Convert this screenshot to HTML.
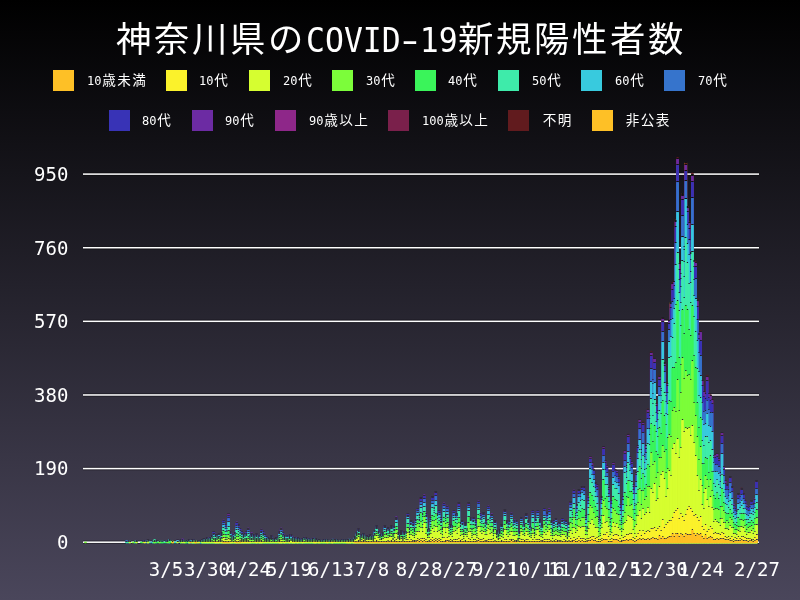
<!DOCTYPE html>
<html lang="ja"><head><meta charset="utf-8"><title>神奈川県のCOVID-19新規陽性者数</title>
<style>
html,body{margin:0;padding:0}
body{width:800px;height:600px;overflow:hidden;position:relative;background:linear-gradient(180deg,#000 0%,#4a465b 100%);color:#fff;font-family:"DejaVu Sans Mono","Noto Sans CJK JP",monospace}
#title{position:absolute;left:116.45px;top:13px;font:35.4px/48px "Noto Sans CJK JP",sans-serif;letter-spacing:2.6px;white-space:nowrap}
.tl{display:inline-block;font:34px/48px "DejaVu Sans Mono",monospace;letter-spacing:0;transform:scaleX(0.926);transform-origin:0 0;margin-right:-11.8px}
.lb{position:absolute;width:21px;height:21px}
.lt{position:absolute;font-size:12px;line-height:0;white-space:nowrap;color:#fff}
.cj{font-family:"Noto Sans CJK JP",sans-serif;font-size:13.6px;letter-spacing:1.4px;margin-left:0.7px}
.yl{position:absolute;right:732px;font-size:19px;line-height:22px;text-align:right}
.xl{position:absolute;top:558px;width:100px;text-align:center;font-size:19px;line-height:22px}
svg{position:absolute;left:0;top:0;filter:blur(0.35px)}
#title,.lt,.yl,.xl{will-change:transform}
.hy{display:inline-block;transform:scaleX(1.55) translateY(-0.5px)}
</style></head><body>
<div id="title">神奈川県の<span class="tl">COVID<span class="hy">-</span>19</span>新規陽性者数</div>
<div class="lb" style="left:53px;top:70px;background:#fec026"></div>
<div class="lt" style="left:86.50px;top:78.5px">10<span class="cj">歳未満</span></div>
<div class="lb" style="left:165.75px;top:70px;background:#fbf22b"></div>
<div class="lt" style="left:199.00px;top:78.5px">10<span class="cj">代</span></div>
<div class="lb" style="left:249px;top:70px;background:#d6fe30"></div>
<div class="lt" style="left:282.75px;top:78.5px">20<span class="cj">代</span></div>
<div class="lb" style="left:332px;top:70px;background:#7cfd3a"></div>
<div class="lt" style="left:365.75px;top:78.5px">30<span class="cj">代</span></div>
<div class="lb" style="left:415px;top:70px;background:#3af45a"></div>
<div class="lt" style="left:448.25px;top:78.5px">40<span class="cj">代</span></div>
<div class="lb" style="left:498px;top:70px;background:#3eebaa"></div>
<div class="lt" style="left:531.50px;top:78.5px">50<span class="cj">代</span></div>
<div class="lb" style="left:581.25px;top:70px;background:#38cade"></div>
<div class="lt" style="left:614.50px;top:78.5px">60<span class="cj">代</span></div>
<div class="lb" style="left:664px;top:70px;background:#3674cc"></div>
<div class="lt" style="left:697.75px;top:78.5px">70<span class="cj">代</span></div>
<div class="lb" style="left:108.75px;top:110px;background:#3833b6"></div>
<div class="lt" style="left:142.00px;top:118.5px">80<span class="cj">代</span></div>
<div class="lb" style="left:192px;top:110px;background:#6c2ba3"></div>
<div class="lt" style="left:225.25px;top:118.5px">90<span class="cj">代</span></div>
<div class="lb" style="left:275px;top:110px;background:#8e2789"></div>
<div class="lt" style="left:308.50px;top:118.5px">90<span class="cj">歳以上</span></div>
<div class="lb" style="left:388px;top:110px;background:#7a204b"></div>
<div class="lt" style="left:421.50px;top:118.5px">100<span class="cj">歳以上</span></div>
<div class="lb" style="left:508px;top:110px;background:#611b1e"></div>
<div class="lt" style="left:541.50px;top:118.5px"><span class="cj">不明</span></div>
<div class="lb" style="left:592px;top:110px;background:#fec026"></div>
<div class="lt" style="left:625.25px;top:118.5px"><span class="cj">非公表</span></div>
<svg width="800" height="600" viewBox="0 0 800 600"><rect x="83" y="540.45" width="676" height="3.5" fill="#000" fill-opacity="0.35"/><rect x="83" y="541.45" width="676" height="1.5" fill="#fff"/><rect x="83" y="466.83" width="676" height="3.5" fill="#000" fill-opacity="0.35"/><rect x="83" y="467.83" width="676" height="1.5" fill="#fff"/><rect x="83" y="393.21" width="676" height="3.5" fill="#000" fill-opacity="0.35"/><rect x="83" y="394.21" width="676" height="1.5" fill="#fff"/><rect x="83" y="319.59" width="676" height="3.5" fill="#000" fill-opacity="0.35"/><rect x="83" y="320.59" width="676" height="1.5" fill="#fff"/><rect x="83" y="245.97" width="676" height="3.5" fill="#000" fill-opacity="0.35"/><rect x="83" y="246.97" width="676" height="1.5" fill="#fff"/><rect x="83" y="172.35" width="676" height="3.5" fill="#000" fill-opacity="0.35"/><rect x="83" y="173.35" width="676" height="1.5" fill="#fff"/><path fill="#fec026" stroke="#fec026" stroke-width="0.9" d="M670.18 302.57h1.64v240.23h-1.64zM681.70 193.69h1.64v349.11h-1.64zM684.99 162.69h1.64v380.11h-1.64zM686.63 206.47h1.64v336.33h-1.64zM689.92 252.58h1.64v290.22h-1.64z"/><path fill="#611b1e" stroke="#611b1e" stroke-width="0.9" d="M198.13 540.86h1.64v1.94h-1.64zM227.74 513.74h1.64v29.06h-1.64zM237.61 524.59h1.64v18.21h-1.64zM418.53 514.90h1.64v27.90h-1.64zM420.18 497.85h1.64v44.95h-1.64zM431.69 496.69h1.64v46.11h-1.64zM433.34 507.93h1.64v34.87h-1.64zM434.98 491.65h1.64v51.15h-1.64zM444.85 514.90h1.64v27.90h-1.64zM456.36 513.74h1.64v29.06h-1.64zM458.01 502.89h1.64v39.91h-1.64zM467.88 502.89h1.64v39.91h-1.64zM482.68 512.96h1.64v29.84h-1.64zM485.97 520.71h1.64v22.09h-1.64zM504.06 509.86h1.64v32.94h-1.64zM525.44 513.74h1.64v29.06h-1.64zM538.60 519.94h1.64v22.86h-1.64zM546.82 512.96h1.64v29.84h-1.64zM569.85 501.73h1.64v41.07h-1.64zM576.43 504.83h1.64v37.97h-1.64zM578.08 489.72h1.64v53.08h-1.64zM579.72 492.43h1.64v50.37h-1.64zM581.36 486.62h1.64v56.18h-1.64zM583.01 486.62h1.64v56.18h-1.64zM589.59 456.78h1.64v86.02h-1.64zM591.23 462.98h1.64v79.82h-1.64zM592.88 469.18h1.64v73.62h-1.64zM594.52 482.74h1.64v60.06h-1.64zM596.17 484.68h1.64v58.12h-1.64zM601.10 496.30h1.64v46.50h-1.64zM602.75 447.09h1.64v95.71h-1.64zM604.39 460.66h1.64v82.14h-1.64zM606.04 465.31h1.64v77.49h-1.64zM607.68 487.78h1.64v55.02h-1.64zM612.62 462.98h1.64v79.82h-1.64zM614.26 469.18h1.64v73.62h-1.64zM615.91 470.73h1.64v72.07h-1.64zM617.55 476.93h1.64v65.87h-1.64zM624.13 450.97h1.64v91.83h-1.64zM625.77 465.31h1.64v77.49h-1.64zM627.42 434.31h1.64v108.49h-1.64zM629.06 456.78h1.64v86.02h-1.64zM630.71 461.43h1.64v81.37h-1.64zM632.35 484.68h1.64v58.12h-1.64zM635.64 473.05h1.64v69.75h-1.64zM637.29 445.93h1.64v96.87h-1.64zM638.93 419.58h1.64v123.22h-1.64zM640.58 449.81h1.64v92.99h-1.64zM642.22 421.91h1.64v120.89h-1.64zM643.87 454.84h1.64v87.96h-1.64zM645.51 445.93h1.64v96.87h-1.64zM647.16 409.12h1.64v133.68h-1.64zM648.80 414.93h1.64v127.87h-1.64zM650.45 351.78h1.64v191.02h-1.64zM652.09 380.06h1.64v162.74h-1.64zM653.73 358.36h1.64v184.44h-1.64zM655.38 402.92h1.64v139.88h-1.64zM657.02 410.67h1.64v132.13h-1.64zM658.67 375.80h1.64v167.00h-1.64zM660.31 387.81h1.64v154.99h-1.64zM661.96 317.68h1.64v225.12h-1.64zM663.60 362.62h1.64v180.18h-1.64zM665.25 392.85h1.64v149.95h-1.64zM666.89 382.77h1.64v160.03h-1.64zM668.54 320.00h1.64v222.80h-1.64zM670.18 302.95h1.64v239.85h-1.64zM671.83 282.81h1.64v259.99h-1.64zM673.47 280.87h1.64v261.93h-1.64zM675.12 219.65h1.64v323.15h-1.64zM676.76 157.65h1.64v385.15h-1.64zM678.41 262.66h1.64v280.14h-1.64zM680.05 272.73h1.64v270.07h-1.64zM681.70 194.07h1.64v348.73h-1.64zM683.34 245.61h1.64v297.19h-1.64zM684.99 163.08h1.64v379.72h-1.64zM686.63 206.86h1.64v335.94h-1.64zM688.27 221.58h1.64v321.22h-1.64zM689.92 252.97h1.64v289.83h-1.64zM691.56 173.15h1.64v369.65h-1.64zM693.21 259.94h1.64v282.86h-1.64zM694.85 261.88h1.64v280.92h-1.64zM696.50 299.85h1.64v242.95h-1.64zM698.14 333.56h1.64v209.24h-1.64zM699.79 330.85h1.64v211.95h-1.64zM701.43 380.06h1.64v162.74h-1.64zM703.08 390.91h1.64v151.89h-1.64zM704.72 392.85h1.64v149.95h-1.64zM706.37 375.80h1.64v167.00h-1.64zM708.01 393.24h1.64v149.56h-1.64zM709.66 394.79h1.64v148.01h-1.64zM711.30 399.43h1.64v143.37h-1.64zM712.95 455.62h1.64v87.18h-1.64zM714.59 454.84h1.64v87.96h-1.64zM716.24 453.68h1.64v89.12h-1.64zM717.88 458.72h1.64v84.08h-1.64zM719.53 473.05h1.64v69.75h-1.64zM721.17 432.76h1.64v110.04h-1.64zM722.82 466.86h1.64v75.94h-1.64zM724.46 480.80h1.64v62.00h-1.64zM726.10 484.68h1.64v58.12h-1.64zM729.39 476.93h1.64v65.87h-1.64zM731.04 486.62h1.64v56.18h-1.64zM735.97 511.03h1.64v31.77h-1.64zM737.62 493.59h1.64v49.21h-1.64zM740.91 488.17h1.64v54.63h-1.64zM742.55 493.59h1.64v49.21h-1.64zM744.20 500.18h1.64v42.62h-1.64zM750.78 500.57h1.64v42.23h-1.64zM752.42 504.05h1.64v38.75h-1.64zM755.71 480.80h1.64v62.00h-1.64z"/><path fill="#7a204b" stroke="#7a204b" stroke-width="0.9" d="M650.45 352.55h1.64v190.25h-1.64zM653.73 358.75h1.64v184.05h-1.64zM661.96 318.45h1.64v224.35h-1.64zM663.60 363.40h1.64v179.40h-1.64zM668.54 320.78h1.64v222.02h-1.64zM670.18 303.73h1.64v239.07h-1.64zM671.83 283.97h1.64v258.83h-1.64zM673.47 282.03h1.64v260.77h-1.64zM675.12 221.20h1.64v321.60h-1.64zM676.76 158.81h1.64v383.99h-1.64zM678.41 263.82h1.64v278.98h-1.64zM680.05 273.89h1.64v268.91h-1.64zM681.70 195.24h1.64v347.56h-1.64zM683.34 246.77h1.64v296.03h-1.64zM684.99 164.63h1.64v378.17h-1.64zM686.63 208.02h1.64v334.78h-1.64zM688.27 222.75h1.64v320.05h-1.64zM689.92 253.74h1.64v289.06h-1.64zM691.56 175.47h1.64v367.33h-1.64zM693.21 261.49h1.64v281.31h-1.64zM694.85 262.66h1.64v280.14h-1.64zM696.50 301.02h1.64v241.78h-1.64zM698.14 334.34h1.64v208.46h-1.64zM699.79 332.01h1.64v210.79h-1.64zM703.08 391.69h1.64v151.11h-1.64zM706.37 376.96h1.64v165.84h-1.64z"/><path fill="#8e2789" stroke="#8e2789" stroke-width="0.9" d=""/><path fill="#6c2ba3" stroke="#6c2ba3" stroke-width="0.9" d="M127.41 541.25h1.64v1.55h-1.64zM145.50 541.25h1.64v1.55h-1.64zM176.75 539.70h1.64v3.10h-1.64zM180.04 539.70h1.64v3.10h-1.64zM181.69 538.93h1.64v3.87h-1.64zM198.13 541.25h1.64v1.55h-1.64zM204.71 539.70h1.64v3.10h-1.64zM206.36 537.76h1.64v5.04h-1.64zM209.65 537.38h1.64v5.42h-1.64zM211.29 535.44h1.64v7.36h-1.64zM212.94 531.95h1.64v10.85h-1.64zM214.58 534.28h1.64v8.52h-1.64zM216.23 535.05h1.64v7.75h-1.64zM217.87 533.50h1.64v9.30h-1.64zM219.52 538.15h1.64v4.65h-1.64zM221.16 532.34h1.64v10.46h-1.64zM222.81 519.94h1.64v22.86h-1.64zM224.45 524.20h1.64v18.60h-1.64zM226.09 526.53h1.64v16.27h-1.64zM227.74 514.13h1.64v28.67h-1.64zM229.38 531.18h1.64v11.62h-1.64zM231.03 535.44h1.64v7.36h-1.64zM232.67 533.89h1.64v8.91h-1.64zM234.32 531.95h1.64v10.85h-1.64zM235.96 521.88h1.64v20.92h-1.64zM237.61 524.98h1.64v17.82h-1.64zM239.25 528.46h1.64v14.34h-1.64zM240.90 531.56h1.64v11.24h-1.64zM242.54 534.66h1.64v8.14h-1.64zM244.19 533.11h1.64v9.69h-1.64zM245.83 531.95h1.64v10.85h-1.64zM247.48 528.08h1.64v14.72h-1.64zM249.12 535.44h1.64v7.36h-1.64zM250.77 532.73h1.64v10.07h-1.64zM252.41 534.66h1.64v8.14h-1.64zM254.06 536.60h1.64v6.20h-1.64zM255.70 533.89h1.64v8.91h-1.64zM257.35 535.83h1.64v6.97h-1.64zM258.99 535.44h1.64v7.36h-1.64zM260.64 529.24h1.64v13.56h-1.64zM262.28 531.56h1.64v11.24h-1.64zM263.92 535.05h1.64v7.75h-1.64zM265.57 536.21h1.64v6.59h-1.64zM267.21 537.76h1.64v5.04h-1.64zM268.86 538.93h1.64v3.87h-1.64zM270.50 535.44h1.64v7.36h-1.64zM272.15 538.93h1.64v3.87h-1.64zM273.79 538.93h1.64v3.87h-1.64zM275.44 537.38h1.64v5.42h-1.64zM277.08 536.99h1.64v5.81h-1.64zM278.73 531.18h1.64v11.62h-1.64zM280.37 528.08h1.64v14.72h-1.64zM282.02 532.73h1.64v10.07h-1.64zM283.66 535.44h1.64v7.36h-1.64zM285.31 535.44h1.64v7.36h-1.64zM286.95 535.44h1.64v7.36h-1.64zM288.60 535.05h1.64v7.75h-1.64zM290.24 535.05h1.64v7.75h-1.64zM291.89 537.38h1.64v5.42h-1.64zM293.53 537.38h1.64v5.42h-1.64zM295.18 538.15h1.64v4.65h-1.64zM296.82 537.76h1.64v5.04h-1.64zM300.11 539.31h1.64v3.49h-1.64zM301.75 538.54h1.64v4.26h-1.64zM303.40 537.38h1.64v5.42h-1.64zM305.04 537.76h1.64v5.04h-1.64zM309.98 539.31h1.64v3.49h-1.64zM356.03 532.34h1.64v10.46h-1.64zM357.68 528.85h1.64v13.95h-1.64zM359.32 536.21h1.64v6.59h-1.64zM362.61 533.89h1.64v8.91h-1.64zM365.90 535.44h1.64v7.36h-1.64zM369.19 535.05h1.64v7.75h-1.64zM372.48 535.83h1.64v6.97h-1.64zM374.12 530.79h1.64v12.01h-1.64zM375.77 525.75h1.64v17.05h-1.64zM382.35 532.73h1.64v10.07h-1.64zM383.99 525.75h1.64v17.05h-1.64zM385.64 530.01h1.64v12.79h-1.64zM387.28 527.69h1.64v15.11h-1.64zM388.93 529.63h1.64v13.17h-1.64zM390.57 525.75h1.64v17.05h-1.64zM393.86 526.53h1.64v16.27h-1.64zM395.51 516.84h1.64v25.96h-1.64zM397.15 532.73h1.64v10.07h-1.64zM400.44 530.79h1.64v12.01h-1.64zM403.73 531.95h1.64v10.85h-1.64zM405.37 531.56h1.64v11.24h-1.64zM407.02 513.74h1.64v29.06h-1.64zM408.66 528.46h1.64v14.34h-1.64zM410.31 520.71h1.64v22.09h-1.64zM411.95 522.65h1.64v20.15h-1.64zM413.60 528.85h1.64v13.95h-1.64zM415.24 518.78h1.64v24.02h-1.64zM416.89 508.70h1.64v34.10h-1.64zM418.53 515.29h1.64v27.51h-1.64zM420.18 498.24h1.64v44.56h-1.64zM421.82 512.96h1.64v29.84h-1.64zM423.47 494.75h1.64v48.05h-1.64zM425.11 512.96h1.64v29.84h-1.64zM426.76 529.63h1.64v13.17h-1.64zM428.40 528.85h1.64v13.95h-1.64zM430.05 517.23h1.64v25.57h-1.64zM431.69 497.08h1.64v45.72h-1.64zM433.34 508.31h1.64v34.49h-1.64zM434.98 492.04h1.64v50.76h-1.64zM436.63 512.96h1.64v29.84h-1.64zM438.27 510.64h1.64v32.16h-1.64zM439.91 517.61h1.64v25.19h-1.64zM441.56 527.30h1.64v15.50h-1.64zM443.20 502.89h1.64v39.91h-1.64zM444.85 515.29h1.64v27.51h-1.64zM446.49 505.99h1.64v36.81h-1.64zM448.14 524.98h1.64v17.82h-1.64zM449.78 524.98h1.64v17.82h-1.64zM451.43 525.75h1.64v17.05h-1.64zM453.07 510.64h1.64v32.16h-1.64zM454.72 514.90h1.64v27.90h-1.64zM456.36 514.13h1.64v28.67h-1.64zM458.01 503.28h1.64v39.52h-1.64zM459.65 522.65h1.64v20.15h-1.64zM461.30 520.71h1.64v22.09h-1.64zM462.94 530.40h1.64v12.40h-1.64zM464.59 522.65h1.64v20.15h-1.64zM466.23 528.46h1.64v14.34h-1.64zM467.88 503.28h1.64v39.52h-1.64zM469.52 517.61h1.64v25.19h-1.64zM471.17 528.46h1.64v14.34h-1.64zM472.81 517.61h1.64v25.19h-1.64zM474.45 520.71h1.64v22.09h-1.64zM476.10 526.91h1.64v15.89h-1.64zM477.74 500.95h1.64v41.85h-1.64zM479.39 512.96h1.64v29.84h-1.64zM481.03 517.23h1.64v25.57h-1.64zM482.68 513.35h1.64v29.45h-1.64zM484.32 522.65h1.64v20.15h-1.64zM485.97 521.10h1.64v21.70h-1.64zM487.61 505.99h1.64v36.81h-1.64zM489.26 517.61h1.64v25.19h-1.64zM490.90 513.74h1.64v29.06h-1.64zM492.55 529.24h1.64v13.56h-1.64zM494.19 520.71h1.64v22.09h-1.64zM495.84 530.79h1.64v12.01h-1.64zM497.48 534.66h1.64v8.14h-1.64zM499.13 529.63h1.64v13.17h-1.64zM500.77 524.98h1.64v17.82h-1.64zM502.42 528.85h1.64v13.95h-1.64zM504.06 510.25h1.64v32.55h-1.64zM505.71 520.71h1.64v22.09h-1.64zM507.35 523.81h1.64v18.99h-1.64zM509.00 520.71h1.64v22.09h-1.64zM510.64 512.96h1.64v29.84h-1.64zM512.28 520.33h1.64v22.47h-1.64zM513.93 519.94h1.64v22.86h-1.64zM515.57 520.71h1.64v22.09h-1.64zM520.51 517.61h1.64v25.19h-1.64zM522.15 522.65h1.64v20.15h-1.64zM523.80 524.59h1.64v18.21h-1.64zM525.44 514.13h1.64v28.67h-1.64zM527.09 520.71h1.64v22.09h-1.64zM528.73 526.14h1.64v16.66h-1.64zM530.38 527.69h1.64v15.11h-1.64zM532.02 510.64h1.64v32.16h-1.64zM533.67 529.24h1.64v13.56h-1.64zM535.31 517.61h1.64v25.19h-1.64zM536.96 510.64h1.64v32.16h-1.64zM538.60 520.33h1.64v22.47h-1.64zM540.25 525.75h1.64v17.05h-1.64zM541.89 524.98h1.64v17.82h-1.64zM543.54 508.70h1.64v34.10h-1.64zM545.18 519.16h1.64v23.64h-1.64zM546.82 513.35h1.64v29.45h-1.64zM548.47 508.70h1.64v34.10h-1.64zM550.11 520.71h1.64v22.09h-1.64zM551.76 529.63h1.64v13.17h-1.64zM553.40 520.71h1.64v22.09h-1.64zM555.05 518.78h1.64v24.02h-1.64zM556.69 523.81h1.64v18.99h-1.64zM558.34 522.65h1.64v20.15h-1.64zM559.98 525.75h1.64v17.05h-1.64zM561.63 518.78h1.64v24.02h-1.64zM563.27 521.10h1.64v21.70h-1.64zM564.92 520.71h1.64v22.09h-1.64zM566.56 532.34h1.64v10.46h-1.64zM568.21 522.65h1.64v20.15h-1.64zM569.85 502.12h1.64v40.68h-1.64zM571.50 512.96h1.64v29.84h-1.64zM573.14 490.10h1.64v52.70h-1.64zM574.79 513.35h1.64v29.45h-1.64zM576.43 505.22h1.64v37.58h-1.64zM578.08 490.10h1.64v52.70h-1.64zM579.72 492.82h1.64v49.98h-1.64zM581.36 487.00h1.64v55.80h-1.64zM583.01 487.00h1.64v55.80h-1.64zM584.65 515.68h1.64v27.12h-1.64zM586.30 526.91h1.64v15.89h-1.64zM587.94 496.30h1.64v46.50h-1.64zM589.59 457.17h1.64v85.63h-1.64zM591.23 463.37h1.64v79.43h-1.64zM592.88 469.57h1.64v73.23h-1.64zM594.52 483.13h1.64v59.67h-1.64zM596.17 485.07h1.64v57.73h-1.64zM597.81 517.61h1.64v25.19h-1.64zM599.46 519.55h1.64v23.25h-1.64zM601.10 496.69h1.64v46.11h-1.64zM602.75 447.48h1.64v95.32h-1.64zM604.39 461.04h1.64v81.76h-1.64zM606.04 465.69h1.64v77.11h-1.64zM607.68 488.17h1.64v54.63h-1.64zM609.33 519.94h1.64v22.86h-1.64zM610.97 500.18h1.64v42.62h-1.64zM612.62 463.37h1.64v79.43h-1.64zM614.26 469.57h1.64v73.23h-1.64zM615.91 471.12h1.64v71.68h-1.64zM617.55 477.32h1.64v65.48h-1.64zM619.19 504.05h1.64v38.75h-1.64zM620.84 518.00h1.64v24.80h-1.64zM622.48 496.30h1.64v46.50h-1.64zM624.13 451.36h1.64v91.44h-1.64zM625.77 465.69h1.64v77.11h-1.64zM627.42 434.69h1.64v108.11h-1.64zM629.06 457.17h1.64v85.63h-1.64zM630.71 461.82h1.64v80.98h-1.64zM632.35 485.07h1.64v57.73h-1.64zM634.00 502.89h1.64v39.91h-1.64zM635.64 473.44h1.64v69.36h-1.64zM637.29 446.32h1.64v96.48h-1.64zM638.93 419.97h1.64v122.83h-1.64zM640.58 450.19h1.64v92.61h-1.64zM642.22 422.68h1.64v120.12h-1.64zM643.87 455.23h1.64v87.57h-1.64zM645.51 446.32h1.64v96.48h-1.64zM647.16 409.51h1.64v133.29h-1.64zM648.80 415.71h1.64v127.09h-1.64zM650.45 352.94h1.64v189.86h-1.64zM652.09 380.45h1.64v162.35h-1.64zM653.73 359.14h1.64v183.66h-1.64zM655.38 403.70h1.64v139.10h-1.64zM657.02 411.06h1.64v131.74h-1.64zM658.67 376.57h1.64v166.23h-1.64zM660.31 388.59h1.64v154.21h-1.64zM661.96 318.84h1.64v223.96h-1.64zM663.60 363.79h1.64v179.01h-1.64zM665.25 393.24h1.64v149.56h-1.64zM666.89 383.55h1.64v159.25h-1.64zM668.54 321.17h1.64v221.63h-1.64zM670.18 304.12h1.64v238.68h-1.64zM671.83 284.36h1.64v258.44h-1.64zM673.47 282.42h1.64v260.38h-1.64zM675.12 221.58h1.64v321.22h-1.64zM676.76 159.20h1.64v383.60h-1.64zM678.41 264.21h1.64v278.59h-1.64zM680.05 274.28h1.64v268.52h-1.64zM681.70 195.62h1.64v347.18h-1.64zM683.34 247.16h1.64v295.64h-1.64zM684.99 165.01h1.64v377.79h-1.64zM686.63 208.41h1.64v334.39h-1.64zM688.27 223.13h1.64v319.67h-1.64zM689.92 254.13h1.64v288.67h-1.64zM691.56 175.86h1.64v366.94h-1.64zM693.21 261.88h1.64v280.92h-1.64zM694.85 263.04h1.64v279.76h-1.64zM696.50 301.40h1.64v241.40h-1.64zM698.14 334.73h1.64v208.07h-1.64zM699.79 332.40h1.64v210.40h-1.64zM701.43 380.84h1.64v161.96h-1.64zM703.08 392.07h1.64v150.73h-1.64zM704.72 393.62h1.64v149.18h-1.64zM706.37 377.35h1.64v165.45h-1.64zM708.01 394.01h1.64v148.79h-1.64zM709.66 395.56h1.64v147.24h-1.64zM711.30 400.21h1.64v142.59h-1.64zM712.95 456.01h1.64v86.79h-1.64zM714.59 455.23h1.64v87.57h-1.64zM716.24 454.07h1.64v88.73h-1.64zM717.88 459.11h1.64v83.69h-1.64zM719.53 473.44h1.64v69.36h-1.64zM721.17 433.14h1.64v109.66h-1.64zM722.82 467.24h1.64v75.56h-1.64zM724.46 481.19h1.64v61.61h-1.64zM726.10 485.07h1.64v57.73h-1.64zM727.75 488.55h1.64v54.25h-1.64zM729.39 477.32h1.64v65.48h-1.64zM731.04 487.00h1.64v55.80h-1.64zM732.68 504.05h1.64v38.75h-1.64zM734.33 507.93h1.64v34.87h-1.64zM735.97 511.41h1.64v31.39h-1.64zM737.62 493.98h1.64v48.82h-1.64zM739.26 496.30h1.64v46.50h-1.64zM740.91 488.55h1.64v54.25h-1.64zM742.55 493.98h1.64v48.82h-1.64zM744.20 500.57h1.64v42.23h-1.64zM745.84 505.60h1.64v37.20h-1.64zM747.49 507.54h1.64v35.26h-1.64zM749.13 505.99h1.64v36.81h-1.64zM750.78 500.95h1.64v41.85h-1.64zM752.42 504.44h1.64v38.36h-1.64zM754.07 498.63h1.64v44.17h-1.64zM755.71 481.19h1.64v61.61h-1.64z"/><path fill="#3833b6" stroke="#3833b6" stroke-width="0.9" d="M142.21 541.25h1.64v1.55h-1.64zM143.86 540.48h1.64v2.32h-1.64zM147.15 539.70h1.64v3.10h-1.64zM155.37 540.48h1.64v2.32h-1.64zM166.88 540.48h1.64v2.32h-1.64zM181.69 539.70h1.64v3.10h-1.64zM188.27 540.09h1.64v2.71h-1.64zM191.55 539.70h1.64v3.10h-1.64zM193.20 540.09h1.64v2.71h-1.64zM199.78 540.48h1.64v2.32h-1.64zM201.42 539.70h1.64v3.10h-1.64zM203.07 538.93h1.64v3.87h-1.64zM204.71 540.09h1.64v2.71h-1.64zM206.36 538.15h1.64v4.65h-1.64zM208.00 538.15h1.64v4.65h-1.64zM209.65 537.76h1.64v5.04h-1.64zM211.29 535.83h1.64v6.97h-1.64zM212.94 532.34h1.64v10.46h-1.64zM214.58 534.66h1.64v8.14h-1.64zM216.23 535.44h1.64v7.36h-1.64zM217.87 533.89h1.64v8.91h-1.64zM219.52 538.54h1.64v4.26h-1.64zM221.16 533.11h1.64v9.69h-1.64zM222.81 520.71h1.64v22.09h-1.64zM224.45 524.98h1.64v17.82h-1.64zM226.09 527.30h1.64v15.50h-1.64zM227.74 515.68h1.64v27.12h-1.64zM229.38 531.56h1.64v11.24h-1.64zM231.03 535.83h1.64v6.97h-1.64zM232.67 534.66h1.64v8.14h-1.64zM234.32 532.73h1.64v10.07h-1.64zM235.96 523.04h1.64v19.76h-1.64zM237.61 525.75h1.64v17.05h-1.64zM239.25 529.24h1.64v13.56h-1.64zM240.90 532.34h1.64v10.46h-1.64zM242.54 535.05h1.64v7.75h-1.64zM244.19 533.50h1.64v9.30h-1.64zM245.83 532.34h1.64v10.46h-1.64zM247.48 528.85h1.64v13.95h-1.64zM249.12 535.83h1.64v6.97h-1.64zM250.77 533.50h1.64v9.30h-1.64zM252.41 535.05h1.64v7.75h-1.64zM254.06 536.99h1.64v5.81h-1.64zM255.70 534.28h1.64v8.52h-1.64zM257.35 536.21h1.64v6.59h-1.64zM258.99 535.83h1.64v6.97h-1.64zM260.64 530.01h1.64v12.79h-1.64zM262.28 532.34h1.64v10.46h-1.64zM263.92 535.44h1.64v7.36h-1.64zM265.57 536.60h1.64v6.20h-1.64zM267.21 538.15h1.64v4.65h-1.64zM268.86 539.31h1.64v3.49h-1.64zM270.50 535.83h1.64v6.97h-1.64zM272.15 539.31h1.64v3.49h-1.64zM273.79 539.31h1.64v3.49h-1.64zM275.44 537.76h1.64v5.04h-1.64zM277.08 537.38h1.64v5.42h-1.64zM278.73 531.95h1.64v10.85h-1.64zM280.37 528.85h1.64v13.95h-1.64zM282.02 533.11h1.64v9.69h-1.64zM283.66 535.83h1.64v6.97h-1.64zM285.31 535.83h1.64v6.97h-1.64zM286.95 535.83h1.64v6.97h-1.64zM288.60 535.44h1.64v7.36h-1.64zM290.24 535.44h1.64v7.36h-1.64zM291.89 537.76h1.64v5.04h-1.64zM293.53 537.76h1.64v5.04h-1.64zM295.18 538.54h1.64v4.26h-1.64zM296.82 538.15h1.64v4.65h-1.64zM298.46 538.93h1.64v3.87h-1.64zM300.11 539.70h1.64v3.10h-1.64zM301.75 538.93h1.64v3.87h-1.64zM303.40 537.76h1.64v5.04h-1.64zM305.04 538.15h1.64v4.65h-1.64zM306.69 539.31h1.64v3.49h-1.64zM308.33 538.93h1.64v3.87h-1.64zM311.62 538.93h1.64v3.87h-1.64zM313.27 538.15h1.64v4.65h-1.64zM314.91 538.54h1.64v4.26h-1.64zM323.14 539.70h1.64v3.10h-1.64zM333.00 539.31h1.64v3.49h-1.64zM341.23 539.70h1.64v3.10h-1.64zM354.39 536.60h1.64v6.20h-1.64zM356.03 532.73h1.64v10.07h-1.64zM357.68 529.24h1.64v13.56h-1.64zM359.32 536.60h1.64v6.20h-1.64zM360.97 534.66h1.64v8.14h-1.64zM362.61 534.28h1.64v8.52h-1.64zM364.26 536.60h1.64v6.20h-1.64zM365.90 535.83h1.64v6.97h-1.64zM367.55 536.99h1.64v5.81h-1.64zM369.19 535.44h1.64v7.36h-1.64zM370.83 536.21h1.64v6.59h-1.64zM372.48 536.21h1.64v6.59h-1.64zM374.12 531.18h1.64v11.62h-1.64zM375.77 526.14h1.64v16.66h-1.64zM377.41 530.79h1.64v12.01h-1.64zM379.06 534.28h1.64v8.52h-1.64zM380.70 536.21h1.64v6.59h-1.64zM382.35 533.11h1.64v9.69h-1.64zM383.99 526.14h1.64v16.66h-1.64zM385.64 530.40h1.64v12.40h-1.64zM387.28 528.08h1.64v14.72h-1.64zM388.93 530.01h1.64v12.79h-1.64zM390.57 526.14h1.64v16.66h-1.64zM392.22 533.89h1.64v8.91h-1.64zM393.86 526.91h1.64v15.89h-1.64zM395.51 517.61h1.64v25.19h-1.64zM397.15 533.11h1.64v9.69h-1.64zM398.80 535.83h1.64v6.97h-1.64zM400.44 531.18h1.64v11.62h-1.64zM402.09 536.99h1.64v5.81h-1.64zM403.73 532.34h1.64v10.46h-1.64zM405.37 531.95h1.64v10.85h-1.64zM407.02 514.13h1.64v28.67h-1.64zM408.66 528.85h1.64v13.95h-1.64zM410.31 521.10h1.64v21.70h-1.64zM411.95 523.43h1.64v19.37h-1.64zM413.60 529.24h1.64v13.56h-1.64zM415.24 519.55h1.64v23.25h-1.64zM416.89 509.48h1.64v33.32h-1.64zM418.53 515.68h1.64v27.12h-1.64zM420.18 499.02h1.64v43.78h-1.64zM421.82 513.74h1.64v29.06h-1.64zM423.47 496.30h1.64v46.50h-1.64zM425.11 513.74h1.64v29.06h-1.64zM426.76 530.01h1.64v12.79h-1.64zM428.40 529.24h1.64v13.56h-1.64zM430.05 518.00h1.64v24.80h-1.64zM431.69 498.24h1.64v44.56h-1.64zM433.34 509.09h1.64v33.71h-1.64zM434.98 493.20h1.64v49.60h-1.64zM436.63 513.74h1.64v29.06h-1.64zM438.27 511.41h1.64v31.39h-1.64zM439.91 518.39h1.64v24.41h-1.64zM441.56 527.69h1.64v15.11h-1.64zM443.20 504.05h1.64v38.75h-1.64zM444.85 515.68h1.64v27.12h-1.64zM446.49 507.15h1.64v35.65h-1.64zM448.14 525.36h1.64v17.44h-1.64zM449.78 525.36h1.64v17.44h-1.64zM451.43 526.14h1.64v16.66h-1.64zM453.07 511.41h1.64v31.39h-1.64zM454.72 515.29h1.64v27.51h-1.64zM456.36 514.90h1.64v27.90h-1.64zM458.01 504.44h1.64v38.36h-1.64zM459.65 523.04h1.64v19.76h-1.64zM461.30 521.49h1.64v21.31h-1.64zM462.94 530.79h1.64v12.01h-1.64zM464.59 523.04h1.64v19.76h-1.64zM466.23 528.85h1.64v13.95h-1.64zM467.88 504.44h1.64v38.36h-1.64zM469.52 518.00h1.64v24.80h-1.64zM471.17 528.85h1.64v13.95h-1.64zM472.81 518.00h1.64v24.80h-1.64zM474.45 521.49h1.64v21.31h-1.64zM476.10 527.30h1.64v15.50h-1.64zM477.74 501.73h1.64v41.07h-1.64zM479.39 513.74h1.64v29.06h-1.64zM481.03 518.00h1.64v24.80h-1.64zM482.68 513.74h1.64v29.06h-1.64zM484.32 523.04h1.64v19.76h-1.64zM485.97 521.49h1.64v21.31h-1.64zM487.61 506.76h1.64v36.04h-1.64zM489.26 518.00h1.64v24.80h-1.64zM490.90 514.51h1.64v28.29h-1.64zM492.55 529.63h1.64v13.17h-1.64zM494.19 521.10h1.64v21.70h-1.64zM495.84 531.18h1.64v11.62h-1.64zM497.48 535.05h1.64v7.75h-1.64zM499.13 530.01h1.64v12.79h-1.64zM500.77 525.36h1.64v17.44h-1.64zM502.42 529.24h1.64v13.56h-1.64zM504.06 511.03h1.64v31.77h-1.64zM505.71 521.10h1.64v21.70h-1.64zM507.35 524.20h1.64v18.60h-1.64zM509.00 521.10h1.64v21.70h-1.64zM510.64 513.74h1.64v29.06h-1.64zM512.28 521.10h1.64v21.70h-1.64zM513.93 520.71h1.64v22.09h-1.64zM515.57 521.10h1.64v21.70h-1.64zM517.22 538.93h1.64v3.87h-1.64zM518.86 530.79h1.64v12.01h-1.64zM520.51 518.00h1.64v24.80h-1.64zM522.15 523.43h1.64v19.37h-1.64zM523.80 524.98h1.64v17.82h-1.64zM525.44 514.90h1.64v27.90h-1.64zM527.09 521.10h1.64v21.70h-1.64zM528.73 526.53h1.64v16.27h-1.64zM530.38 528.08h1.64v14.72h-1.64zM532.02 511.41h1.64v31.39h-1.64zM533.67 529.63h1.64v13.17h-1.64zM535.31 518.39h1.64v24.41h-1.64zM536.96 511.41h1.64v31.39h-1.64zM538.60 520.71h1.64v22.09h-1.64zM540.25 526.14h1.64v16.66h-1.64zM541.89 525.36h1.64v17.44h-1.64zM543.54 509.48h1.64v33.32h-1.64zM545.18 519.94h1.64v22.86h-1.64zM546.82 514.13h1.64v28.67h-1.64zM548.47 509.86h1.64v32.94h-1.64zM550.11 521.10h1.64v21.70h-1.64zM551.76 530.01h1.64v12.79h-1.64zM553.40 521.49h1.64v21.31h-1.64zM555.05 519.16h1.64v23.64h-1.64zM556.69 524.20h1.64v18.60h-1.64zM558.34 523.43h1.64v19.37h-1.64zM559.98 526.53h1.64v16.27h-1.64zM561.63 519.16h1.64v23.64h-1.64zM563.27 521.49h1.64v21.31h-1.64zM564.92 521.10h1.64v21.70h-1.64zM566.56 532.73h1.64v10.07h-1.64zM568.21 523.04h1.64v19.76h-1.64zM569.85 502.89h1.64v39.91h-1.64zM571.50 513.35h1.64v29.45h-1.64zM573.14 491.27h1.64v51.53h-1.64zM574.79 514.13h1.64v28.67h-1.64zM576.43 505.99h1.64v36.81h-1.64zM578.08 491.27h1.64v51.53h-1.64zM579.72 493.59h1.64v49.21h-1.64zM581.36 488.17h1.64v54.63h-1.64zM583.01 488.17h1.64v54.63h-1.64zM584.65 516.45h1.64v26.35h-1.64zM586.30 527.30h1.64v15.50h-1.64zM587.94 497.85h1.64v44.95h-1.64zM589.59 459.11h1.64v83.69h-1.64zM591.23 465.69h1.64v77.11h-1.64zM592.88 471.12h1.64v71.68h-1.64zM594.52 484.29h1.64v58.51h-1.64zM596.17 486.62h1.64v56.18h-1.64zM597.81 518.00h1.64v24.80h-1.64zM599.46 519.94h1.64v22.86h-1.64zM601.10 498.24h1.64v44.56h-1.64zM602.75 449.42h1.64v93.38h-1.64zM604.39 463.37h1.64v79.43h-1.64zM606.04 468.02h1.64v74.78h-1.64zM607.68 489.72h1.64v53.08h-1.64zM609.33 520.33h1.64v22.47h-1.64zM610.97 501.34h1.64v41.46h-1.64zM612.62 464.92h1.64v77.88h-1.64zM614.26 471.12h1.64v71.68h-1.64zM615.91 473.05h1.64v69.75h-1.64zM617.55 478.87h1.64v63.93h-1.64zM619.19 504.83h1.64v37.97h-1.64zM620.84 518.78h1.64v24.02h-1.64zM622.48 497.47h1.64v45.33h-1.64zM624.13 453.68h1.64v89.12h-1.64zM625.77 468.02h1.64v74.78h-1.64zM627.42 436.63h1.64v106.17h-1.64zM629.06 459.49h1.64v83.31h-1.64zM630.71 463.76h1.64v79.04h-1.64zM632.35 486.62h1.64v56.18h-1.64zM634.00 503.67h1.64v39.13h-1.64zM635.64 475.38h1.64v67.42h-1.64zM637.29 447.87h1.64v94.93h-1.64zM638.93 423.46h1.64v119.34h-1.64zM640.58 452.52h1.64v90.28h-1.64zM642.22 425.01h1.64v117.79h-1.64zM643.87 457.17h1.64v85.63h-1.64zM645.51 448.64h1.64v94.16h-1.64zM647.16 413.38h1.64v129.42h-1.64zM648.80 419.20h1.64v123.60h-1.64zM650.45 356.43h1.64v186.37h-1.64zM652.09 383.94h1.64v158.86h-1.64zM653.73 363.01h1.64v179.79h-1.64zM655.38 406.02h1.64v136.78h-1.64zM657.02 413.77h1.64v129.03h-1.64zM658.67 379.67h1.64v163.13h-1.64zM660.31 390.52h1.64v152.28h-1.64zM661.96 321.94h1.64v220.86h-1.64zM663.60 366.11h1.64v176.69h-1.64zM665.25 395.95h1.64v146.85h-1.64zM666.89 386.26h1.64v156.54h-1.64zM668.54 323.88h1.64v218.92h-1.64zM670.18 308.38h1.64v234.42h-1.64zM671.83 290.17h1.64v252.63h-1.64zM673.47 286.29h1.64v256.51h-1.64zM675.12 227.40h1.64v315.40h-1.64zM676.76 165.40h1.64v377.40h-1.64zM678.41 270.41h1.64v272.39h-1.64zM680.05 278.93h1.64v263.87h-1.64zM681.70 200.27h1.64v342.53h-1.64zM683.34 250.26h1.64v292.54h-1.64zM684.99 170.83h1.64v371.97h-1.64zM686.63 212.28h1.64v330.52h-1.64zM688.27 228.95h1.64v313.85h-1.64zM689.92 259.56h1.64v283.24h-1.64zM691.56 182.06h1.64v360.74h-1.64zM693.21 266.92h1.64v275.88h-1.64zM694.85 266.92h1.64v275.88h-1.64zM696.50 307.22h1.64v235.58h-1.64zM698.14 339.38h1.64v203.42h-1.64zM699.79 340.54h1.64v202.26h-1.64zM701.43 385.87h1.64v156.93h-1.64zM703.08 396.72h1.64v146.08h-1.64zM704.72 398.66h1.64v144.14h-1.64zM706.37 381.22h1.64v161.58h-1.64zM708.01 398.27h1.64v144.53h-1.64zM709.66 400.60h1.64v142.20h-1.64zM711.30 404.08h1.64v138.72h-1.64zM712.95 457.56h1.64v85.24h-1.64zM714.59 457.56h1.64v85.24h-1.64zM716.24 456.78h1.64v86.02h-1.64zM717.88 461.43h1.64v81.37h-1.64zM719.53 475.77h1.64v67.03h-1.64zM721.17 435.86h1.64v106.94h-1.64zM722.82 469.57h1.64v73.23h-1.64zM724.46 483.52h1.64v59.28h-1.64zM726.10 486.23h1.64v56.57h-1.64zM727.75 489.72h1.64v53.08h-1.64zM729.39 478.48h1.64v64.32h-1.64zM731.04 488.17h1.64v54.63h-1.64zM732.68 505.60h1.64v37.20h-1.64zM734.33 508.70h1.64v34.10h-1.64zM735.97 512.19h1.64v30.61h-1.64zM737.62 495.14h1.64v47.66h-1.64zM739.26 497.47h1.64v45.33h-1.64zM740.91 490.10h1.64v52.70h-1.64zM742.55 495.14h1.64v47.66h-1.64zM744.20 501.34h1.64v41.46h-1.64zM745.84 506.76h1.64v36.04h-1.64zM747.49 508.31h1.64v34.49h-1.64zM749.13 506.76h1.64v36.04h-1.64zM750.78 501.73h1.64v41.07h-1.64zM752.42 505.22h1.64v37.58h-1.64zM754.07 499.79h1.64v43.01h-1.64zM755.71 482.35h1.64v60.45h-1.64z"/><path fill="#3674cc" stroke="#3674cc" stroke-width="0.9" d="M125.76 540.48h1.64v2.32h-1.64zM135.63 540.48h1.64v2.32h-1.64zM150.44 542.03h1.64v0.77h-1.64zM155.37 541.25h1.64v1.55h-1.64zM165.24 541.25h1.64v1.55h-1.64zM166.88 541.25h1.64v1.55h-1.64zM183.33 540.86h1.64v1.94h-1.64zM186.62 541.25h1.64v1.55h-1.64zM188.27 540.48h1.64v2.32h-1.64zM189.91 540.48h1.64v2.32h-1.64zM191.55 540.09h1.64v2.71h-1.64zM193.20 540.48h1.64v2.32h-1.64zM199.78 541.25h1.64v1.55h-1.64zM201.42 540.09h1.64v2.71h-1.64zM203.07 539.31h1.64v3.49h-1.64zM204.71 540.48h1.64v2.32h-1.64zM206.36 538.54h1.64v4.26h-1.64zM208.00 538.54h1.64v4.26h-1.64zM209.65 538.15h1.64v4.65h-1.64zM211.29 536.60h1.64v6.20h-1.64zM212.94 533.50h1.64v9.30h-1.64zM214.58 535.44h1.64v7.36h-1.64zM216.23 536.21h1.64v6.59h-1.64zM217.87 534.66h1.64v8.14h-1.64zM219.52 538.93h1.64v3.87h-1.64zM221.16 534.28h1.64v8.52h-1.64zM222.81 522.65h1.64v20.15h-1.64zM224.45 526.91h1.64v15.89h-1.64zM226.09 528.85h1.64v13.95h-1.64zM227.74 518.39h1.64v24.41h-1.64zM229.38 532.73h1.64v10.07h-1.64zM231.03 536.60h1.64v6.20h-1.64zM232.67 535.44h1.64v7.36h-1.64zM234.32 533.50h1.64v9.30h-1.64zM235.96 525.75h1.64v17.05h-1.64zM237.61 528.08h1.64v14.72h-1.64zM239.25 531.18h1.64v11.62h-1.64zM240.90 533.50h1.64v9.30h-1.64zM242.54 535.83h1.64v6.97h-1.64zM244.19 534.66h1.64v8.14h-1.64zM245.83 533.89h1.64v8.91h-1.64zM247.48 530.40h1.64v12.40h-1.64zM249.12 536.60h1.64v6.20h-1.64zM250.77 535.05h1.64v7.75h-1.64zM252.41 535.83h1.64v6.97h-1.64zM254.06 537.76h1.64v5.04h-1.64zM255.70 535.05h1.64v7.75h-1.64zM257.35 536.99h1.64v5.81h-1.64zM258.99 536.60h1.64v6.20h-1.64zM260.64 531.56h1.64v11.24h-1.64zM262.28 533.50h1.64v9.30h-1.64zM263.92 536.60h1.64v6.20h-1.64zM265.57 537.38h1.64v5.42h-1.64zM267.21 538.54h1.64v4.26h-1.64zM268.86 539.70h1.64v3.10h-1.64zM270.50 536.99h1.64v5.81h-1.64zM272.15 539.70h1.64v3.10h-1.64zM273.79 539.70h1.64v3.10h-1.64zM275.44 538.54h1.64v4.26h-1.64zM277.08 538.15h1.64v4.65h-1.64zM278.73 533.11h1.64v9.69h-1.64zM280.37 530.40h1.64v12.40h-1.64zM282.02 534.66h1.64v8.14h-1.64zM283.66 536.21h1.64v6.59h-1.64zM285.31 536.60h1.64v6.20h-1.64zM286.95 536.60h1.64v6.20h-1.64zM288.60 536.21h1.64v6.59h-1.64zM290.24 536.21h1.64v6.59h-1.64zM291.89 538.15h1.64v4.65h-1.64zM293.53 538.15h1.64v4.65h-1.64zM295.18 538.93h1.64v3.87h-1.64zM296.82 538.93h1.64v3.87h-1.64zM298.46 539.31h1.64v3.49h-1.64zM300.11 540.09h1.64v2.71h-1.64zM301.75 539.31h1.64v3.49h-1.64zM303.40 538.15h1.64v4.65h-1.64zM305.04 538.54h1.64v4.26h-1.64zM306.69 539.70h1.64v3.10h-1.64zM308.33 539.31h1.64v3.49h-1.64zM309.98 539.70h1.64v3.10h-1.64zM311.62 539.31h1.64v3.49h-1.64zM313.27 538.54h1.64v4.26h-1.64zM314.91 538.93h1.64v3.87h-1.64zM316.56 540.48h1.64v2.32h-1.64zM318.20 539.70h1.64v3.10h-1.64zM319.85 540.48h1.64v2.32h-1.64zM323.14 540.09h1.64v2.71h-1.64zM324.78 540.09h1.64v2.71h-1.64zM326.43 539.70h1.64v3.10h-1.64zM328.07 540.48h1.64v2.32h-1.64zM329.72 540.86h1.64v1.94h-1.64zM331.36 539.31h1.64v3.49h-1.64zM334.65 540.09h1.64v2.71h-1.64zM336.29 539.70h1.64v3.10h-1.64zM337.94 540.48h1.64v2.32h-1.64zM341.23 540.09h1.64v2.71h-1.64zM342.87 540.09h1.64v2.71h-1.64zM344.52 540.09h1.64v2.71h-1.64zM346.16 540.09h1.64v2.71h-1.64zM347.81 539.31h1.64v3.49h-1.64zM349.45 539.31h1.64v3.49h-1.64zM351.10 540.48h1.64v2.32h-1.64zM352.74 539.31h1.64v3.49h-1.64zM354.39 536.99h1.64v5.81h-1.64zM356.03 533.11h1.64v9.69h-1.64zM357.68 530.01h1.64v12.79h-1.64zM359.32 536.99h1.64v5.81h-1.64zM360.97 535.05h1.64v7.75h-1.64zM362.61 534.66h1.64v8.14h-1.64zM364.26 536.99h1.64v5.81h-1.64zM365.90 536.21h1.64v6.59h-1.64zM367.55 537.38h1.64v5.42h-1.64zM369.19 535.83h1.64v6.97h-1.64zM370.83 536.60h1.64v6.20h-1.64zM372.48 536.60h1.64v6.20h-1.64zM374.12 531.56h1.64v11.24h-1.64zM375.77 526.91h1.64v15.89h-1.64zM377.41 531.56h1.64v11.24h-1.64zM379.06 534.66h1.64v8.14h-1.64zM380.70 536.60h1.64v6.20h-1.64zM382.35 533.50h1.64v9.30h-1.64zM383.99 526.91h1.64v15.89h-1.64zM385.64 530.79h1.64v12.01h-1.64zM387.28 528.85h1.64v13.95h-1.64zM388.93 530.79h1.64v12.01h-1.64zM390.57 526.91h1.64v15.89h-1.64zM392.22 534.28h1.64v8.52h-1.64zM393.86 527.69h1.64v15.11h-1.64zM395.51 519.16h1.64v23.64h-1.64zM397.15 533.50h1.64v9.30h-1.64zM398.80 536.21h1.64v6.59h-1.64zM400.44 531.95h1.64v10.85h-1.64zM402.09 537.38h1.64v5.42h-1.64zM403.73 533.11h1.64v9.69h-1.64zM405.37 532.73h1.64v10.07h-1.64zM407.02 515.68h1.64v27.12h-1.64zM408.66 529.63h1.64v13.17h-1.64zM410.31 522.26h1.64v20.54h-1.64zM411.95 524.59h1.64v18.21h-1.64zM413.60 530.01h1.64v12.79h-1.64zM415.24 520.71h1.64v22.09h-1.64zM416.89 510.64h1.64v32.16h-1.64zM418.53 517.61h1.64v25.19h-1.64zM420.18 502.12h1.64v40.68h-1.64zM421.82 515.29h1.64v27.51h-1.64zM423.47 499.02h1.64v43.78h-1.64zM425.11 515.68h1.64v27.12h-1.64zM426.76 530.79h1.64v12.01h-1.64zM428.40 530.01h1.64v12.79h-1.64zM430.05 519.55h1.64v23.25h-1.64zM431.69 500.95h1.64v41.85h-1.64zM433.34 511.03h1.64v31.77h-1.64zM434.98 496.30h1.64v46.50h-1.64zM436.63 514.90h1.64v27.90h-1.64zM438.27 512.96h1.64v29.84h-1.64zM439.91 519.94h1.64v22.86h-1.64zM441.56 528.46h1.64v14.34h-1.64zM443.20 505.99h1.64v36.81h-1.64zM444.85 516.84h1.64v25.96h-1.64zM446.49 509.09h1.64v33.71h-1.64zM448.14 526.53h1.64v16.27h-1.64zM449.78 526.14h1.64v16.66h-1.64zM451.43 526.91h1.64v15.89h-1.64zM453.07 513.35h1.64v29.45h-1.64zM454.72 516.06h1.64v26.74h-1.64zM456.36 516.45h1.64v26.35h-1.64zM458.01 506.76h1.64v36.04h-1.64zM459.65 523.81h1.64v18.99h-1.64zM461.30 522.26h1.64v20.54h-1.64zM462.94 531.56h1.64v11.24h-1.64zM464.59 523.81h1.64v18.99h-1.64zM466.23 529.63h1.64v13.17h-1.64zM467.88 505.99h1.64v36.81h-1.64zM469.52 518.78h1.64v24.02h-1.64zM471.17 529.24h1.64v13.56h-1.64zM472.81 519.16h1.64v23.64h-1.64zM474.45 522.65h1.64v20.15h-1.64zM476.10 527.69h1.64v15.11h-1.64zM477.74 503.67h1.64v39.13h-1.64zM479.39 515.68h1.64v27.12h-1.64zM481.03 519.55h1.64v23.25h-1.64zM482.68 514.90h1.64v27.90h-1.64zM484.32 524.20h1.64v18.60h-1.64zM485.97 522.65h1.64v20.15h-1.64zM487.61 508.70h1.64v34.10h-1.64zM489.26 519.16h1.64v23.64h-1.64zM490.90 515.68h1.64v27.12h-1.64zM492.55 530.40h1.64v12.40h-1.64zM494.19 522.26h1.64v20.54h-1.64zM495.84 531.95h1.64v10.85h-1.64zM497.48 535.44h1.64v7.36h-1.64zM499.13 530.79h1.64v12.01h-1.64zM500.77 526.14h1.64v16.66h-1.64zM502.42 530.01h1.64v12.79h-1.64zM504.06 511.80h1.64v31.00h-1.64zM505.71 521.88h1.64v20.92h-1.64zM507.35 524.98h1.64v17.82h-1.64zM509.00 522.26h1.64v20.54h-1.64zM510.64 514.90h1.64v27.90h-1.64zM512.28 522.65h1.64v20.15h-1.64zM513.93 521.88h1.64v20.92h-1.64zM515.57 522.26h1.64v20.54h-1.64zM517.22 539.31h1.64v3.49h-1.64zM518.86 531.56h1.64v11.24h-1.64zM520.51 519.16h1.64v23.64h-1.64zM522.15 524.59h1.64v18.21h-1.64zM523.80 526.14h1.64v16.66h-1.64zM525.44 516.06h1.64v26.74h-1.64zM527.09 522.26h1.64v20.54h-1.64zM528.73 527.30h1.64v15.50h-1.64zM530.38 528.85h1.64v13.95h-1.64zM532.02 512.96h1.64v29.84h-1.64zM533.67 530.40h1.64v12.40h-1.64zM535.31 519.55h1.64v23.25h-1.64zM536.96 512.96h1.64v29.84h-1.64zM538.60 522.26h1.64v20.54h-1.64zM540.25 526.91h1.64v15.89h-1.64zM541.89 526.14h1.64v16.66h-1.64zM543.54 511.41h1.64v31.39h-1.64zM545.18 520.71h1.64v22.09h-1.64zM546.82 516.06h1.64v26.74h-1.64zM548.47 512.19h1.64v30.61h-1.64zM550.11 522.26h1.64v20.54h-1.64zM551.76 530.79h1.64v12.01h-1.64zM553.40 522.65h1.64v20.15h-1.64zM555.05 520.33h1.64v22.47h-1.64zM556.69 525.36h1.64v17.44h-1.64zM558.34 524.20h1.64v18.60h-1.64zM559.98 528.08h1.64v14.72h-1.64zM561.63 520.71h1.64v22.09h-1.64zM563.27 522.65h1.64v20.15h-1.64zM564.92 522.26h1.64v20.54h-1.64zM566.56 533.11h1.64v9.69h-1.64zM568.21 524.20h1.64v18.60h-1.64zM569.85 504.83h1.64v37.97h-1.64zM571.50 515.29h1.64v27.51h-1.64zM573.14 493.98h1.64v48.82h-1.64zM574.79 516.06h1.64v26.74h-1.64zM576.43 508.70h1.64v34.10h-1.64zM578.08 494.37h1.64v48.43h-1.64zM579.72 496.69h1.64v46.11h-1.64zM581.36 490.10h1.64v52.70h-1.64zM583.01 491.27h1.64v51.53h-1.64zM584.65 518.00h1.64v24.80h-1.64zM586.30 528.08h1.64v14.72h-1.64zM587.94 501.34h1.64v41.46h-1.64zM589.59 462.98h1.64v79.82h-1.64zM591.23 469.95h1.64v72.85h-1.64zM592.88 474.60h1.64v68.20h-1.64zM594.52 487.78h1.64v55.02h-1.64zM596.17 489.72h1.64v53.08h-1.64zM597.81 519.55h1.64v23.25h-1.64zM599.46 521.10h1.64v21.70h-1.64zM601.10 500.18h1.64v42.62h-1.64zM602.75 455.62h1.64v87.18h-1.64zM604.39 470.34h1.64v72.46h-1.64zM606.04 472.67h1.64v70.13h-1.64zM607.68 493.59h1.64v49.21h-1.64zM609.33 521.88h1.64v20.92h-1.64zM610.97 503.67h1.64v39.13h-1.64zM612.62 471.89h1.64v70.91h-1.64zM614.26 475.77h1.64v67.03h-1.64zM615.91 476.93h1.64v65.87h-1.64zM617.55 482.74h1.64v60.06h-1.64zM619.19 508.31h1.64v34.49h-1.64zM620.84 520.71h1.64v22.09h-1.64zM622.48 500.18h1.64v42.62h-1.64zM624.13 461.43h1.64v81.37h-1.64zM625.77 472.28h1.64v70.52h-1.64zM627.42 443.99h1.64v98.81h-1.64zM629.06 465.31h1.64v77.49h-1.64zM630.71 468.02h1.64v74.78h-1.64zM632.35 489.72h1.64v53.08h-1.64zM634.00 506.38h1.64v36.42h-1.64zM635.64 481.97h1.64v60.83h-1.64zM637.29 452.91h1.64v89.89h-1.64zM638.93 429.27h1.64v113.53h-1.64zM640.58 460.27h1.64v82.53h-1.64zM642.22 432.76h1.64v110.04h-1.64zM643.87 463.37h1.64v79.43h-1.64zM645.51 452.91h1.64v89.89h-1.64zM647.16 419.20h1.64v123.60h-1.64zM648.80 429.27h1.64v113.53h-1.64zM650.45 368.82h1.64v173.98h-1.64zM652.09 394.01h1.64v148.79h-1.64zM653.73 369.99h1.64v172.81h-1.64zM655.38 413.00h1.64v129.80h-1.64zM657.02 420.36h1.64v122.44h-1.64zM658.67 387.04h1.64v155.76h-1.64zM660.31 396.33h1.64v146.47h-1.64zM661.96 331.63h1.64v211.17h-1.64zM663.60 371.92h1.64v170.88h-1.64zM665.25 401.76h1.64v141.04h-1.64zM666.89 393.24h1.64v149.56h-1.64zM668.54 330.08h1.64v212.72h-1.64zM670.18 319.62h1.64v223.18h-1.64zM671.83 301.79h1.64v241.01h-1.64zM673.47 299.47h1.64v243.33h-1.64zM675.12 242.90h1.64v299.90h-1.64zM676.76 182.45h1.64v360.35h-1.64zM678.41 280.48h1.64v262.32h-1.64zM680.05 287.07h1.64v255.73h-1.64zM681.70 216.16h1.64v326.64h-1.64zM683.34 262.27h1.64v280.53h-1.64zM684.99 181.29h1.64v361.51h-1.64zM686.63 224.68h1.64v318.12h-1.64zM688.27 240.18h1.64v302.62h-1.64zM689.92 271.96h1.64v270.84h-1.64zM691.56 197.95h1.64v344.85h-1.64zM693.21 280.48h1.64v262.32h-1.64zM694.85 279.32h1.64v263.48h-1.64zM696.50 319.62h1.64v223.18h-1.64zM698.14 352.94h1.64v189.86h-1.64zM699.79 355.65h1.64v187.15h-1.64zM701.43 402.53h1.64v140.27h-1.64zM703.08 412.22h1.64v130.58h-1.64zM704.72 410.67h1.64v132.13h-1.64zM706.37 400.60h1.64v142.20h-1.64zM708.01 409.90h1.64v132.90h-1.64zM709.66 412.61h1.64v130.19h-1.64zM711.30 413.00h1.64v129.80h-1.64zM712.95 462.59h1.64v80.21h-1.64zM714.59 464.92h1.64v77.88h-1.64zM716.24 465.31h1.64v77.49h-1.64zM717.88 466.86h1.64v75.94h-1.64zM719.53 482.35h1.64v60.45h-1.64zM721.17 443.61h1.64v99.19h-1.64zM722.82 476.15h1.64v66.65h-1.64zM724.46 490.49h1.64v52.31h-1.64zM726.10 490.10h1.64v52.70h-1.64zM727.75 496.30h1.64v46.50h-1.64zM729.39 483.13h1.64v59.67h-1.64zM731.04 492.43h1.64v50.37h-1.64zM732.68 509.09h1.64v33.71h-1.64zM734.33 511.41h1.64v31.39h-1.64zM735.97 514.13h1.64v28.67h-1.64zM737.62 499.40h1.64v43.40h-1.64zM739.26 503.28h1.64v39.52h-1.64zM740.91 494.75h1.64v48.05h-1.64zM742.55 499.40h1.64v43.40h-1.64zM744.20 504.05h1.64v38.75h-1.64zM745.84 510.25h1.64v32.55h-1.64zM747.49 511.03h1.64v31.77h-1.64zM749.13 510.64h1.64v32.16h-1.64zM750.78 505.22h1.64v37.58h-1.64zM752.42 508.70h1.64v34.10h-1.64zM754.07 503.67h1.64v39.13h-1.64zM755.71 488.94h1.64v53.86h-1.64z"/><path fill="#38cade" stroke="#38cade" stroke-width="0.9" d="M133.99 541.25h1.64v1.55h-1.64zM145.50 542.03h1.64v0.77h-1.64zM152.08 541.25h1.64v1.55h-1.64zM161.95 541.25h1.64v1.55h-1.64zM168.53 539.70h1.64v3.10h-1.64zM173.46 542.03h1.64v0.77h-1.64zM176.75 540.48h1.64v2.32h-1.64zM188.27 540.86h1.64v1.94h-1.64zM189.91 541.64h1.64v1.16h-1.64zM191.55 540.48h1.64v2.32h-1.64zM193.20 540.86h1.64v1.94h-1.64zM196.49 540.86h1.64v1.94h-1.64zM199.78 542.03h1.64v0.77h-1.64zM201.42 540.48h1.64v2.32h-1.64zM203.07 539.70h1.64v3.10h-1.64zM204.71 540.86h1.64v1.94h-1.64zM206.36 538.93h1.64v3.87h-1.64zM208.00 538.93h1.64v3.87h-1.64zM209.65 538.93h1.64v3.87h-1.64zM211.29 537.38h1.64v5.42h-1.64zM212.94 535.05h1.64v7.75h-1.64zM214.58 536.21h1.64v6.59h-1.64zM216.23 536.99h1.64v5.81h-1.64zM217.87 535.44h1.64v7.36h-1.64zM219.52 539.31h1.64v3.49h-1.64zM221.16 535.44h1.64v7.36h-1.64zM222.81 525.36h1.64v17.44h-1.64zM224.45 529.24h1.64v13.56h-1.64zM226.09 530.79h1.64v12.01h-1.64zM227.74 522.26h1.64v20.54h-1.64zM229.38 533.89h1.64v8.91h-1.64zM231.03 537.76h1.64v5.04h-1.64zM232.67 536.60h1.64v6.20h-1.64zM234.32 534.66h1.64v8.14h-1.64zM235.96 528.08h1.64v14.72h-1.64zM237.61 530.01h1.64v12.79h-1.64zM239.25 532.73h1.64v10.07h-1.64zM240.90 535.05h1.64v7.75h-1.64zM242.54 536.60h1.64v6.20h-1.64zM244.19 535.83h1.64v6.97h-1.64zM245.83 535.05h1.64v7.75h-1.64zM247.48 532.34h1.64v10.46h-1.64zM249.12 537.38h1.64v5.42h-1.64zM250.77 535.83h1.64v6.97h-1.64zM252.41 536.60h1.64v6.20h-1.64zM254.06 538.54h1.64v4.26h-1.64zM255.70 535.83h1.64v6.97h-1.64zM257.35 537.76h1.64v5.04h-1.64zM258.99 537.38h1.64v5.42h-1.64zM260.64 533.11h1.64v9.69h-1.64zM262.28 534.66h1.64v8.14h-1.64zM263.92 537.38h1.64v5.42h-1.64zM265.57 538.54h1.64v4.26h-1.64zM267.21 539.31h1.64v3.49h-1.64zM268.86 540.09h1.64v2.71h-1.64zM270.50 537.76h1.64v5.04h-1.64zM272.15 540.09h1.64v2.71h-1.64zM273.79 540.09h1.64v2.71h-1.64zM275.44 538.93h1.64v3.87h-1.64zM277.08 538.54h1.64v4.26h-1.64zM278.73 534.28h1.64v8.52h-1.64zM280.37 531.95h1.64v10.85h-1.64zM282.02 536.21h1.64v6.59h-1.64zM283.66 536.99h1.64v5.81h-1.64zM285.31 537.38h1.64v5.42h-1.64zM286.95 537.38h1.64v5.42h-1.64zM288.60 536.99h1.64v5.81h-1.64zM290.24 537.38h1.64v5.42h-1.64zM291.89 538.54h1.64v4.26h-1.64zM293.53 538.54h1.64v4.26h-1.64zM295.18 539.31h1.64v3.49h-1.64zM296.82 539.31h1.64v3.49h-1.64zM298.46 539.70h1.64v3.10h-1.64zM300.11 540.48h1.64v2.32h-1.64zM301.75 539.70h1.64v3.10h-1.64zM303.40 538.54h1.64v4.26h-1.64zM305.04 538.93h1.64v3.87h-1.64zM306.69 540.09h1.64v2.71h-1.64zM308.33 539.70h1.64v3.10h-1.64zM309.98 540.09h1.64v2.71h-1.64zM311.62 539.70h1.64v3.10h-1.64zM313.27 538.93h1.64v3.87h-1.64zM314.91 539.31h1.64v3.49h-1.64zM318.20 540.09h1.64v2.71h-1.64zM319.85 540.86h1.64v1.94h-1.64zM321.49 540.86h1.64v1.94h-1.64zM323.14 540.48h1.64v2.32h-1.64zM324.78 540.48h1.64v2.32h-1.64zM328.07 540.86h1.64v1.94h-1.64zM331.36 539.70h1.64v3.10h-1.64zM333.00 539.70h1.64v3.10h-1.64zM334.65 540.48h1.64v2.32h-1.64zM336.29 540.09h1.64v2.71h-1.64zM337.94 540.86h1.64v1.94h-1.64zM339.58 540.48h1.64v2.32h-1.64zM342.87 540.48h1.64v2.32h-1.64zM344.52 540.48h1.64v2.32h-1.64zM347.81 539.70h1.64v3.10h-1.64zM349.45 539.70h1.64v3.10h-1.64zM351.10 540.86h1.64v1.94h-1.64zM352.74 539.70h1.64v3.10h-1.64zM354.39 537.38h1.64v5.42h-1.64zM356.03 533.89h1.64v8.91h-1.64zM357.68 531.18h1.64v11.62h-1.64zM359.32 537.38h1.64v5.42h-1.64zM360.97 535.83h1.64v6.97h-1.64zM362.61 535.05h1.64v7.75h-1.64zM364.26 537.38h1.64v5.42h-1.64zM365.90 536.60h1.64v6.20h-1.64zM367.55 537.76h1.64v5.04h-1.64zM369.19 536.60h1.64v6.20h-1.64zM370.83 536.99h1.64v5.81h-1.64zM372.48 536.99h1.64v5.81h-1.64zM374.12 532.34h1.64v10.46h-1.64zM375.77 528.08h1.64v14.72h-1.64zM377.41 532.34h1.64v10.46h-1.64zM379.06 535.05h1.64v7.75h-1.64zM380.70 536.99h1.64v5.81h-1.64zM382.35 533.89h1.64v8.91h-1.64zM383.99 528.46h1.64v14.34h-1.64zM385.64 531.56h1.64v11.24h-1.64zM387.28 530.01h1.64v12.79h-1.64zM388.93 532.34h1.64v10.46h-1.64zM390.57 528.08h1.64v14.72h-1.64zM392.22 535.05h1.64v7.75h-1.64zM393.86 528.46h1.64v14.34h-1.64zM395.51 520.33h1.64v22.47h-1.64zM397.15 534.28h1.64v8.52h-1.64zM398.80 536.60h1.64v6.20h-1.64zM400.44 532.73h1.64v10.07h-1.64zM402.09 537.76h1.64v5.04h-1.64zM403.73 533.50h1.64v9.30h-1.64zM405.37 533.50h1.64v9.30h-1.64zM407.02 516.84h1.64v25.96h-1.64zM408.66 530.40h1.64v12.40h-1.64zM410.31 523.81h1.64v18.99h-1.64zM411.95 525.75h1.64v17.05h-1.64zM413.60 531.18h1.64v11.62h-1.64zM415.24 523.43h1.64v19.37h-1.64zM416.89 512.58h1.64v30.22h-1.64zM418.53 519.55h1.64v23.25h-1.64zM420.18 504.83h1.64v37.97h-1.64zM421.82 517.23h1.64v25.57h-1.64zM423.47 502.50h1.64v40.30h-1.64zM425.11 517.23h1.64v25.57h-1.64zM426.76 531.56h1.64v11.24h-1.64zM428.40 530.79h1.64v12.01h-1.64zM430.05 522.26h1.64v20.54h-1.64zM431.69 504.44h1.64v38.36h-1.64zM433.34 512.96h1.64v29.84h-1.64zM434.98 501.34h1.64v41.46h-1.64zM436.63 516.45h1.64v26.35h-1.64zM438.27 514.90h1.64v27.90h-1.64zM439.91 521.88h1.64v20.92h-1.64zM441.56 529.24h1.64v13.56h-1.64zM443.20 508.70h1.64v34.10h-1.64zM444.85 518.78h1.64v24.02h-1.64zM446.49 511.80h1.64v31.00h-1.64zM448.14 527.69h1.64v15.11h-1.64zM449.78 526.91h1.64v15.89h-1.64zM451.43 528.46h1.64v14.34h-1.64zM453.07 515.68h1.64v27.12h-1.64zM454.72 517.61h1.64v25.19h-1.64zM456.36 518.39h1.64v24.41h-1.64zM458.01 508.70h1.64v34.10h-1.64zM459.65 525.75h1.64v17.05h-1.64zM461.30 523.81h1.64v18.99h-1.64zM462.94 532.34h1.64v10.46h-1.64zM464.59 524.98h1.64v17.82h-1.64zM466.23 530.40h1.64v12.40h-1.64zM467.88 508.31h1.64v34.49h-1.64zM469.52 519.94h1.64v22.86h-1.64zM471.17 530.40h1.64v12.40h-1.64zM472.81 520.71h1.64v22.09h-1.64zM474.45 524.59h1.64v18.21h-1.64zM476.10 529.24h1.64v13.56h-1.64zM477.74 507.54h1.64v35.26h-1.64zM479.39 518.78h1.64v24.02h-1.64zM481.03 521.88h1.64v20.92h-1.64zM482.68 516.84h1.64v25.96h-1.64zM484.32 525.75h1.64v17.05h-1.64zM485.97 523.81h1.64v18.99h-1.64zM487.61 511.03h1.64v31.77h-1.64zM489.26 520.71h1.64v22.09h-1.64zM490.90 517.61h1.64v25.19h-1.64zM492.55 531.18h1.64v11.62h-1.64zM494.19 523.43h1.64v19.37h-1.64zM495.84 532.73h1.64v10.07h-1.64zM497.48 536.21h1.64v6.59h-1.64zM499.13 531.95h1.64v10.85h-1.64zM500.77 527.30h1.64v15.50h-1.64zM502.42 530.40h1.64v12.40h-1.64zM504.06 513.74h1.64v29.06h-1.64zM505.71 523.04h1.64v19.76h-1.64zM507.35 526.53h1.64v16.27h-1.64zM509.00 523.81h1.64v18.99h-1.64zM510.64 517.23h1.64v25.57h-1.64zM512.28 524.98h1.64v17.82h-1.64zM513.93 523.43h1.64v19.37h-1.64zM515.57 523.81h1.64v18.99h-1.64zM517.22 539.70h1.64v3.10h-1.64zM518.86 532.34h1.64v10.46h-1.64zM520.51 520.71h1.64v22.09h-1.64zM522.15 525.75h1.64v17.05h-1.64zM523.80 527.30h1.64v15.50h-1.64zM525.44 517.61h1.64v25.19h-1.64zM527.09 523.43h1.64v19.37h-1.64zM528.73 528.08h1.64v14.72h-1.64zM530.38 530.01h1.64v12.79h-1.64zM532.02 515.29h1.64v27.51h-1.64zM533.67 531.18h1.64v11.62h-1.64zM535.31 521.10h1.64v21.70h-1.64zM536.96 515.68h1.64v27.12h-1.64zM538.60 523.43h1.64v19.37h-1.64zM540.25 528.08h1.64v14.72h-1.64zM541.89 527.30h1.64v15.50h-1.64zM543.54 515.68h1.64v27.12h-1.64zM545.18 522.65h1.64v20.15h-1.64zM546.82 518.78h1.64v24.02h-1.64zM548.47 515.29h1.64v27.51h-1.64zM550.11 523.43h1.64v19.37h-1.64zM551.76 531.56h1.64v11.24h-1.64zM553.40 524.20h1.64v18.60h-1.64zM555.05 522.26h1.64v20.54h-1.64zM556.69 526.53h1.64v16.27h-1.64zM558.34 525.75h1.64v17.05h-1.64zM559.98 529.63h1.64v13.17h-1.64zM561.63 522.26h1.64v20.54h-1.64zM563.27 523.81h1.64v18.99h-1.64zM564.92 524.20h1.64v18.60h-1.64zM566.56 534.28h1.64v8.52h-1.64zM568.21 525.36h1.64v17.44h-1.64zM569.85 507.54h1.64v35.26h-1.64zM571.50 517.61h1.64v25.19h-1.64zM573.14 497.85h1.64v44.95h-1.64zM574.79 518.00h1.64v24.80h-1.64zM576.43 512.96h1.64v29.84h-1.64zM578.08 497.47h1.64v45.33h-1.64zM579.72 501.34h1.64v41.46h-1.64zM581.36 493.20h1.64v49.60h-1.64zM583.01 494.75h1.64v48.05h-1.64zM584.65 520.33h1.64v22.47h-1.64zM586.30 529.24h1.64v13.56h-1.64zM587.94 504.44h1.64v38.36h-1.64zM589.59 468.79h1.64v74.01h-1.64zM591.23 475.38h1.64v67.42h-1.64zM592.88 479.64h1.64v63.16h-1.64zM594.52 492.43h1.64v50.37h-1.64zM596.17 497.47h1.64v45.33h-1.64zM597.81 521.88h1.64v20.92h-1.64zM599.46 523.43h1.64v19.37h-1.64zM601.10 503.67h1.64v39.13h-1.64zM602.75 462.59h1.64v80.21h-1.64zM604.39 476.93h1.64v65.87h-1.64zM606.04 477.32h1.64v65.48h-1.64zM607.68 496.69h1.64v46.11h-1.64zM609.33 523.43h1.64v19.37h-1.64zM610.97 507.93h1.64v34.87h-1.64zM612.62 477.70h1.64v65.10h-1.64zM614.26 481.58h1.64v61.22h-1.64zM615.91 483.13h1.64v59.67h-1.64zM617.55 486.23h1.64v56.57h-1.64zM619.19 511.41h1.64v31.39h-1.64zM620.84 523.04h1.64v19.76h-1.64zM622.48 505.22h1.64v37.58h-1.64zM624.13 466.86h1.64v75.94h-1.64zM625.77 478.48h1.64v64.32h-1.64zM627.42 451.74h1.64v91.06h-1.64zM629.06 470.73h1.64v72.07h-1.64zM630.71 474.22h1.64v68.58h-1.64zM632.35 493.98h1.64v48.82h-1.64zM634.00 509.86h1.64v32.94h-1.64zM635.64 487.39h1.64v55.41h-1.64zM637.29 459.49h1.64v83.31h-1.64zM638.93 440.12h1.64v102.68h-1.64zM640.58 468.79h1.64v74.01h-1.64zM642.22 443.99h1.64v98.81h-1.64zM643.87 470.34h1.64v72.46h-1.64zM645.51 460.27h1.64v82.53h-1.64zM647.16 429.27h1.64v113.53h-1.64zM648.80 434.69h1.64v108.11h-1.64zM650.45 381.61h1.64v161.19h-1.64zM652.09 404.08h1.64v138.72h-1.64zM653.73 382.77h1.64v160.03h-1.64zM655.38 421.91h1.64v120.89h-1.64zM657.02 428.88h1.64v113.92h-1.64zM658.67 396.33h1.64v146.47h-1.64zM660.31 402.53h1.64v140.27h-1.64zM661.96 342.09h1.64v200.71h-1.64zM663.60 382.77h1.64v160.03h-1.64zM665.25 414.16h1.64v128.64h-1.64zM666.89 404.08h1.64v138.72h-1.64zM668.54 341.70h1.64v201.10h-1.64zM670.18 337.44h1.64v205.36h-1.64zM671.83 318.84h1.64v223.96h-1.64zM673.47 309.15h1.64v233.65h-1.64zM675.12 265.37h1.64v277.43h-1.64zM676.76 212.28h1.64v330.52h-1.64zM678.41 292.88h1.64v249.92h-1.64zM680.05 302.95h1.64v239.85h-1.64zM681.70 237.47h1.64v305.33h-1.64zM683.34 277.38h1.64v265.42h-1.64zM684.99 198.72h1.64v344.08h-1.64zM686.63 243.67h1.64v299.13h-1.64zM688.27 255.29h1.64v287.51h-1.64zM689.92 282.81h1.64v259.99h-1.64zM691.56 224.68h1.64v318.12h-1.64zM693.21 295.98h1.64v246.82h-1.64zM694.85 298.69h1.64v244.11h-1.64zM696.50 340.54h1.64v202.26h-1.64zM698.14 372.31h1.64v170.49h-1.64zM699.79 375.80h1.64v167.00h-1.64zM701.43 419.58h1.64v123.22h-1.64zM703.08 425.40h1.64v117.40h-1.64zM704.72 424.23h1.64v118.57h-1.64zM706.37 413.77h1.64v129.03h-1.64zM708.01 425.78h1.64v117.02h-1.64zM709.66 426.56h1.64v116.24h-1.64zM711.30 431.60h1.64v111.20h-1.64zM712.95 471.89h1.64v70.91h-1.64zM714.59 471.50h1.64v71.30h-1.64zM716.24 471.89h1.64v70.91h-1.64zM717.88 473.83h1.64v68.97h-1.64zM719.53 487.78h1.64v55.02h-1.64zM721.17 454.07h1.64v88.73h-1.64zM722.82 483.52h1.64v59.28h-1.64zM724.46 497.08h1.64v45.72h-1.64zM726.10 499.02h1.64v43.78h-1.64zM727.75 502.12h1.64v40.68h-1.64zM729.39 493.20h1.64v49.60h-1.64zM731.04 499.02h1.64v43.78h-1.64zM732.68 513.35h1.64v29.45h-1.64zM734.33 514.90h1.64v27.90h-1.64zM735.97 518.39h1.64v24.41h-1.64zM737.62 504.05h1.64v38.75h-1.64zM739.26 508.31h1.64v34.49h-1.64zM740.91 500.57h1.64v42.23h-1.64zM742.55 503.67h1.64v39.13h-1.64zM744.20 509.09h1.64v33.71h-1.64zM745.84 515.29h1.64v27.51h-1.64zM747.49 516.06h1.64v26.74h-1.64zM749.13 514.13h1.64v28.67h-1.64zM750.78 509.09h1.64v33.71h-1.64zM752.42 512.19h1.64v30.61h-1.64zM754.07 507.54h1.64v35.26h-1.64zM755.71 495.14h1.64v47.66h-1.64z"/><path fill="#3eebaa" stroke="#3eebaa" stroke-width="0.9" d="M125.76 542.03h1.64v0.77h-1.64zM127.41 542.03h1.64v0.77h-1.64zM129.05 541.25h1.64v1.55h-1.64zM133.99 542.03h1.64v0.77h-1.64zM143.86 541.25h1.64v1.55h-1.64zM147.15 540.48h1.64v2.32h-1.64zM148.79 542.03h1.64v0.77h-1.64zM152.08 542.03h1.64v0.77h-1.64zM153.73 539.70h1.64v3.10h-1.64zM158.66 541.25h1.64v1.55h-1.64zM160.30 541.25h1.64v1.55h-1.64zM163.59 542.03h1.64v0.77h-1.64zM168.53 540.48h1.64v2.32h-1.64zM175.11 542.03h1.64v0.77h-1.64zM180.04 540.48h1.64v2.32h-1.64zM181.69 541.25h1.64v1.55h-1.64zM183.33 541.25h1.64v1.55h-1.64zM184.98 540.48h1.64v2.32h-1.64zM186.62 542.03h1.64v0.77h-1.64zM188.27 541.25h1.64v1.55h-1.64zM189.91 542.03h1.64v0.77h-1.64zM191.55 540.86h1.64v1.94h-1.64zM193.20 541.25h1.64v1.55h-1.64zM196.49 541.25h1.64v1.55h-1.64zM198.13 541.64h1.64v1.16h-1.64zM199.78 542.41h1.64v0.39h-1.64zM201.42 541.25h1.64v1.55h-1.64zM203.07 540.48h1.64v2.32h-1.64zM204.71 541.25h1.64v1.55h-1.64zM206.36 539.70h1.64v3.10h-1.64zM208.00 539.70h1.64v3.10h-1.64zM209.65 539.70h1.64v3.10h-1.64zM211.29 538.15h1.64v4.65h-1.64zM212.94 536.60h1.64v6.20h-1.64zM214.58 537.38h1.64v5.42h-1.64zM216.23 538.15h1.64v4.65h-1.64zM217.87 536.60h1.64v6.20h-1.64zM219.52 540.09h1.64v2.71h-1.64zM221.16 536.21h1.64v6.59h-1.64zM222.81 528.08h1.64v14.72h-1.64zM224.45 531.95h1.64v10.85h-1.64zM226.09 531.95h1.64v10.85h-1.64zM227.74 526.53h1.64v16.27h-1.64zM229.38 535.83h1.64v6.97h-1.64zM231.03 538.54h1.64v4.26h-1.64zM232.67 537.76h1.64v5.04h-1.64zM234.32 536.21h1.64v6.59h-1.64zM235.96 530.40h1.64v12.40h-1.64zM237.61 531.56h1.64v11.24h-1.64zM239.25 534.28h1.64v8.52h-1.64zM240.90 536.60h1.64v6.20h-1.64zM242.54 537.76h1.64v5.04h-1.64zM244.19 536.99h1.64v5.81h-1.64zM245.83 536.21h1.64v6.59h-1.64zM247.48 534.28h1.64v8.52h-1.64zM249.12 538.15h1.64v4.65h-1.64zM250.77 536.99h1.64v5.81h-1.64zM252.41 537.76h1.64v5.04h-1.64zM254.06 539.31h1.64v3.49h-1.64zM255.70 537.38h1.64v5.42h-1.64zM257.35 538.54h1.64v4.26h-1.64zM258.99 538.54h1.64v4.26h-1.64zM260.64 535.05h1.64v7.75h-1.64zM262.28 535.83h1.64v6.97h-1.64zM263.92 538.54h1.64v4.26h-1.64zM265.57 539.31h1.64v3.49h-1.64zM267.21 539.70h1.64v3.10h-1.64zM268.86 540.48h1.64v2.32h-1.64zM270.50 538.54h1.64v4.26h-1.64zM272.15 540.48h1.64v2.32h-1.64zM273.79 540.48h1.64v2.32h-1.64zM275.44 539.70h1.64v3.10h-1.64zM277.08 539.31h1.64v3.49h-1.64zM278.73 535.83h1.64v6.97h-1.64zM280.37 533.89h1.64v8.91h-1.64zM282.02 537.38h1.64v5.42h-1.64zM283.66 537.76h1.64v5.04h-1.64zM285.31 538.54h1.64v4.26h-1.64zM286.95 538.54h1.64v4.26h-1.64zM288.60 538.15h1.64v4.65h-1.64zM290.24 538.54h1.64v4.26h-1.64zM291.89 538.93h1.64v3.87h-1.64zM293.53 539.31h1.64v3.49h-1.64zM295.18 539.70h1.64v3.10h-1.64zM296.82 539.70h1.64v3.10h-1.64zM298.46 540.09h1.64v2.71h-1.64zM300.11 540.86h1.64v1.94h-1.64zM301.75 540.09h1.64v2.71h-1.64zM303.40 538.93h1.64v3.87h-1.64zM305.04 539.70h1.64v3.10h-1.64zM306.69 540.48h1.64v2.32h-1.64zM308.33 540.09h1.64v2.71h-1.64zM309.98 540.48h1.64v2.32h-1.64zM311.62 540.09h1.64v2.71h-1.64zM313.27 539.31h1.64v3.49h-1.64zM314.91 540.09h1.64v2.71h-1.64zM316.56 540.86h1.64v1.94h-1.64zM318.20 540.48h1.64v2.32h-1.64zM319.85 541.25h1.64v1.55h-1.64zM321.49 541.25h1.64v1.55h-1.64zM323.14 540.86h1.64v1.94h-1.64zM324.78 540.86h1.64v1.94h-1.64zM326.43 540.09h1.64v2.71h-1.64zM328.07 541.25h1.64v1.55h-1.64zM329.72 541.25h1.64v1.55h-1.64zM331.36 540.09h1.64v2.71h-1.64zM333.00 540.09h1.64v2.71h-1.64zM334.65 540.86h1.64v1.94h-1.64zM336.29 540.48h1.64v2.32h-1.64zM337.94 541.25h1.64v1.55h-1.64zM339.58 540.86h1.64v1.94h-1.64zM341.23 540.48h1.64v2.32h-1.64zM342.87 540.86h1.64v1.94h-1.64zM344.52 540.86h1.64v1.94h-1.64zM346.16 540.48h1.64v2.32h-1.64zM347.81 540.09h1.64v2.71h-1.64zM349.45 540.09h1.64v2.71h-1.64zM351.10 541.25h1.64v1.55h-1.64zM352.74 540.09h1.64v2.71h-1.64zM354.39 537.76h1.64v5.04h-1.64zM356.03 534.66h1.64v8.14h-1.64zM357.68 532.34h1.64v10.46h-1.64zM359.32 537.76h1.64v5.04h-1.64zM360.97 536.21h1.64v6.59h-1.64zM362.61 535.83h1.64v6.97h-1.64zM364.26 537.76h1.64v5.04h-1.64zM365.90 537.38h1.64v5.42h-1.64zM367.55 538.15h1.64v4.65h-1.64zM369.19 536.99h1.64v5.81h-1.64zM370.83 537.38h1.64v5.42h-1.64zM372.48 537.76h1.64v5.04h-1.64zM374.12 533.50h1.64v9.30h-1.64zM375.77 529.24h1.64v13.56h-1.64zM377.41 533.11h1.64v9.69h-1.64zM379.06 535.83h1.64v6.97h-1.64zM380.70 537.38h1.64v5.42h-1.64zM382.35 534.66h1.64v8.14h-1.64zM383.99 530.01h1.64v12.79h-1.64zM385.64 532.34h1.64v10.46h-1.64zM387.28 531.18h1.64v11.62h-1.64zM388.93 533.11h1.64v9.69h-1.64zM390.57 529.24h1.64v13.56h-1.64zM392.22 535.83h1.64v6.97h-1.64zM393.86 529.63h1.64v13.17h-1.64zM395.51 523.04h1.64v19.76h-1.64zM397.15 535.05h1.64v7.75h-1.64zM398.80 536.99h1.64v5.81h-1.64zM400.44 533.89h1.64v8.91h-1.64zM402.09 538.15h1.64v4.65h-1.64zM403.73 534.28h1.64v8.52h-1.64zM405.37 533.89h1.64v8.91h-1.64zM407.02 519.16h1.64v23.64h-1.64zM408.66 531.56h1.64v11.24h-1.64zM410.31 525.36h1.64v17.44h-1.64zM411.95 527.69h1.64v15.11h-1.64zM413.60 532.34h1.64v10.46h-1.64zM415.24 524.98h1.64v17.82h-1.64zM416.89 515.68h1.64v27.12h-1.64zM418.53 521.10h1.64v21.70h-1.64zM420.18 508.31h1.64v34.49h-1.64zM421.82 520.71h1.64v22.09h-1.64zM423.47 507.15h1.64v35.65h-1.64zM425.11 519.55h1.64v23.25h-1.64zM426.76 532.34h1.64v10.46h-1.64zM428.40 532.34h1.64v10.46h-1.64zM430.05 524.98h1.64v17.82h-1.64zM431.69 508.31h1.64v34.49h-1.64zM433.34 517.23h1.64v25.57h-1.64zM434.98 505.99h1.64v36.81h-1.64zM436.63 518.78h1.64v24.02h-1.64zM438.27 518.00h1.64v24.80h-1.64zM439.91 523.04h1.64v19.76h-1.64zM441.56 530.40h1.64v12.40h-1.64zM443.20 512.19h1.64v30.61h-1.64zM444.85 520.71h1.64v22.09h-1.64zM446.49 514.51h1.64v28.29h-1.64zM448.14 528.85h1.64v13.95h-1.64zM449.78 528.08h1.64v14.72h-1.64zM451.43 529.63h1.64v13.17h-1.64zM453.07 517.61h1.64v25.19h-1.64zM454.72 519.94h1.64v22.86h-1.64zM456.36 520.33h1.64v22.47h-1.64zM458.01 511.41h1.64v31.39h-1.64zM459.65 527.30h1.64v15.50h-1.64zM461.30 525.36h1.64v17.44h-1.64zM462.94 533.50h1.64v9.30h-1.64zM464.59 526.14h1.64v16.66h-1.64zM466.23 531.18h1.64v11.62h-1.64zM467.88 511.03h1.64v31.77h-1.64zM469.52 521.49h1.64v21.31h-1.64zM471.17 531.95h1.64v10.85h-1.64zM472.81 522.26h1.64v20.54h-1.64zM474.45 525.75h1.64v17.05h-1.64zM476.10 531.18h1.64v11.62h-1.64zM477.74 509.86h1.64v32.94h-1.64zM479.39 520.33h1.64v22.47h-1.64zM481.03 523.81h1.64v18.99h-1.64zM482.68 519.16h1.64v23.64h-1.64zM484.32 527.30h1.64v15.50h-1.64zM485.97 524.98h1.64v17.82h-1.64zM487.61 514.90h1.64v27.90h-1.64zM489.26 522.65h1.64v20.15h-1.64zM490.90 520.33h1.64v22.47h-1.64zM492.55 532.34h1.64v10.46h-1.64zM494.19 525.36h1.64v17.44h-1.64zM495.84 533.89h1.64v8.91h-1.64zM497.48 536.60h1.64v6.20h-1.64zM499.13 532.73h1.64v10.07h-1.64zM500.77 528.85h1.64v13.95h-1.64zM502.42 531.18h1.64v11.62h-1.64zM504.06 516.45h1.64v26.35h-1.64zM505.71 524.20h1.64v18.60h-1.64zM507.35 527.69h1.64v15.11h-1.64zM509.00 525.36h1.64v17.44h-1.64zM510.64 519.16h1.64v23.64h-1.64zM512.28 526.14h1.64v16.66h-1.64zM513.93 524.98h1.64v17.82h-1.64zM515.57 525.75h1.64v17.05h-1.64zM517.22 540.09h1.64v2.71h-1.64zM518.86 533.11h1.64v9.69h-1.64zM520.51 522.65h1.64v20.15h-1.64zM522.15 527.30h1.64v15.50h-1.64zM523.80 528.85h1.64v13.95h-1.64zM525.44 519.16h1.64v23.64h-1.64zM527.09 524.98h1.64v17.82h-1.64zM528.73 529.63h1.64v13.17h-1.64zM530.38 531.18h1.64v11.62h-1.64zM532.02 518.39h1.64v24.41h-1.64zM533.67 532.73h1.64v10.07h-1.64zM535.31 523.43h1.64v19.37h-1.64zM536.96 518.39h1.64v24.41h-1.64zM538.60 525.75h1.64v17.05h-1.64zM540.25 529.63h1.64v13.17h-1.64zM541.89 528.46h1.64v14.34h-1.64zM543.54 518.39h1.64v24.41h-1.64zM545.18 524.20h1.64v18.60h-1.64zM546.82 521.10h1.64v21.70h-1.64zM548.47 517.61h1.64v25.19h-1.64zM550.11 525.36h1.64v17.44h-1.64zM551.76 532.34h1.64v10.46h-1.64zM553.40 525.75h1.64v17.05h-1.64zM555.05 524.59h1.64v18.21h-1.64zM556.69 527.69h1.64v15.11h-1.64zM558.34 527.30h1.64v15.50h-1.64zM559.98 531.18h1.64v11.62h-1.64zM561.63 523.81h1.64v18.99h-1.64zM563.27 524.98h1.64v17.82h-1.64zM564.92 526.14h1.64v16.66h-1.64zM566.56 535.05h1.64v7.75h-1.64zM568.21 527.69h1.64v15.11h-1.64zM569.85 510.64h1.64v32.16h-1.64zM571.50 519.94h1.64v22.86h-1.64zM573.14 503.67h1.64v39.13h-1.64zM574.79 520.33h1.64v22.47h-1.64zM576.43 516.06h1.64v26.74h-1.64zM578.08 502.89h1.64v39.91h-1.64zM579.72 505.60h1.64v37.20h-1.64zM581.36 499.79h1.64v43.01h-1.64zM583.01 500.57h1.64v42.23h-1.64zM584.65 523.81h1.64v18.99h-1.64zM586.30 530.79h1.64v12.01h-1.64zM587.94 508.31h1.64v34.49h-1.64zM589.59 479.25h1.64v63.55h-1.64zM591.23 483.13h1.64v59.67h-1.64zM592.88 487.39h1.64v55.41h-1.64zM594.52 497.08h1.64v45.72h-1.64zM596.17 503.67h1.64v39.13h-1.64zM597.81 523.81h1.64v18.99h-1.64zM599.46 526.14h1.64v16.66h-1.64zM601.10 509.48h1.64v33.32h-1.64zM602.75 470.34h1.64v72.46h-1.64zM604.39 485.07h1.64v57.73h-1.64zM606.04 484.68h1.64v58.12h-1.64zM607.68 502.12h1.64v40.68h-1.64zM609.33 525.75h1.64v17.05h-1.64zM610.97 512.58h1.64v30.22h-1.64zM612.62 484.68h1.64v58.12h-1.64zM614.26 488.55h1.64v54.25h-1.64zM615.91 488.94h1.64v53.86h-1.64zM617.55 494.37h1.64v48.43h-1.64zM619.19 514.90h1.64v27.90h-1.64zM620.84 524.98h1.64v17.82h-1.64zM622.48 510.64h1.64v32.16h-1.64zM624.13 473.05h1.64v69.75h-1.64zM625.77 484.29h1.64v58.51h-1.64zM627.42 462.59h1.64v80.21h-1.64zM629.06 480.80h1.64v62.00h-1.64zM630.71 481.58h1.64v61.22h-1.64zM632.35 499.79h1.64v43.01h-1.64zM634.00 513.74h1.64v29.06h-1.64zM635.64 493.98h1.64v48.82h-1.64zM637.29 472.28h1.64v70.52h-1.64zM638.93 450.19h1.64v92.61h-1.64zM640.58 478.87h1.64v63.93h-1.64zM642.22 456.01h1.64v86.79h-1.64zM643.87 477.32h1.64v65.48h-1.64zM645.51 469.18h1.64v73.62h-1.64zM647.16 443.99h1.64v98.81h-1.64zM648.80 445.16h1.64v97.64h-1.64zM650.45 399.05h1.64v143.75h-1.64zM652.09 416.10h1.64v126.70h-1.64zM653.73 399.82h1.64v142.98h-1.64zM655.38 432.37h1.64v110.43h-1.64zM657.02 437.02h1.64v105.78h-1.64zM658.67 411.45h1.64v131.35h-1.64zM660.31 414.16h1.64v128.64h-1.64zM661.96 359.52h1.64v183.28h-1.64zM663.60 392.85h1.64v149.95h-1.64zM665.25 424.62h1.64v118.18h-1.64zM666.89 415.32h1.64v127.48h-1.64zM668.54 357.59h1.64v185.21h-1.64zM670.18 357.20h1.64v185.60h-1.64zM671.83 337.83h1.64v204.97h-1.64zM673.47 323.88h1.64v218.92h-1.64zM675.12 304.50h1.64v238.30h-1.64zM676.76 252.58h1.64v290.22h-1.64zM678.41 310.70h1.64v232.10h-1.64zM680.05 326.20h1.64v216.60h-1.64zM681.70 261.11h1.64v281.69h-1.64zM683.34 297.53h1.64v245.27h-1.64zM684.99 237.86h1.64v304.94h-1.64zM686.63 263.43h1.64v279.37h-1.64zM688.27 284.36h1.64v258.44h-1.64zM689.92 302.57h1.64v240.23h-1.64zM691.56 252.19h1.64v290.61h-1.64zM693.21 316.90h1.64v225.90h-1.64zM694.85 332.40h1.64v210.40h-1.64zM696.50 368.82h1.64v173.98h-1.64zM698.14 395.95h1.64v146.85h-1.64zM699.79 397.88h1.64v144.92h-1.64zM701.43 441.28h1.64v101.52h-1.64zM703.08 446.32h1.64v96.48h-1.64zM704.72 437.41h1.64v105.39h-1.64zM706.37 436.63h1.64v106.17h-1.64zM708.01 443.22h1.64v99.58h-1.64zM709.66 441.28h1.64v101.52h-1.64zM711.30 449.81h1.64v92.99h-1.64zM712.95 483.52h1.64v59.28h-1.64zM714.59 486.62h1.64v56.18h-1.64zM716.24 480.42h1.64v62.38h-1.64zM717.88 485.45h1.64v57.35h-1.64zM719.53 495.53h1.64v47.27h-1.64zM721.17 474.60h1.64v68.20h-1.64zM722.82 493.20h1.64v49.60h-1.64zM724.46 504.44h1.64v38.36h-1.64zM726.10 505.22h1.64v37.58h-1.64zM727.75 507.54h1.64v35.26h-1.64zM729.39 501.34h1.64v41.46h-1.64zM731.04 505.22h1.64v37.58h-1.64zM732.68 517.23h1.64v25.57h-1.64zM734.33 519.16h1.64v23.64h-1.64zM735.97 522.65h1.64v20.15h-1.64zM737.62 510.25h1.64v32.55h-1.64zM739.26 513.74h1.64v29.06h-1.64zM740.91 506.38h1.64v36.42h-1.64zM742.55 509.09h1.64v33.71h-1.64zM744.20 514.13h1.64v28.67h-1.64zM745.84 519.55h1.64v23.25h-1.64zM747.49 519.94h1.64v22.86h-1.64zM749.13 518.39h1.64v24.41h-1.64zM750.78 514.13h1.64v28.67h-1.64zM752.42 515.29h1.64v27.51h-1.64zM754.07 512.96h1.64v29.84h-1.64zM755.71 502.50h1.64v40.30h-1.64z"/><path fill="#3af45a" stroke="#3af45a" stroke-width="0.9" d="M135.63 541.25h1.64v1.55h-1.64zM140.57 542.03h1.64v0.77h-1.64zM153.73 541.25h1.64v1.55h-1.64zM155.37 542.03h1.64v0.77h-1.64zM157.01 542.03h1.64v0.77h-1.64zM160.30 542.03h1.64v0.77h-1.64zM161.95 542.03h1.64v0.77h-1.64zM165.24 542.03h1.64v0.77h-1.64zM168.53 541.25h1.64v1.55h-1.64zM170.17 542.03h1.64v0.77h-1.64zM180.04 541.25h1.64v1.55h-1.64zM183.33 542.03h1.64v0.77h-1.64zM184.98 540.86h1.64v1.94h-1.64zM188.27 541.64h1.64v1.16h-1.64zM191.55 541.25h1.64v1.55h-1.64zM193.20 541.64h1.64v1.16h-1.64zM194.84 540.48h1.64v2.32h-1.64zM196.49 542.03h1.64v0.77h-1.64zM201.42 541.64h1.64v1.16h-1.64zM203.07 541.25h1.64v1.55h-1.64zM204.71 541.64h1.64v1.16h-1.64zM206.36 540.48h1.64v2.32h-1.64zM208.00 540.86h1.64v1.94h-1.64zM209.65 540.48h1.64v2.32h-1.64zM211.29 539.31h1.64v3.49h-1.64zM212.94 538.54h1.64v4.26h-1.64zM214.58 538.93h1.64v3.87h-1.64zM216.23 539.31h1.64v3.49h-1.64zM217.87 538.15h1.64v4.65h-1.64zM219.52 540.48h1.64v2.32h-1.64zM221.16 537.76h1.64v5.04h-1.64zM222.81 531.18h1.64v11.62h-1.64zM224.45 535.44h1.64v7.36h-1.64zM226.09 535.44h1.64v7.36h-1.64zM227.74 530.79h1.64v12.01h-1.64zM229.38 537.38h1.64v5.42h-1.64zM231.03 539.70h1.64v3.10h-1.64zM232.67 539.31h1.64v3.49h-1.64zM234.32 538.15h1.64v4.65h-1.64zM235.96 533.89h1.64v8.91h-1.64zM237.61 535.05h1.64v7.75h-1.64zM239.25 536.21h1.64v6.59h-1.64zM240.90 538.54h1.64v4.26h-1.64zM242.54 539.70h1.64v3.10h-1.64zM244.19 538.54h1.64v4.26h-1.64zM245.83 538.93h1.64v3.87h-1.64zM247.48 537.38h1.64v5.42h-1.64zM249.12 539.31h1.64v3.49h-1.64zM250.77 538.54h1.64v4.26h-1.64zM252.41 539.31h1.64v3.49h-1.64zM254.06 540.09h1.64v2.71h-1.64zM255.70 538.54h1.64v4.26h-1.64zM257.35 539.70h1.64v3.10h-1.64zM258.99 539.70h1.64v3.10h-1.64zM260.64 537.38h1.64v5.42h-1.64zM262.28 537.76h1.64v5.04h-1.64zM263.92 540.09h1.64v2.71h-1.64zM265.57 540.09h1.64v2.71h-1.64zM267.21 540.48h1.64v2.32h-1.64zM268.86 541.25h1.64v1.55h-1.64zM270.50 539.31h1.64v3.49h-1.64zM272.15 541.25h1.64v1.55h-1.64zM273.79 541.25h1.64v1.55h-1.64zM275.44 540.48h1.64v2.32h-1.64zM277.08 540.48h1.64v2.32h-1.64zM278.73 537.76h1.64v5.04h-1.64zM280.37 535.44h1.64v7.36h-1.64zM282.02 538.54h1.64v4.26h-1.64zM283.66 539.31h1.64v3.49h-1.64zM285.31 539.70h1.64v3.10h-1.64zM286.95 539.70h1.64v3.10h-1.64zM288.60 539.31h1.64v3.49h-1.64zM290.24 539.70h1.64v3.10h-1.64zM291.89 540.09h1.64v2.71h-1.64zM293.53 540.09h1.64v2.71h-1.64zM295.18 540.48h1.64v2.32h-1.64zM296.82 540.48h1.64v2.32h-1.64zM298.46 540.86h1.64v1.94h-1.64zM300.11 541.25h1.64v1.55h-1.64zM301.75 540.86h1.64v1.94h-1.64zM303.40 539.70h1.64v3.10h-1.64zM305.04 540.48h1.64v2.32h-1.64zM306.69 540.86h1.64v1.94h-1.64zM308.33 540.86h1.64v1.94h-1.64zM309.98 540.86h1.64v1.94h-1.64zM311.62 540.86h1.64v1.94h-1.64zM313.27 540.09h1.64v2.71h-1.64zM314.91 540.48h1.64v2.32h-1.64zM316.56 541.25h1.64v1.55h-1.64zM318.20 540.86h1.64v1.94h-1.64zM319.85 541.64h1.64v1.16h-1.64zM321.49 541.64h1.64v1.16h-1.64zM323.14 541.25h1.64v1.55h-1.64zM324.78 541.25h1.64v1.55h-1.64zM326.43 540.48h1.64v2.32h-1.64zM328.07 541.64h1.64v1.16h-1.64zM329.72 541.64h1.64v1.16h-1.64zM331.36 540.86h1.64v1.94h-1.64zM333.00 540.48h1.64v2.32h-1.64zM334.65 541.25h1.64v1.55h-1.64zM336.29 540.86h1.64v1.94h-1.64zM337.94 541.64h1.64v1.16h-1.64zM339.58 541.25h1.64v1.55h-1.64zM341.23 540.86h1.64v1.94h-1.64zM342.87 541.25h1.64v1.55h-1.64zM344.52 541.25h1.64v1.55h-1.64zM346.16 540.86h1.64v1.94h-1.64zM347.81 540.48h1.64v2.32h-1.64zM349.45 540.48h1.64v2.32h-1.64zM351.10 541.64h1.64v1.16h-1.64zM352.74 540.48h1.64v2.32h-1.64zM354.39 538.54h1.64v4.26h-1.64zM356.03 536.21h1.64v6.59h-1.64zM357.68 533.50h1.64v9.30h-1.64zM359.32 538.54h1.64v4.26h-1.64zM360.97 536.99h1.64v5.81h-1.64zM362.61 536.99h1.64v5.81h-1.64zM364.26 538.54h1.64v4.26h-1.64zM365.90 538.15h1.64v4.65h-1.64zM367.55 538.93h1.64v3.87h-1.64zM369.19 538.15h1.64v4.65h-1.64zM370.83 538.15h1.64v4.65h-1.64zM372.48 538.54h1.64v4.26h-1.64zM374.12 534.66h1.64v8.14h-1.64zM375.77 532.34h1.64v10.46h-1.64zM377.41 534.28h1.64v8.52h-1.64zM379.06 536.60h1.64v6.20h-1.64zM380.70 538.54h1.64v4.26h-1.64zM382.35 535.83h1.64v6.97h-1.64zM383.99 532.34h1.64v10.46h-1.64zM385.64 533.50h1.64v9.30h-1.64zM387.28 533.89h1.64v8.91h-1.64zM388.93 534.28h1.64v8.52h-1.64zM390.57 531.95h1.64v10.85h-1.64zM392.22 537.38h1.64v5.42h-1.64zM393.86 531.18h1.64v11.62h-1.64zM395.51 526.53h1.64v16.27h-1.64zM397.15 536.60h1.64v6.20h-1.64zM398.80 537.76h1.64v5.04h-1.64zM400.44 535.44h1.64v7.36h-1.64zM402.09 539.31h1.64v3.49h-1.64zM403.73 535.44h1.64v7.36h-1.64zM405.37 536.21h1.64v6.59h-1.64zM407.02 523.81h1.64v18.99h-1.64zM408.66 533.11h1.64v9.69h-1.64zM410.31 528.08h1.64v14.72h-1.64zM411.95 530.01h1.64v12.79h-1.64zM413.60 533.89h1.64v8.91h-1.64zM415.24 527.69h1.64v15.11h-1.64zM416.89 520.33h1.64v22.47h-1.64zM418.53 524.20h1.64v18.60h-1.64zM420.18 513.35h1.64v29.45h-1.64zM421.82 524.59h1.64v18.21h-1.64zM423.47 512.19h1.64v30.61h-1.64zM425.11 523.04h1.64v19.76h-1.64zM426.76 534.66h1.64v8.14h-1.64zM428.40 533.50h1.64v9.30h-1.64zM430.05 527.30h1.64v15.50h-1.64zM431.69 515.68h1.64v27.12h-1.64zM433.34 521.49h1.64v21.31h-1.64zM434.98 514.13h1.64v28.67h-1.64zM436.63 522.65h1.64v20.15h-1.64zM438.27 521.49h1.64v21.31h-1.64zM439.91 525.75h1.64v17.05h-1.64zM441.56 532.34h1.64v10.46h-1.64zM443.20 517.61h1.64v25.19h-1.64zM444.85 523.81h1.64v18.99h-1.64zM446.49 518.00h1.64v24.80h-1.64zM448.14 531.18h1.64v11.62h-1.64zM449.78 530.40h1.64v12.40h-1.64zM451.43 531.95h1.64v10.85h-1.64zM453.07 521.10h1.64v21.70h-1.64zM454.72 523.04h1.64v19.76h-1.64zM456.36 524.20h1.64v18.60h-1.64zM458.01 517.61h1.64v25.19h-1.64zM459.65 529.63h1.64v13.17h-1.64zM461.30 529.63h1.64v13.17h-1.64zM462.94 535.44h1.64v7.36h-1.64zM464.59 528.85h1.64v13.95h-1.64zM466.23 532.73h1.64v10.07h-1.64zM467.88 517.23h1.64v25.57h-1.64zM469.52 525.36h1.64v17.44h-1.64zM471.17 533.89h1.64v8.91h-1.64zM472.81 525.36h1.64v17.44h-1.64zM474.45 528.46h1.64v14.34h-1.64zM476.10 533.50h1.64v9.30h-1.64zM477.74 514.51h1.64v28.29h-1.64zM479.39 523.43h1.64v19.37h-1.64zM481.03 527.30h1.64v15.50h-1.64zM482.68 523.81h1.64v18.99h-1.64zM484.32 530.40h1.64v12.40h-1.64zM485.97 528.08h1.64v14.72h-1.64zM487.61 519.55h1.64v23.25h-1.64zM489.26 526.91h1.64v15.89h-1.64zM490.90 523.43h1.64v19.37h-1.64zM492.55 534.28h1.64v8.52h-1.64zM494.19 527.69h1.64v15.11h-1.64zM495.84 535.05h1.64v7.75h-1.64zM497.48 537.38h1.64v5.42h-1.64zM499.13 534.28h1.64v8.52h-1.64zM500.77 530.79h1.64v12.01h-1.64zM502.42 532.34h1.64v10.46h-1.64zM504.06 520.71h1.64v22.09h-1.64zM505.71 528.08h1.64v14.72h-1.64zM507.35 530.40h1.64v12.40h-1.64zM509.00 527.69h1.64v15.11h-1.64zM510.64 523.43h1.64v19.37h-1.64zM512.28 529.24h1.64v13.56h-1.64zM513.93 528.08h1.64v14.72h-1.64zM515.57 529.24h1.64v13.56h-1.64zM517.22 540.48h1.64v2.32h-1.64zM518.86 534.28h1.64v8.52h-1.64zM520.51 525.36h1.64v17.44h-1.64zM522.15 529.63h1.64v13.17h-1.64zM523.80 530.40h1.64v12.40h-1.64zM525.44 523.81h1.64v18.99h-1.64zM527.09 529.24h1.64v13.56h-1.64zM528.73 531.95h1.64v10.85h-1.64zM530.38 534.28h1.64v8.52h-1.64zM532.02 523.43h1.64v19.37h-1.64zM533.67 534.28h1.64v8.52h-1.64zM535.31 526.91h1.64v15.89h-1.64zM536.96 523.43h1.64v19.37h-1.64zM538.60 529.24h1.64v13.56h-1.64zM540.25 532.34h1.64v10.46h-1.64zM541.89 531.56h1.64v11.24h-1.64zM543.54 521.49h1.64v21.31h-1.64zM545.18 526.91h1.64v15.89h-1.64zM546.82 524.98h1.64v17.82h-1.64zM548.47 521.10h1.64v21.70h-1.64zM550.11 528.85h1.64v13.95h-1.64zM551.76 534.28h1.64v8.52h-1.64zM553.40 528.46h1.64v14.34h-1.64zM555.05 527.30h1.64v15.50h-1.64zM556.69 529.63h1.64v13.17h-1.64zM558.34 530.79h1.64v12.01h-1.64zM559.98 533.11h1.64v9.69h-1.64zM561.63 528.08h1.64v14.72h-1.64zM563.27 528.08h1.64v14.72h-1.64zM564.92 528.85h1.64v13.95h-1.64zM566.56 536.21h1.64v6.59h-1.64zM568.21 530.79h1.64v12.01h-1.64zM569.85 517.61h1.64v25.19h-1.64zM571.50 523.81h1.64v18.99h-1.64zM573.14 509.48h1.64v33.32h-1.64zM574.79 524.98h1.64v17.82h-1.64zM576.43 519.55h1.64v23.25h-1.64zM578.08 511.03h1.64v31.77h-1.64zM579.72 512.19h1.64v30.61h-1.64zM581.36 509.09h1.64v33.71h-1.64zM583.01 510.25h1.64v32.55h-1.64zM584.65 527.30h1.64v15.50h-1.64zM586.30 532.34h1.64v10.46h-1.64zM587.94 515.29h1.64v27.51h-1.64zM589.59 493.20h1.64v49.60h-1.64zM591.23 495.92h1.64v46.88h-1.64zM592.88 501.34h1.64v41.46h-1.64zM594.52 506.76h1.64v36.04h-1.64zM596.17 510.64h1.64v32.16h-1.64zM597.81 527.69h1.64v15.11h-1.64zM599.46 528.85h1.64v13.95h-1.64zM601.10 516.06h1.64v26.74h-1.64zM602.75 480.42h1.64v62.38h-1.64zM604.39 498.63h1.64v44.17h-1.64zM606.04 496.69h1.64v46.11h-1.64zM607.68 509.86h1.64v32.94h-1.64zM609.33 529.63h1.64v13.17h-1.64zM610.97 519.16h1.64v23.64h-1.64zM612.62 497.47h1.64v45.33h-1.64zM614.26 499.79h1.64v43.01h-1.64zM615.91 500.95h1.64v41.85h-1.64zM617.55 507.15h1.64v35.65h-1.64zM619.19 521.49h1.64v21.31h-1.64zM620.84 528.85h1.64v13.95h-1.64zM622.48 517.23h1.64v25.57h-1.64zM624.13 493.20h1.64v49.60h-1.64zM625.77 496.69h1.64v46.11h-1.64zM627.42 481.19h1.64v61.61h-1.64zM629.06 492.04h1.64v50.76h-1.64zM630.71 491.65h1.64v51.15h-1.64zM632.35 510.25h1.64v32.55h-1.64zM634.00 521.49h1.64v21.31h-1.64zM635.64 504.83h1.64v37.97h-1.64zM637.29 490.10h1.64v52.70h-1.64zM638.93 467.24h1.64v75.56h-1.64zM640.58 491.27h1.64v51.53h-1.64zM642.22 473.83h1.64v68.97h-1.64zM643.87 488.94h1.64v53.86h-1.64zM645.51 485.45h1.64v57.35h-1.64zM647.16 464.92h1.64v77.88h-1.64zM648.80 466.86h1.64v75.94h-1.64zM650.45 424.23h1.64v118.57h-1.64zM652.09 442.06h1.64v100.74h-1.64zM653.73 425.78h1.64v117.02h-1.64zM655.38 451.74h1.64v91.06h-1.64zM657.02 455.23h1.64v87.57h-1.64zM658.67 427.72h1.64v115.08h-1.64zM660.31 433.92h1.64v108.88h-1.64zM661.96 401.37h1.64v141.43h-1.64zM663.60 416.48h1.64v126.32h-1.64zM665.25 449.81h1.64v92.99h-1.64zM666.89 437.79h1.64v105.01h-1.64zM668.54 400.98h1.64v141.82h-1.64zM670.18 401.76h1.64v141.04h-1.64zM671.83 368.05h1.64v174.75h-1.64zM673.47 367.66h1.64v175.14h-1.64zM675.12 363.01h1.64v179.79h-1.64zM676.76 301.40h1.64v241.40h-1.64zM678.41 357.59h1.64v185.21h-1.64zM680.05 365.34h1.64v177.46h-1.64zM681.70 309.93h1.64v232.87h-1.64zM683.34 333.95h1.64v208.85h-1.64zM684.99 305.67h1.64v237.13h-1.64zM686.63 309.54h1.64v233.26h-1.64zM688.27 330.46h1.64v212.34h-1.64zM689.92 335.89h1.64v206.91h-1.64zM691.56 305.67h1.64v237.13h-1.64zM693.21 356.04h1.64v186.76h-1.64zM694.85 368.05h1.64v174.75h-1.64zM696.50 402.92h1.64v139.88h-1.64zM698.14 427.72h1.64v115.08h-1.64zM699.79 418.03h1.64v124.77h-1.64zM701.43 464.14h1.64v78.66h-1.64zM703.08 464.14h1.64v78.66h-1.64zM704.72 457.94h1.64v84.86h-1.64zM706.37 459.49h1.64v83.31h-1.64zM708.01 473.44h1.64v69.36h-1.64zM709.66 456.39h1.64v86.41h-1.64zM711.30 472.28h1.64v70.52h-1.64zM712.95 495.92h1.64v46.88h-1.64zM714.59 499.02h1.64v43.78h-1.64zM716.24 493.20h1.64v49.60h-1.64zM717.88 499.40h1.64v43.40h-1.64zM719.53 506.76h1.64v36.04h-1.64zM721.17 489.33h1.64v53.47h-1.64zM722.82 502.89h1.64v39.91h-1.64zM724.46 512.58h1.64v30.22h-1.64zM726.10 513.74h1.64v29.06h-1.64zM727.75 513.74h1.64v29.06h-1.64zM729.39 509.86h1.64v32.94h-1.64zM731.04 513.74h1.64v29.06h-1.64zM732.68 522.65h1.64v20.15h-1.64zM734.33 524.59h1.64v18.21h-1.64zM735.97 526.14h1.64v16.66h-1.64zM737.62 518.00h1.64v24.80h-1.64zM739.26 520.33h1.64v22.47h-1.64zM740.91 513.74h1.64v29.06h-1.64zM742.55 513.74h1.64v29.06h-1.64zM744.20 519.94h1.64v22.86h-1.64zM745.84 524.98h1.64v17.82h-1.64zM747.49 523.43h1.64v19.37h-1.64zM749.13 523.04h1.64v19.76h-1.64zM750.78 520.71h1.64v22.09h-1.64zM752.42 523.04h1.64v19.76h-1.64zM754.07 519.16h1.64v23.64h-1.64zM755.71 509.86h1.64v32.94h-1.64z"/><path fill="#7cfd3a" stroke="#7cfd3a" stroke-width="0.9" d="M84.64 542.03h1.64v0.77h-1.64zM132.34 542.03h1.64v0.77h-1.64zM142.21 542.03h1.64v0.77h-1.64zM147.15 541.25h1.64v1.55h-1.64zM153.73 542.03h1.64v0.77h-1.64zM158.66 542.03h1.64v0.77h-1.64zM166.88 542.03h1.64v0.77h-1.64zM180.04 542.03h1.64v0.77h-1.64zM184.98 542.41h1.64v0.39h-1.64zM188.27 542.03h1.64v0.77h-1.64zM191.55 542.03h1.64v0.77h-1.64zM193.20 542.03h1.64v0.77h-1.64zM198.13 542.03h1.64v0.77h-1.64zM201.42 542.03h1.64v0.77h-1.64zM203.07 542.03h1.64v0.77h-1.64zM204.71 542.03h1.64v0.77h-1.64zM206.36 541.25h1.64v1.55h-1.64zM208.00 541.64h1.64v1.16h-1.64zM209.65 541.25h1.64v1.55h-1.64zM211.29 540.86h1.64v1.94h-1.64zM212.94 540.09h1.64v2.71h-1.64zM214.58 540.09h1.64v2.71h-1.64zM216.23 540.48h1.64v2.32h-1.64zM217.87 539.31h1.64v3.49h-1.64zM219.52 541.25h1.64v1.55h-1.64zM221.16 539.31h1.64v3.49h-1.64zM222.81 534.66h1.64v8.14h-1.64zM224.45 537.76h1.64v5.04h-1.64zM226.09 537.76h1.64v5.04h-1.64zM227.74 535.44h1.64v7.36h-1.64zM229.38 538.93h1.64v3.87h-1.64zM231.03 540.86h1.64v1.94h-1.64zM232.67 540.48h1.64v2.32h-1.64zM234.32 539.31h1.64v3.49h-1.64zM235.96 537.38h1.64v5.42h-1.64zM237.61 537.38h1.64v5.42h-1.64zM239.25 538.93h1.64v3.87h-1.64zM240.90 539.70h1.64v3.10h-1.64zM242.54 540.86h1.64v1.94h-1.64zM244.19 539.70h1.64v3.10h-1.64zM245.83 540.48h1.64v2.32h-1.64zM247.48 538.93h1.64v3.87h-1.64zM249.12 540.48h1.64v2.32h-1.64zM250.77 540.48h1.64v2.32h-1.64zM252.41 540.48h1.64v2.32h-1.64zM254.06 541.25h1.64v1.55h-1.64zM255.70 539.70h1.64v3.10h-1.64zM257.35 540.86h1.64v1.94h-1.64zM258.99 540.86h1.64v1.94h-1.64zM260.64 538.93h1.64v3.87h-1.64zM262.28 540.09h1.64v2.71h-1.64zM263.92 540.86h1.64v1.94h-1.64zM265.57 541.25h1.64v1.55h-1.64zM267.21 541.25h1.64v1.55h-1.64zM268.86 541.64h1.64v1.16h-1.64zM270.50 540.48h1.64v2.32h-1.64zM272.15 541.64h1.64v1.16h-1.64zM273.79 542.03h1.64v0.77h-1.64zM275.44 541.64h1.64v1.16h-1.64zM277.08 541.25h1.64v1.55h-1.64zM278.73 539.70h1.64v3.10h-1.64zM280.37 537.76h1.64v5.04h-1.64zM282.02 540.09h1.64v2.71h-1.64zM283.66 540.48h1.64v2.32h-1.64zM285.31 540.86h1.64v1.94h-1.64zM286.95 540.86h1.64v1.94h-1.64zM288.60 540.86h1.64v1.94h-1.64zM290.24 540.48h1.64v2.32h-1.64zM291.89 541.25h1.64v1.55h-1.64zM293.53 540.86h1.64v1.94h-1.64zM295.18 541.25h1.64v1.55h-1.64zM296.82 541.25h1.64v1.55h-1.64zM298.46 541.25h1.64v1.55h-1.64zM300.11 541.64h1.64v1.16h-1.64zM301.75 541.25h1.64v1.55h-1.64zM303.40 540.48h1.64v2.32h-1.64zM305.04 540.86h1.64v1.94h-1.64zM306.69 541.25h1.64v1.55h-1.64zM308.33 541.25h1.64v1.55h-1.64zM309.98 541.25h1.64v1.55h-1.64zM311.62 541.25h1.64v1.55h-1.64zM313.27 540.86h1.64v1.94h-1.64zM314.91 540.86h1.64v1.94h-1.64zM316.56 541.64h1.64v1.16h-1.64zM318.20 541.25h1.64v1.55h-1.64zM319.85 542.03h1.64v0.77h-1.64zM321.49 542.03h1.64v0.77h-1.64zM323.14 541.64h1.64v1.16h-1.64zM324.78 541.64h1.64v1.16h-1.64zM326.43 540.86h1.64v1.94h-1.64zM328.07 542.03h1.64v0.77h-1.64zM329.72 542.03h1.64v0.77h-1.64zM331.36 541.25h1.64v1.55h-1.64zM333.00 540.86h1.64v1.94h-1.64zM334.65 541.64h1.64v1.16h-1.64zM336.29 541.64h1.64v1.16h-1.64zM337.94 542.03h1.64v0.77h-1.64zM339.58 541.64h1.64v1.16h-1.64zM341.23 541.25h1.64v1.55h-1.64zM342.87 541.64h1.64v1.16h-1.64zM344.52 541.64h1.64v1.16h-1.64zM346.16 541.25h1.64v1.55h-1.64zM347.81 541.25h1.64v1.55h-1.64zM349.45 540.86h1.64v1.94h-1.64zM351.10 542.03h1.64v0.77h-1.64zM352.74 540.86h1.64v1.94h-1.64zM354.39 539.31h1.64v3.49h-1.64zM356.03 537.76h1.64v5.04h-1.64zM357.68 535.44h1.64v7.36h-1.64zM359.32 539.70h1.64v3.10h-1.64zM360.97 538.15h1.64v4.65h-1.64zM362.61 538.15h1.64v4.65h-1.64zM364.26 539.70h1.64v3.10h-1.64zM365.90 539.31h1.64v3.49h-1.64zM367.55 539.70h1.64v3.10h-1.64zM369.19 539.31h1.64v3.49h-1.64zM370.83 539.31h1.64v3.49h-1.64zM372.48 539.70h1.64v3.10h-1.64zM374.12 536.21h1.64v6.59h-1.64zM375.77 533.89h1.64v8.91h-1.64zM377.41 536.21h1.64v6.59h-1.64zM379.06 538.15h1.64v4.65h-1.64zM380.70 539.31h1.64v3.49h-1.64zM382.35 537.38h1.64v5.42h-1.64zM383.99 534.66h1.64v8.14h-1.64zM385.64 535.05h1.64v7.75h-1.64zM387.28 535.83h1.64v6.97h-1.64zM388.93 536.21h1.64v6.59h-1.64zM390.57 534.28h1.64v8.52h-1.64zM392.22 538.54h1.64v4.26h-1.64zM393.86 533.50h1.64v9.30h-1.64zM395.51 530.01h1.64v12.79h-1.64zM397.15 537.76h1.64v5.04h-1.64zM398.80 538.54h1.64v4.26h-1.64zM400.44 536.60h1.64v6.20h-1.64zM402.09 540.09h1.64v2.71h-1.64zM403.73 537.38h1.64v5.42h-1.64zM405.37 538.15h1.64v4.65h-1.64zM407.02 527.69h1.64v15.11h-1.64zM408.66 535.44h1.64v7.36h-1.64zM410.31 531.18h1.64v11.62h-1.64zM411.95 532.73h1.64v10.07h-1.64zM413.60 535.83h1.64v6.97h-1.64zM415.24 531.56h1.64v11.24h-1.64zM416.89 523.81h1.64v18.99h-1.64zM418.53 526.91h1.64v15.89h-1.64zM420.18 521.88h1.64v20.92h-1.64zM421.82 528.08h1.64v14.72h-1.64zM423.47 517.23h1.64v25.57h-1.64zM425.11 527.69h1.64v15.11h-1.64zM426.76 535.83h1.64v6.97h-1.64zM428.40 535.44h1.64v7.36h-1.64zM430.05 531.18h1.64v11.62h-1.64zM431.69 521.49h1.64v21.31h-1.64zM433.34 526.14h1.64v16.66h-1.64zM434.98 519.55h1.64v23.25h-1.64zM436.63 526.53h1.64v16.27h-1.64zM438.27 524.98h1.64v17.82h-1.64zM439.91 530.01h1.64v12.79h-1.64zM441.56 535.05h1.64v7.75h-1.64zM443.20 522.26h1.64v20.54h-1.64zM444.85 528.46h1.64v14.34h-1.64zM446.49 523.04h1.64v19.76h-1.64zM448.14 533.50h1.64v9.30h-1.64zM449.78 532.73h1.64v10.07h-1.64zM451.43 534.28h1.64v8.52h-1.64zM453.07 526.91h1.64v15.89h-1.64zM454.72 526.53h1.64v16.27h-1.64zM456.36 528.85h1.64v13.95h-1.64zM458.01 523.04h1.64v19.76h-1.64zM459.65 531.56h1.64v11.24h-1.64zM461.30 531.95h1.64v10.85h-1.64zM462.94 536.99h1.64v5.81h-1.64zM464.59 532.73h1.64v10.07h-1.64zM466.23 534.66h1.64v8.14h-1.64zM467.88 522.65h1.64v20.15h-1.64zM469.52 529.24h1.64v13.56h-1.64zM471.17 535.83h1.64v6.97h-1.64zM472.81 529.24h1.64v13.56h-1.64zM474.45 531.95h1.64v10.85h-1.64zM476.10 535.83h1.64v6.97h-1.64zM477.74 519.16h1.64v23.64h-1.64zM479.39 527.30h1.64v15.50h-1.64zM481.03 530.79h1.64v12.01h-1.64zM482.68 527.69h1.64v15.11h-1.64zM484.32 532.34h1.64v10.46h-1.64zM485.97 531.18h1.64v11.62h-1.64zM487.61 524.59h1.64v18.21h-1.64zM489.26 530.40h1.64v12.40h-1.64zM490.90 527.30h1.64v15.50h-1.64zM492.55 536.21h1.64v6.59h-1.64zM494.19 530.01h1.64v12.79h-1.64zM495.84 536.60h1.64v6.20h-1.64zM497.48 538.54h1.64v4.26h-1.64zM499.13 536.21h1.64v6.59h-1.64zM500.77 533.50h1.64v9.30h-1.64zM502.42 534.66h1.64v8.14h-1.64zM504.06 524.59h1.64v18.21h-1.64zM505.71 530.40h1.64v12.40h-1.64zM507.35 532.73h1.64v10.07h-1.64zM509.00 531.56h1.64v11.24h-1.64zM510.64 527.30h1.64v15.50h-1.64zM512.28 531.95h1.64v10.85h-1.64zM513.93 531.56h1.64v11.24h-1.64zM515.57 531.95h1.64v10.85h-1.64zM517.22 540.86h1.64v1.94h-1.64zM518.86 536.21h1.64v6.59h-1.64zM520.51 528.85h1.64v13.95h-1.64zM522.15 531.95h1.64v10.85h-1.64zM523.80 533.89h1.64v8.91h-1.64zM525.44 527.69h1.64v15.11h-1.64zM527.09 531.56h1.64v11.24h-1.64zM528.73 534.28h1.64v8.52h-1.64zM530.38 535.83h1.64v6.97h-1.64zM532.02 528.85h1.64v13.95h-1.64zM533.67 535.83h1.64v6.97h-1.64zM535.31 530.01h1.64v12.79h-1.64zM536.96 526.53h1.64v16.27h-1.64zM538.60 531.95h1.64v10.85h-1.64zM540.25 534.66h1.64v8.14h-1.64zM541.89 534.66h1.64v8.14h-1.64zM543.54 524.98h1.64v17.82h-1.64zM545.18 529.63h1.64v13.17h-1.64zM546.82 528.08h1.64v14.72h-1.64zM548.47 525.36h1.64v17.44h-1.64zM550.11 532.73h1.64v10.07h-1.64zM551.76 535.83h1.64v6.97h-1.64zM553.40 531.95h1.64v10.85h-1.64zM555.05 531.18h1.64v11.62h-1.64zM556.69 532.34h1.64v10.46h-1.64zM558.34 533.11h1.64v9.69h-1.64zM559.98 535.05h1.64v7.75h-1.64zM561.63 530.79h1.64v12.01h-1.64zM563.27 531.56h1.64v11.24h-1.64zM564.92 531.95h1.64v10.85h-1.64zM566.56 537.76h1.64v5.04h-1.64zM568.21 533.11h1.64v9.69h-1.64zM569.85 522.65h1.64v20.15h-1.64zM571.50 528.46h1.64v14.34h-1.64zM573.14 517.61h1.64v25.19h-1.64zM574.79 529.24h1.64v13.56h-1.64zM576.43 526.14h1.64v16.66h-1.64zM578.08 518.78h1.64v24.02h-1.64zM579.72 521.10h1.64v21.70h-1.64zM581.36 518.00h1.64v24.80h-1.64zM583.01 518.00h1.64v24.80h-1.64zM584.65 530.79h1.64v12.01h-1.64zM586.30 535.44h1.64v7.36h-1.64zM587.94 521.88h1.64v20.92h-1.64zM589.59 505.99h1.64v36.81h-1.64zM591.23 507.93h1.64v34.87h-1.64zM592.88 513.35h1.64v29.45h-1.64zM594.52 517.61h1.64v25.19h-1.64zM596.17 517.23h1.64v25.57h-1.64zM597.81 531.95h1.64v10.85h-1.64zM599.46 533.50h1.64v9.30h-1.64zM601.10 524.20h1.64v18.60h-1.64zM602.75 500.57h1.64v42.23h-1.64zM604.39 506.76h1.64v36.04h-1.64zM606.04 508.70h1.64v34.10h-1.64zM607.68 518.39h1.64v24.41h-1.64zM609.33 532.34h1.64v10.46h-1.64zM610.97 527.30h1.64v15.50h-1.64zM612.62 508.70h1.64v34.10h-1.64zM614.26 510.64h1.64v32.16h-1.64zM615.91 513.74h1.64v29.06h-1.64zM617.55 515.29h1.64v27.51h-1.64zM619.19 525.36h1.64v17.44h-1.64zM620.84 532.34h1.64v10.46h-1.64zM622.48 524.20h1.64v18.60h-1.64zM624.13 513.35h1.64v29.45h-1.64zM625.77 505.99h1.64v36.81h-1.64zM627.42 498.24h1.64v44.56h-1.64zM629.06 505.60h1.64v37.20h-1.64zM630.71 504.83h1.64v37.97h-1.64zM632.35 520.33h1.64v22.47h-1.64zM634.00 527.30h1.64v15.50h-1.64zM635.64 515.68h1.64v27.12h-1.64zM637.29 503.28h1.64v39.52h-1.64zM638.93 488.55h1.64v54.25h-1.64zM640.58 505.22h1.64v37.58h-1.64zM642.22 491.27h1.64v51.53h-1.64zM643.87 499.79h1.64v43.01h-1.64zM645.51 497.47h1.64v45.33h-1.64zM647.16 486.62h1.64v56.18h-1.64zM648.80 487.00h1.64v55.80h-1.64zM650.45 452.52h1.64v90.28h-1.64zM652.09 464.92h1.64v77.88h-1.64zM653.73 461.82h1.64v80.98h-1.64zM655.38 478.09h1.64v64.71h-1.64zM657.02 472.67h1.64v70.13h-1.64zM658.67 457.94h1.64v84.86h-1.64zM660.31 457.94h1.64v84.86h-1.64zM661.96 446.32h1.64v96.48h-1.64zM663.60 452.13h1.64v90.67h-1.64zM665.25 473.05h1.64v69.75h-1.64zM666.89 468.79h1.64v74.01h-1.64zM668.54 435.08h1.64v107.72h-1.64zM670.18 437.02h1.64v105.78h-1.64zM671.83 410.67h1.64v132.13h-1.64zM673.47 407.57h1.64v135.23h-1.64zM675.12 411.83h1.64v130.97h-1.64zM676.76 379.67h1.64v163.13h-1.64zM678.41 411.06h1.64v131.74h-1.64zM680.05 392.85h1.64v149.95h-1.64zM681.70 358.36h1.64v184.44h-1.64zM683.34 379.29h1.64v163.51h-1.64zM684.99 371.15h1.64v171.65h-1.64zM686.63 376.19h1.64v166.61h-1.64zM688.27 375.41h1.64v167.39h-1.64zM689.92 379.67h1.64v163.13h-1.64zM691.56 361.46h1.64v181.34h-1.64zM693.21 402.92h1.64v139.88h-1.64zM694.85 415.71h1.64v127.09h-1.64zM696.50 436.63h1.64v106.17h-1.64zM698.14 460.27h1.64v82.53h-1.64zM699.79 447.09h1.64v95.71h-1.64zM701.43 485.84h1.64v56.96h-1.64zM703.08 492.82h1.64v49.98h-1.64zM704.72 476.15h1.64v66.65h-1.64zM706.37 479.64h1.64v63.16h-1.64zM708.01 487.39h1.64v55.41h-1.64zM709.66 479.64h1.64v63.16h-1.64zM711.30 490.88h1.64v51.92h-1.64zM712.95 510.25h1.64v32.55h-1.64zM714.59 508.70h1.64v34.10h-1.64zM716.24 509.09h1.64v33.71h-1.64zM717.88 510.25h1.64v32.55h-1.64zM719.53 519.16h1.64v23.64h-1.64zM721.17 506.76h1.64v36.04h-1.64zM722.82 511.41h1.64v31.39h-1.64zM724.46 522.65h1.64v20.15h-1.64zM726.10 521.49h1.64v21.31h-1.64zM727.75 523.43h1.64v19.37h-1.64zM729.39 517.61h1.64v25.19h-1.64zM731.04 519.55h1.64v23.25h-1.64zM732.68 527.69h1.64v15.11h-1.64zM734.33 529.63h1.64v13.17h-1.64zM735.97 530.01h1.64v12.79h-1.64zM737.62 527.30h1.64v15.50h-1.64zM739.26 526.91h1.64v15.89h-1.64zM740.91 519.94h1.64v22.86h-1.64zM742.55 521.10h1.64v21.70h-1.64zM744.20 525.75h1.64v17.05h-1.64zM745.84 529.63h1.64v13.17h-1.64zM747.49 527.69h1.64v15.11h-1.64zM749.13 526.53h1.64v16.27h-1.64zM750.78 526.14h1.64v16.66h-1.64zM752.42 528.85h1.64v13.95h-1.64zM754.07 524.98h1.64v17.82h-1.64zM755.71 518.00h1.64v24.80h-1.64z"/><path fill="#d6fe30" stroke="#d6fe30" stroke-width="0.9" d="M129.05 542.03h1.64v0.77h-1.64zM135.63 542.03h1.64v0.77h-1.64zM147.15 542.03h1.64v0.77h-1.64zM171.82 541.25h1.64v1.55h-1.64zM176.75 542.03h1.64v0.77h-1.64zM181.69 542.03h1.64v0.77h-1.64zM183.33 542.41h1.64v0.39h-1.64zM188.27 542.41h1.64v0.39h-1.64zM191.55 542.41h1.64v0.39h-1.64zM193.20 542.41h1.64v0.39h-1.64zM194.84 540.86h1.64v1.94h-1.64zM196.49 542.41h1.64v0.39h-1.64zM201.42 542.41h1.64v0.39h-1.64zM203.07 542.41h1.64v0.39h-1.64zM204.71 542.41h1.64v0.39h-1.64zM206.36 542.03h1.64v0.77h-1.64zM208.00 542.41h1.64v0.39h-1.64zM209.65 542.03h1.64v0.77h-1.64zM211.29 542.03h1.64v0.77h-1.64zM212.94 542.03h1.64v0.77h-1.64zM214.58 541.25h1.64v1.55h-1.64zM216.23 541.64h1.64v1.16h-1.64zM217.87 540.86h1.64v1.94h-1.64zM219.52 542.03h1.64v0.77h-1.64zM221.16 540.86h1.64v1.94h-1.64zM222.81 537.76h1.64v5.04h-1.64zM224.45 540.09h1.64v2.71h-1.64zM226.09 540.48h1.64v2.32h-1.64zM227.74 538.93h1.64v3.87h-1.64zM229.38 540.48h1.64v2.32h-1.64zM231.03 541.64h1.64v1.16h-1.64zM232.67 541.64h1.64v1.16h-1.64zM234.32 540.86h1.64v1.94h-1.64zM235.96 539.70h1.64v3.10h-1.64zM237.61 540.09h1.64v2.71h-1.64zM239.25 540.86h1.64v1.94h-1.64zM240.90 540.86h1.64v1.94h-1.64zM242.54 541.64h1.64v1.16h-1.64zM244.19 541.25h1.64v1.55h-1.64zM245.83 541.25h1.64v1.55h-1.64zM247.48 540.86h1.64v1.94h-1.64zM249.12 541.64h1.64v1.16h-1.64zM250.77 541.64h1.64v1.16h-1.64zM252.41 541.64h1.64v1.16h-1.64zM254.06 542.03h1.64v0.77h-1.64zM255.70 540.86h1.64v1.94h-1.64zM257.35 541.64h1.64v1.16h-1.64zM258.99 541.64h1.64v1.16h-1.64zM260.64 540.86h1.64v1.94h-1.64zM262.28 541.64h1.64v1.16h-1.64zM263.92 541.64h1.64v1.16h-1.64zM265.57 542.03h1.64v0.77h-1.64zM267.21 542.03h1.64v0.77h-1.64zM268.86 542.03h1.64v0.77h-1.64zM270.50 541.64h1.64v1.16h-1.64zM272.15 542.41h1.64v0.39h-1.64zM273.79 542.41h1.64v0.39h-1.64zM275.44 542.03h1.64v0.77h-1.64zM277.08 542.03h1.64v0.77h-1.64zM278.73 541.25h1.64v1.55h-1.64zM280.37 540.09h1.64v2.71h-1.64zM282.02 541.64h1.64v1.16h-1.64zM283.66 541.64h1.64v1.16h-1.64zM285.31 542.03h1.64v0.77h-1.64zM286.95 542.03h1.64v0.77h-1.64zM288.60 541.64h1.64v1.16h-1.64zM290.24 541.25h1.64v1.55h-1.64zM291.89 541.64h1.64v1.16h-1.64zM293.53 541.64h1.64v1.16h-1.64zM295.18 542.03h1.64v0.77h-1.64zM296.82 541.64h1.64v1.16h-1.64zM298.46 542.03h1.64v0.77h-1.64zM300.11 542.41h1.64v0.39h-1.64zM301.75 542.03h1.64v0.77h-1.64zM303.40 541.64h1.64v1.16h-1.64zM305.04 541.64h1.64v1.16h-1.64zM306.69 542.03h1.64v0.77h-1.64zM308.33 542.03h1.64v0.77h-1.64zM309.98 542.03h1.64v0.77h-1.64zM311.62 542.03h1.64v0.77h-1.64zM313.27 541.25h1.64v1.55h-1.64zM314.91 541.64h1.64v1.16h-1.64zM316.56 542.03h1.64v0.77h-1.64zM318.20 541.64h1.64v1.16h-1.64zM319.85 542.41h1.64v0.39h-1.64zM321.49 542.41h1.64v0.39h-1.64zM323.14 542.41h1.64v0.39h-1.64zM324.78 542.03h1.64v0.77h-1.64zM326.43 541.64h1.64v1.16h-1.64zM328.07 542.41h1.64v0.39h-1.64zM329.72 542.41h1.64v0.39h-1.64zM331.36 541.64h1.64v1.16h-1.64zM333.00 541.64h1.64v1.16h-1.64zM334.65 542.03h1.64v0.77h-1.64zM336.29 542.03h1.64v0.77h-1.64zM337.94 542.41h1.64v0.39h-1.64zM339.58 542.03h1.64v0.77h-1.64zM341.23 542.03h1.64v0.77h-1.64zM342.87 542.03h1.64v0.77h-1.64zM344.52 542.03h1.64v0.77h-1.64zM346.16 541.64h1.64v1.16h-1.64zM347.81 541.64h1.64v1.16h-1.64zM349.45 541.25h1.64v1.55h-1.64zM351.10 542.41h1.64v0.39h-1.64zM352.74 541.64h1.64v1.16h-1.64zM354.39 540.48h1.64v2.32h-1.64zM356.03 539.31h1.64v3.49h-1.64zM357.68 537.38h1.64v5.42h-1.64zM359.32 540.86h1.64v1.94h-1.64zM360.97 540.09h1.64v2.71h-1.64zM362.61 539.31h1.64v3.49h-1.64zM364.26 540.86h1.64v1.94h-1.64zM365.90 540.48h1.64v2.32h-1.64zM367.55 540.48h1.64v2.32h-1.64zM369.19 540.48h1.64v2.32h-1.64zM370.83 540.48h1.64v2.32h-1.64zM372.48 540.86h1.64v1.94h-1.64zM374.12 538.93h1.64v3.87h-1.64zM375.77 536.21h1.64v6.59h-1.64zM377.41 538.15h1.64v4.65h-1.64zM379.06 540.09h1.64v2.71h-1.64zM380.70 540.09h1.64v2.71h-1.64zM382.35 539.31h1.64v3.49h-1.64zM383.99 537.76h1.64v5.04h-1.64zM385.64 537.76h1.64v5.04h-1.64zM387.28 537.76h1.64v5.04h-1.64zM388.93 537.38h1.64v5.42h-1.64zM390.57 537.38h1.64v5.42h-1.64zM392.22 539.70h1.64v3.10h-1.64zM393.86 537.76h1.64v5.04h-1.64zM395.51 533.50h1.64v9.30h-1.64zM397.15 539.31h1.64v3.49h-1.64zM398.80 539.70h1.64v3.10h-1.64zM400.44 538.54h1.64v4.26h-1.64zM402.09 540.86h1.64v1.94h-1.64zM403.73 538.93h1.64v3.87h-1.64zM405.37 539.70h1.64v3.10h-1.64zM407.02 532.73h1.64v10.07h-1.64zM408.66 537.76h1.64v5.04h-1.64zM410.31 535.05h1.64v7.75h-1.64zM411.95 535.83h1.64v6.97h-1.64zM413.60 537.76h1.64v5.04h-1.64zM415.24 535.05h1.64v7.75h-1.64zM416.89 531.56h1.64v11.24h-1.64zM418.53 531.95h1.64v10.85h-1.64zM420.18 528.46h1.64v14.34h-1.64zM421.82 531.95h1.64v10.85h-1.64zM423.47 523.43h1.64v19.37h-1.64zM425.11 534.28h1.64v8.52h-1.64zM426.76 538.15h1.64v4.65h-1.64zM428.40 537.76h1.64v5.04h-1.64zM430.05 533.89h1.64v8.91h-1.64zM431.69 528.85h1.64v13.95h-1.64zM433.34 532.34h1.64v10.46h-1.64zM434.98 527.30h1.64v15.50h-1.64zM436.63 531.95h1.64v10.85h-1.64zM438.27 530.79h1.64v12.01h-1.64zM439.91 533.50h1.64v9.30h-1.64zM441.56 538.15h1.64v4.65h-1.64zM443.20 528.08h1.64v14.72h-1.64zM444.85 532.73h1.64v10.07h-1.64zM446.49 528.46h1.64v14.34h-1.64zM448.14 536.99h1.64v5.81h-1.64zM449.78 535.05h1.64v7.75h-1.64zM451.43 536.99h1.64v5.81h-1.64zM453.07 531.56h1.64v11.24h-1.64zM454.72 530.79h1.64v12.01h-1.64zM456.36 534.28h1.64v8.52h-1.64zM458.01 527.69h1.64v15.11h-1.64zM459.65 535.83h1.64v6.97h-1.64zM461.30 535.05h1.64v7.75h-1.64zM462.94 538.54h1.64v4.26h-1.64zM464.59 535.44h1.64v7.36h-1.64zM466.23 536.60h1.64v6.20h-1.64zM467.88 531.56h1.64v11.24h-1.64zM469.52 532.34h1.64v10.46h-1.64zM471.17 538.15h1.64v4.65h-1.64zM472.81 535.05h1.64v7.75h-1.64zM474.45 534.66h1.64v8.14h-1.64zM476.10 538.15h1.64v4.65h-1.64zM477.74 526.91h1.64v15.89h-1.64zM479.39 531.95h1.64v10.85h-1.64zM481.03 533.89h1.64v8.91h-1.64zM482.68 531.56h1.64v11.24h-1.64zM484.32 535.05h1.64v7.75h-1.64zM485.97 534.66h1.64v8.14h-1.64zM487.61 529.24h1.64v13.56h-1.64zM489.26 534.28h1.64v8.52h-1.64zM490.90 532.73h1.64v10.07h-1.64zM492.55 538.54h1.64v4.26h-1.64zM494.19 534.28h1.64v8.52h-1.64zM495.84 538.15h1.64v4.65h-1.64zM497.48 540.09h1.64v2.71h-1.64zM499.13 538.93h1.64v3.87h-1.64zM500.77 536.99h1.64v5.81h-1.64zM502.42 537.76h1.64v5.04h-1.64zM504.06 530.01h1.64v12.79h-1.64zM505.71 535.05h1.64v7.75h-1.64zM507.35 537.38h1.64v5.42h-1.64zM509.00 534.66h1.64v8.14h-1.64zM510.64 531.95h1.64v10.85h-1.64zM512.28 535.83h1.64v6.97h-1.64zM513.93 536.21h1.64v6.59h-1.64zM515.57 535.44h1.64v7.36h-1.64zM517.22 541.64h1.64v1.16h-1.64zM518.86 538.54h1.64v4.26h-1.64zM520.51 532.34h1.64v10.46h-1.64zM522.15 535.44h1.64v7.36h-1.64zM523.80 536.21h1.64v6.59h-1.64zM525.44 531.95h1.64v10.85h-1.64zM527.09 535.05h1.64v7.75h-1.64zM528.73 536.99h1.64v5.81h-1.64zM530.38 538.15h1.64v4.65h-1.64zM532.02 534.28h1.64v8.52h-1.64zM533.67 537.76h1.64v5.04h-1.64zM535.31 535.05h1.64v7.75h-1.64zM536.96 530.40h1.64v12.40h-1.64zM538.60 535.83h1.64v6.97h-1.64zM540.25 536.60h1.64v6.20h-1.64zM541.89 538.15h1.64v4.65h-1.64zM543.54 532.73h1.64v10.07h-1.64zM545.18 534.66h1.64v8.14h-1.64zM546.82 531.95h1.64v10.85h-1.64zM548.47 530.01h1.64v12.79h-1.64zM550.11 536.21h1.64v6.59h-1.64zM551.76 538.54h1.64v4.26h-1.64zM553.40 536.21h1.64v6.59h-1.64zM555.05 535.05h1.64v7.75h-1.64zM556.69 535.83h1.64v6.97h-1.64zM558.34 536.21h1.64v6.59h-1.64zM559.98 537.38h1.64v5.42h-1.64zM561.63 534.66h1.64v8.14h-1.64zM563.27 535.44h1.64v7.36h-1.64zM564.92 536.60h1.64v6.20h-1.64zM566.56 539.31h1.64v3.49h-1.64zM568.21 536.99h1.64v5.81h-1.64zM569.85 530.79h1.64v12.01h-1.64zM571.50 533.89h1.64v8.91h-1.64zM573.14 527.69h1.64v15.11h-1.64zM574.79 532.73h1.64v10.07h-1.64zM576.43 530.79h1.64v12.01h-1.64zM578.08 526.53h1.64v16.27h-1.64zM579.72 528.08h1.64v14.72h-1.64zM581.36 526.91h1.64v15.89h-1.64zM583.01 527.30h1.64v15.50h-1.64zM584.65 534.66h1.64v8.14h-1.64zM586.30 538.54h1.64v4.26h-1.64zM587.94 529.24h1.64v13.56h-1.64zM589.59 523.81h1.64v18.99h-1.64zM591.23 520.33h1.64v22.47h-1.64zM592.88 524.59h1.64v18.21h-1.64zM594.52 528.46h1.64v14.34h-1.64zM596.17 528.08h1.64v14.72h-1.64zM597.81 536.99h1.64v5.81h-1.64zM599.46 536.21h1.64v6.59h-1.64zM601.10 528.46h1.64v14.34h-1.64zM602.75 515.68h1.64v27.12h-1.64zM604.39 523.04h1.64v19.76h-1.64zM606.04 521.88h1.64v20.92h-1.64zM607.68 526.91h1.64v15.89h-1.64zM609.33 535.44h1.64v7.36h-1.64zM610.97 533.11h1.64v9.69h-1.64zM612.62 522.65h1.64v20.15h-1.64zM614.26 526.53h1.64v16.27h-1.64zM615.91 523.81h1.64v18.99h-1.64zM617.55 528.08h1.64v14.72h-1.64zM619.19 530.40h1.64v12.40h-1.64zM620.84 535.83h1.64v6.97h-1.64zM622.48 530.40h1.64v12.40h-1.64zM624.13 523.43h1.64v19.37h-1.64zM625.77 520.71h1.64v22.09h-1.64zM627.42 515.68h1.64v27.12h-1.64zM629.06 517.23h1.64v25.57h-1.64zM630.71 518.39h1.64v24.41h-1.64zM632.35 529.63h1.64v13.17h-1.64zM634.00 533.50h1.64v9.30h-1.64zM635.64 524.98h1.64v17.82h-1.64zM637.29 516.45h1.64v26.35h-1.64zM638.93 510.64h1.64v32.16h-1.64zM640.58 519.16h1.64v23.64h-1.64zM642.22 509.09h1.64v33.71h-1.64zM643.87 514.51h1.64v28.29h-1.64zM645.51 513.35h1.64v29.45h-1.64zM647.16 507.93h1.64v34.87h-1.64zM648.80 512.58h1.64v30.22h-1.64zM650.45 488.94h1.64v53.86h-1.64zM652.09 493.20h1.64v49.60h-1.64zM653.73 483.52h1.64v59.28h-1.64zM655.38 501.34h1.64v41.46h-1.64zM657.02 499.40h1.64v43.40h-1.64zM658.67 486.62h1.64v56.18h-1.64zM660.31 475.38h1.64v67.42h-1.64zM661.96 471.50h1.64v71.30h-1.64zM663.60 479.25h1.64v63.55h-1.64zM665.25 497.08h1.64v45.72h-1.64zM666.89 489.33h1.64v53.47h-1.64zM668.54 471.12h1.64v71.68h-1.64zM670.18 476.15h1.64v66.65h-1.64zM671.83 448.64h1.64v94.16h-1.64zM673.47 443.61h1.64v99.19h-1.64zM675.12 454.07h1.64v88.73h-1.64zM676.76 439.34h1.64v103.46h-1.64zM678.41 457.56h1.64v85.24h-1.64zM680.05 447.87h1.64v94.93h-1.64zM681.70 420.36h1.64v122.44h-1.64zM683.34 431.60h1.64v111.20h-1.64zM684.99 428.50h1.64v114.30h-1.64zM686.63 428.88h1.64v113.92h-1.64zM688.27 427.72h1.64v115.08h-1.64zM689.92 435.86h1.64v106.94h-1.64zM691.56 425.78h1.64v117.02h-1.64zM693.21 443.22h1.64v99.58h-1.64zM694.85 456.01h1.64v86.79h-1.64zM696.50 475.77h1.64v67.03h-1.64zM698.14 491.27h1.64v51.53h-1.64zM699.79 479.64h1.64v63.16h-1.64zM701.43 505.22h1.64v37.58h-1.64zM703.08 509.48h1.64v33.32h-1.64zM704.72 488.94h1.64v53.86h-1.64zM706.37 500.18h1.64v42.62h-1.64zM708.01 507.15h1.64v35.65h-1.64zM709.66 497.47h1.64v45.33h-1.64zM711.30 507.54h1.64v35.26h-1.64zM712.95 521.88h1.64v20.92h-1.64zM714.59 519.94h1.64v22.86h-1.64zM716.24 522.26h1.64v20.54h-1.64zM717.88 523.43h1.64v19.37h-1.64zM719.53 525.75h1.64v17.05h-1.64zM721.17 518.78h1.64v24.02h-1.64zM722.82 523.04h1.64v19.76h-1.64zM724.46 528.85h1.64v13.95h-1.64zM726.10 529.24h1.64v13.56h-1.64zM727.75 530.40h1.64v12.40h-1.64zM729.39 526.14h1.64v16.66h-1.64zM731.04 528.46h1.64v14.34h-1.64zM732.68 533.50h1.64v9.30h-1.64zM734.33 534.28h1.64v8.52h-1.64zM735.97 534.66h1.64v8.14h-1.64zM737.62 531.18h1.64v11.62h-1.64zM739.26 531.95h1.64v10.85h-1.64zM740.91 526.91h1.64v15.89h-1.64zM742.55 528.08h1.64v14.72h-1.64zM744.20 532.34h1.64v10.46h-1.64zM745.84 534.66h1.64v8.14h-1.64zM747.49 532.73h1.64v10.07h-1.64zM749.13 532.73h1.64v10.07h-1.64zM750.78 530.79h1.64v12.01h-1.64zM752.42 534.28h1.64v8.52h-1.64zM754.07 531.56h1.64v11.24h-1.64zM755.71 525.36h1.64v17.44h-1.64z"/><path fill="#fbf22b" stroke="#fbf22b" stroke-width="0.9" d="M143.86 542.03h1.64v0.77h-1.64zM194.84 542.03h1.64v0.77h-1.64zM198.13 542.41h1.64v0.39h-1.64zM214.58 542.41h1.64v0.39h-1.64zM216.23 542.41h1.64v0.39h-1.64zM217.87 542.41h1.64v0.39h-1.64zM221.16 542.41h1.64v0.39h-1.64zM222.81 542.03h1.64v0.77h-1.64zM224.45 542.03h1.64v0.77h-1.64zM226.09 542.03h1.64v0.77h-1.64zM227.74 542.03h1.64v0.77h-1.64zM229.38 542.41h1.64v0.39h-1.64zM231.03 542.41h1.64v0.39h-1.64zM234.32 542.41h1.64v0.39h-1.64zM235.96 542.03h1.64v0.77h-1.64zM237.61 542.41h1.64v0.39h-1.64zM239.25 542.03h1.64v0.77h-1.64zM240.90 542.41h1.64v0.39h-1.64zM242.54 542.41h1.64v0.39h-1.64zM244.19 542.41h1.64v0.39h-1.64zM245.83 542.41h1.64v0.39h-1.64zM247.48 542.41h1.64v0.39h-1.64zM249.12 542.41h1.64v0.39h-1.64zM255.70 542.41h1.64v0.39h-1.64zM258.99 542.41h1.64v0.39h-1.64zM260.64 542.41h1.64v0.39h-1.64zM278.73 542.41h1.64v0.39h-1.64zM280.37 542.41h1.64v0.39h-1.64zM283.66 542.41h1.64v0.39h-1.64zM288.60 542.41h1.64v0.39h-1.64zM291.89 542.41h1.64v0.39h-1.64zM293.53 542.41h1.64v0.39h-1.64zM296.82 542.41h1.64v0.39h-1.64zM301.75 542.41h1.64v0.39h-1.64zM313.27 542.41h1.64v0.39h-1.64zM314.91 542.41h1.64v0.39h-1.64zM318.20 542.41h1.64v0.39h-1.64zM326.43 542.41h1.64v0.39h-1.64zM331.36 542.41h1.64v0.39h-1.64zM346.16 542.41h1.64v0.39h-1.64zM347.81 542.41h1.64v0.39h-1.64zM349.45 542.41h1.64v0.39h-1.64zM352.74 542.41h1.64v0.39h-1.64zM354.39 542.03h1.64v0.77h-1.64zM356.03 541.64h1.64v1.16h-1.64zM357.68 541.25h1.64v1.55h-1.64zM359.32 542.03h1.64v0.77h-1.64zM360.97 542.03h1.64v0.77h-1.64zM362.61 541.25h1.64v1.55h-1.64zM364.26 542.03h1.64v0.77h-1.64zM365.90 542.03h1.64v0.77h-1.64zM367.55 542.03h1.64v0.77h-1.64zM369.19 542.03h1.64v0.77h-1.64zM370.83 542.03h1.64v0.77h-1.64zM372.48 542.03h1.64v0.77h-1.64zM374.12 541.64h1.64v1.16h-1.64zM375.77 540.86h1.64v1.94h-1.64zM377.41 541.64h1.64v1.16h-1.64zM379.06 542.03h1.64v0.77h-1.64zM380.70 542.03h1.64v0.77h-1.64zM382.35 542.03h1.64v0.77h-1.64zM383.99 541.64h1.64v1.16h-1.64zM385.64 542.03h1.64v0.77h-1.64zM387.28 540.86h1.64v1.94h-1.64zM388.93 541.64h1.64v1.16h-1.64zM390.57 541.25h1.64v1.55h-1.64zM392.22 542.03h1.64v0.77h-1.64zM393.86 541.25h1.64v1.55h-1.64zM395.51 540.09h1.64v2.71h-1.64zM397.15 542.03h1.64v0.77h-1.64zM398.80 542.03h1.64v0.77h-1.64zM400.44 541.64h1.64v1.16h-1.64zM402.09 542.03h1.64v0.77h-1.64zM403.73 541.64h1.64v1.16h-1.64zM405.37 542.03h1.64v0.77h-1.64zM407.02 540.09h1.64v2.71h-1.64zM408.66 541.64h1.64v1.16h-1.64zM410.31 540.48h1.64v2.32h-1.64zM411.95 540.86h1.64v1.94h-1.64zM413.60 540.86h1.64v1.94h-1.64zM415.24 540.86h1.64v1.94h-1.64zM416.89 539.31h1.64v3.49h-1.64zM418.53 540.09h1.64v2.71h-1.64zM420.18 538.54h1.64v4.26h-1.64zM421.82 538.93h1.64v3.87h-1.64zM423.47 538.54h1.64v4.26h-1.64zM425.11 539.70h1.64v3.10h-1.64zM426.76 541.64h1.64v1.16h-1.64zM428.40 541.25h1.64v1.55h-1.64zM430.05 539.70h1.64v3.10h-1.64zM431.69 538.15h1.64v4.65h-1.64zM433.34 539.70h1.64v3.10h-1.64zM434.98 538.54h1.64v4.26h-1.64zM436.63 539.70h1.64v3.10h-1.64zM438.27 539.31h1.64v3.49h-1.64zM439.91 540.48h1.64v2.32h-1.64zM441.56 541.64h1.64v1.16h-1.64zM443.20 538.15h1.64v4.65h-1.64zM444.85 540.86h1.64v1.94h-1.64zM446.49 538.15h1.64v4.65h-1.64zM448.14 541.25h1.64v1.55h-1.64zM449.78 540.48h1.64v2.32h-1.64zM451.43 541.25h1.64v1.55h-1.64zM453.07 540.09h1.64v2.71h-1.64zM454.72 540.48h1.64v2.32h-1.64zM456.36 540.48h1.64v2.32h-1.64zM458.01 538.93h1.64v3.87h-1.64zM459.65 541.25h1.64v1.55h-1.64zM461.30 540.48h1.64v2.32h-1.64zM462.94 541.64h1.64v1.16h-1.64zM464.59 541.25h1.64v1.55h-1.64zM466.23 541.64h1.64v1.16h-1.64zM467.88 538.93h1.64v3.87h-1.64zM469.52 540.48h1.64v2.32h-1.64zM471.17 542.03h1.64v0.77h-1.64zM472.81 540.48h1.64v2.32h-1.64zM474.45 540.48h1.64v2.32h-1.64zM476.10 541.25h1.64v1.55h-1.64zM477.74 538.54h1.64v4.26h-1.64zM479.39 540.09h1.64v2.71h-1.64zM481.03 540.48h1.64v2.32h-1.64zM482.68 539.31h1.64v3.49h-1.64zM484.32 540.86h1.64v1.94h-1.64zM485.97 540.86h1.64v1.94h-1.64zM487.61 539.70h1.64v3.10h-1.64zM489.26 540.48h1.64v2.32h-1.64zM490.90 540.09h1.64v2.71h-1.64zM492.55 541.64h1.64v1.16h-1.64zM494.19 540.86h1.64v1.94h-1.64zM495.84 541.64h1.64v1.16h-1.64zM497.48 542.03h1.64v0.77h-1.64zM499.13 541.64h1.64v1.16h-1.64zM500.77 541.25h1.64v1.55h-1.64zM502.42 541.64h1.64v1.16h-1.64zM504.06 539.70h1.64v3.10h-1.64zM505.71 540.48h1.64v2.32h-1.64zM507.35 541.64h1.64v1.16h-1.64zM509.00 540.48h1.64v2.32h-1.64zM510.64 539.70h1.64v3.10h-1.64zM512.28 540.48h1.64v2.32h-1.64zM513.93 540.86h1.64v1.94h-1.64zM515.57 541.25h1.64v1.55h-1.64zM517.22 542.41h1.64v0.39h-1.64zM518.86 541.64h1.64v1.16h-1.64zM520.51 540.48h1.64v2.32h-1.64zM522.15 540.48h1.64v2.32h-1.64zM523.80 541.25h1.64v1.55h-1.64zM525.44 539.70h1.64v3.10h-1.64zM527.09 540.09h1.64v2.71h-1.64zM528.73 541.64h1.64v1.16h-1.64zM530.38 541.64h1.64v1.16h-1.64zM532.02 540.09h1.64v2.71h-1.64zM533.67 541.64h1.64v1.16h-1.64zM535.31 540.09h1.64v2.71h-1.64zM536.96 540.09h1.64v2.71h-1.64zM538.60 540.48h1.64v2.32h-1.64zM540.25 540.86h1.64v1.94h-1.64zM541.89 540.86h1.64v1.94h-1.64zM543.54 539.70h1.64v3.10h-1.64zM545.18 540.48h1.64v2.32h-1.64zM546.82 539.70h1.64v3.10h-1.64zM548.47 539.70h1.64v3.10h-1.64zM550.11 540.86h1.64v1.94h-1.64zM551.76 541.64h1.64v1.16h-1.64zM553.40 541.25h1.64v1.55h-1.64zM555.05 540.09h1.64v2.71h-1.64zM556.69 540.86h1.64v1.94h-1.64zM558.34 540.86h1.64v1.94h-1.64zM559.98 541.25h1.64v1.55h-1.64zM561.63 541.64h1.64v1.16h-1.64zM563.27 540.48h1.64v2.32h-1.64zM564.92 540.86h1.64v1.94h-1.64zM566.56 541.64h1.64v1.16h-1.64zM568.21 541.25h1.64v1.55h-1.64zM569.85 538.54h1.64v4.26h-1.64zM571.50 540.86h1.64v1.94h-1.64zM573.14 538.15h1.64v4.65h-1.64zM574.79 539.70h1.64v3.10h-1.64zM576.43 538.93h1.64v3.87h-1.64zM578.08 537.38h1.64v5.42h-1.64zM579.72 538.54h1.64v4.26h-1.64zM581.36 538.54h1.64v4.26h-1.64zM583.01 539.31h1.64v3.49h-1.64zM584.65 540.09h1.64v2.71h-1.64zM586.30 541.25h1.64v1.55h-1.64zM587.94 538.54h1.64v4.26h-1.64zM589.59 537.76h1.64v5.04h-1.64zM591.23 536.60h1.64v6.20h-1.64zM592.88 537.38h1.64v5.42h-1.64zM594.52 538.93h1.64v3.87h-1.64zM596.17 537.76h1.64v5.04h-1.64zM597.81 540.09h1.64v2.71h-1.64zM599.46 540.09h1.64v2.71h-1.64zM601.10 538.54h1.64v4.26h-1.64zM602.75 535.05h1.64v7.75h-1.64zM604.39 535.05h1.64v7.75h-1.64zM606.04 533.11h1.64v9.69h-1.64zM607.68 536.99h1.64v5.81h-1.64zM609.33 540.48h1.64v2.32h-1.64zM610.97 539.31h1.64v3.49h-1.64zM612.62 535.83h1.64v6.97h-1.64zM614.26 535.44h1.64v7.36h-1.64zM615.91 535.05h1.64v7.75h-1.64zM617.55 536.21h1.64v6.59h-1.64zM619.19 539.31h1.64v3.49h-1.64zM620.84 540.86h1.64v1.94h-1.64zM622.48 537.76h1.64v5.04h-1.64zM624.13 536.99h1.64v5.81h-1.64zM625.77 535.44h1.64v7.36h-1.64zM627.42 534.66h1.64v8.14h-1.64zM629.06 533.89h1.64v8.91h-1.64zM630.71 534.28h1.64v8.52h-1.64zM632.35 538.15h1.64v4.65h-1.64zM634.00 539.31h1.64v3.49h-1.64zM635.64 536.99h1.64v5.81h-1.64zM637.29 533.89h1.64v8.91h-1.64zM638.93 531.18h1.64v11.62h-1.64zM640.58 535.83h1.64v6.97h-1.64zM642.22 531.18h1.64v11.62h-1.64zM643.87 533.50h1.64v9.30h-1.64zM645.51 532.34h1.64v10.46h-1.64zM647.16 531.18h1.64v11.62h-1.64zM648.80 531.56h1.64v11.24h-1.64zM650.45 529.24h1.64v13.56h-1.64zM652.09 528.85h1.64v13.95h-1.64zM653.73 527.69h1.64v15.11h-1.64zM655.38 531.18h1.64v11.62h-1.64zM657.02 528.85h1.64v13.95h-1.64zM658.67 526.91h1.64v15.89h-1.64zM660.31 531.18h1.64v11.62h-1.64zM661.96 520.33h1.64v22.47h-1.64zM663.60 528.46h1.64v14.34h-1.64zM665.25 524.98h1.64v17.82h-1.64zM666.89 523.04h1.64v19.76h-1.64zM668.54 521.49h1.64v21.31h-1.64zM670.18 521.10h1.64v21.70h-1.64zM671.83 517.61h1.64v25.19h-1.64zM673.47 513.35h1.64v29.45h-1.64zM675.12 511.41h1.64v31.39h-1.64zM676.76 508.70h1.64v34.10h-1.64zM678.41 518.78h1.64v24.02h-1.64zM680.05 514.13h1.64v28.67h-1.64zM681.70 516.84h1.64v25.96h-1.64zM683.34 520.71h1.64v22.09h-1.64zM684.99 514.51h1.64v28.29h-1.64zM686.63 510.25h1.64v32.55h-1.64zM688.27 506.76h1.64v36.04h-1.64zM689.92 508.70h1.64v34.10h-1.64zM691.56 512.19h1.64v30.61h-1.64zM693.21 516.06h1.64v26.74h-1.64zM694.85 514.51h1.64v28.29h-1.64zM696.50 518.00h1.64v24.80h-1.64zM698.14 520.71h1.64v22.09h-1.64zM699.79 516.84h1.64v25.96h-1.64zM701.43 526.53h1.64v16.27h-1.64zM703.08 530.40h1.64v12.40h-1.64zM704.72 524.59h1.64v18.21h-1.64zM706.37 531.95h1.64v10.85h-1.64zM708.01 530.40h1.64v12.40h-1.64zM709.66 527.30h1.64v15.50h-1.64zM711.30 528.85h1.64v13.95h-1.64zM712.95 534.28h1.64v8.52h-1.64zM714.59 533.11h1.64v9.69h-1.64zM716.24 534.28h1.64v8.52h-1.64zM717.88 533.89h1.64v8.91h-1.64zM719.53 535.05h1.64v7.75h-1.64zM721.17 532.73h1.64v10.07h-1.64zM722.82 533.89h1.64v8.91h-1.64zM724.46 536.60h1.64v6.20h-1.64zM726.10 537.76h1.64v5.04h-1.64zM727.75 537.38h1.64v5.42h-1.64zM729.39 538.54h1.64v4.26h-1.64zM731.04 536.99h1.64v5.81h-1.64zM732.68 539.70h1.64v3.10h-1.64zM734.33 538.15h1.64v4.65h-1.64zM735.97 539.31h1.64v3.49h-1.64zM737.62 537.38h1.64v5.42h-1.64zM739.26 538.54h1.64v4.26h-1.64zM740.91 537.38h1.64v5.42h-1.64zM742.55 537.38h1.64v5.42h-1.64zM744.20 538.15h1.64v4.65h-1.64zM745.84 538.93h1.64v3.87h-1.64zM747.49 538.54h1.64v4.26h-1.64zM749.13 538.54h1.64v4.26h-1.64zM750.78 539.70h1.64v3.10h-1.64zM752.42 539.70h1.64v3.10h-1.64zM754.07 538.15h1.64v4.65h-1.64zM755.71 534.66h1.64v8.14h-1.64z"/><path fill="#fec026" stroke="#fec026" stroke-width="0.9" d="M171.82 542.03h1.64v0.77h-1.64zM189.91 542.41h1.64v0.39h-1.64zM194.84 542.41h1.64v0.39h-1.64zM222.81 542.41h1.64v0.39h-1.64zM224.45 542.41h1.64v0.39h-1.64zM226.09 542.41h1.64v0.39h-1.64zM227.74 542.41h1.64v0.39h-1.64zM235.96 542.41h1.64v0.39h-1.64zM239.25 542.41h1.64v0.39h-1.64zM354.39 542.41h1.64v0.39h-1.64zM356.03 542.41h1.64v0.39h-1.64zM357.68 542.41h1.64v0.39h-1.64zM359.32 542.41h1.64v0.39h-1.64zM360.97 542.41h1.64v0.39h-1.64zM362.61 542.41h1.64v0.39h-1.64zM364.26 542.41h1.64v0.39h-1.64zM365.90 542.41h1.64v0.39h-1.64zM367.55 542.41h1.64v0.39h-1.64zM369.19 542.41h1.64v0.39h-1.64zM370.83 542.41h1.64v0.39h-1.64zM372.48 542.41h1.64v0.39h-1.64zM374.12 542.41h1.64v0.39h-1.64zM375.77 542.03h1.64v0.77h-1.64zM377.41 542.41h1.64v0.39h-1.64zM379.06 542.41h1.64v0.39h-1.64zM380.70 542.41h1.64v0.39h-1.64zM382.35 542.41h1.64v0.39h-1.64zM383.99 542.41h1.64v0.39h-1.64zM385.64 542.41h1.64v0.39h-1.64zM387.28 542.41h1.64v0.39h-1.64zM388.93 542.41h1.64v0.39h-1.64zM390.57 542.03h1.64v0.77h-1.64zM392.22 542.41h1.64v0.39h-1.64zM393.86 542.41h1.64v0.39h-1.64zM395.51 542.03h1.64v0.77h-1.64zM397.15 542.41h1.64v0.39h-1.64zM398.80 542.41h1.64v0.39h-1.64zM400.44 542.41h1.64v0.39h-1.64zM402.09 542.41h1.64v0.39h-1.64zM403.73 542.41h1.64v0.39h-1.64zM405.37 542.41h1.64v0.39h-1.64zM407.02 541.64h1.64v1.16h-1.64zM408.66 542.41h1.64v0.39h-1.64zM410.31 541.64h1.64v1.16h-1.64zM411.95 542.03h1.64v0.77h-1.64zM413.60 542.03h1.64v0.77h-1.64zM415.24 542.03h1.64v0.77h-1.64zM416.89 541.25h1.64v1.55h-1.64zM418.53 541.64h1.64v1.16h-1.64zM420.18 541.25h1.64v1.55h-1.64zM421.82 541.64h1.64v1.16h-1.64zM423.47 541.25h1.64v1.55h-1.64zM425.11 542.03h1.64v0.77h-1.64zM426.76 542.41h1.64v0.39h-1.64zM428.40 542.03h1.64v0.77h-1.64zM430.05 541.64h1.64v1.16h-1.64zM431.69 540.86h1.64v1.94h-1.64zM433.34 541.64h1.64v1.16h-1.64zM434.98 540.86h1.64v1.94h-1.64zM436.63 541.64h1.64v1.16h-1.64zM438.27 540.86h1.64v1.94h-1.64zM439.91 542.03h1.64v0.77h-1.64zM441.56 542.41h1.64v0.39h-1.64zM443.20 541.64h1.64v1.16h-1.64zM444.85 542.03h1.64v0.77h-1.64zM446.49 540.86h1.64v1.94h-1.64zM448.14 542.41h1.64v0.39h-1.64zM449.78 542.03h1.64v0.77h-1.64zM451.43 542.03h1.64v0.77h-1.64zM453.07 541.64h1.64v1.16h-1.64zM454.72 541.64h1.64v1.16h-1.64zM456.36 541.64h1.64v1.16h-1.64zM458.01 541.64h1.64v1.16h-1.64zM459.65 542.03h1.64v0.77h-1.64zM461.30 541.64h1.64v1.16h-1.64zM462.94 542.41h1.64v0.39h-1.64zM464.59 542.03h1.64v0.77h-1.64zM466.23 542.41h1.64v0.39h-1.64zM467.88 541.64h1.64v1.16h-1.64zM469.52 542.03h1.64v0.77h-1.64zM471.17 542.41h1.64v0.39h-1.64zM472.81 542.03h1.64v0.77h-1.64zM474.45 542.03h1.64v0.77h-1.64zM476.10 542.41h1.64v0.39h-1.64zM477.74 541.25h1.64v1.55h-1.64zM479.39 541.64h1.64v1.16h-1.64zM481.03 542.03h1.64v0.77h-1.64zM482.68 541.64h1.64v1.16h-1.64zM484.32 542.03h1.64v0.77h-1.64zM485.97 542.03h1.64v0.77h-1.64zM487.61 541.64h1.64v1.16h-1.64zM489.26 542.03h1.64v0.77h-1.64zM490.90 542.03h1.64v0.77h-1.64zM492.55 542.41h1.64v0.39h-1.64zM494.19 542.03h1.64v0.77h-1.64zM495.84 542.41h1.64v0.39h-1.64zM497.48 542.41h1.64v0.39h-1.64zM499.13 542.41h1.64v0.39h-1.64zM500.77 542.41h1.64v0.39h-1.64zM502.42 542.41h1.64v0.39h-1.64zM504.06 542.03h1.64v0.77h-1.64zM505.71 542.03h1.64v0.77h-1.64zM507.35 542.41h1.64v0.39h-1.64zM509.00 541.64h1.64v1.16h-1.64zM510.64 541.25h1.64v1.55h-1.64zM512.28 542.03h1.64v0.77h-1.64zM513.93 542.03h1.64v0.77h-1.64zM515.57 542.03h1.64v0.77h-1.64zM518.86 542.41h1.64v0.39h-1.64zM520.51 542.03h1.64v0.77h-1.64zM522.15 542.03h1.64v0.77h-1.64zM523.80 542.03h1.64v0.77h-1.64zM525.44 541.64h1.64v1.16h-1.64zM527.09 542.03h1.64v0.77h-1.64zM528.73 542.41h1.64v0.39h-1.64zM530.38 542.41h1.64v0.39h-1.64zM532.02 541.64h1.64v1.16h-1.64zM533.67 542.41h1.64v0.39h-1.64zM535.31 542.03h1.64v0.77h-1.64zM536.96 542.03h1.64v0.77h-1.64zM538.60 542.03h1.64v0.77h-1.64zM540.25 542.41h1.64v0.39h-1.64zM541.89 542.03h1.64v0.77h-1.64zM543.54 541.64h1.64v1.16h-1.64zM545.18 542.03h1.64v0.77h-1.64zM546.82 541.64h1.64v1.16h-1.64zM548.47 541.64h1.64v1.16h-1.64zM550.11 542.41h1.64v0.39h-1.64zM551.76 542.41h1.64v0.39h-1.64zM553.40 542.41h1.64v0.39h-1.64zM555.05 541.64h1.64v1.16h-1.64zM556.69 542.03h1.64v0.77h-1.64zM558.34 542.03h1.64v0.77h-1.64zM559.98 542.41h1.64v0.39h-1.64zM561.63 542.41h1.64v0.39h-1.64zM563.27 542.03h1.64v0.77h-1.64zM564.92 542.41h1.64v0.39h-1.64zM566.56 542.41h1.64v0.39h-1.64zM568.21 542.41h1.64v0.39h-1.64zM569.85 541.64h1.64v1.16h-1.64zM571.50 542.03h1.64v0.77h-1.64zM573.14 540.86h1.64v1.94h-1.64zM574.79 541.64h1.64v1.16h-1.64zM576.43 541.64h1.64v1.16h-1.64zM578.08 540.86h1.64v1.94h-1.64zM579.72 541.64h1.64v1.16h-1.64zM581.36 541.25h1.64v1.55h-1.64zM583.01 541.64h1.64v1.16h-1.64zM584.65 542.03h1.64v0.77h-1.64zM586.30 542.41h1.64v0.39h-1.64zM587.94 541.25h1.64v1.55h-1.64zM589.59 540.86h1.64v1.94h-1.64zM591.23 540.48h1.64v2.32h-1.64zM592.88 540.86h1.64v1.94h-1.64zM594.52 541.25h1.64v1.55h-1.64zM596.17 541.64h1.64v1.16h-1.64zM597.81 541.64h1.64v1.16h-1.64zM599.46 542.03h1.64v0.77h-1.64zM601.10 541.25h1.64v1.55h-1.64zM602.75 540.48h1.64v2.32h-1.64zM604.39 539.70h1.64v3.10h-1.64zM606.04 540.48h1.64v2.32h-1.64zM607.68 541.64h1.64v1.16h-1.64zM609.33 542.03h1.64v0.77h-1.64zM610.97 541.64h1.64v1.16h-1.64zM612.62 540.09h1.64v2.71h-1.64zM614.26 539.70h1.64v3.10h-1.64zM615.91 539.70h1.64v3.10h-1.64zM617.55 541.25h1.64v1.55h-1.64zM619.19 541.64h1.64v1.16h-1.64zM620.84 542.03h1.64v0.77h-1.64zM622.48 540.86h1.64v1.94h-1.64zM624.13 541.25h1.64v1.55h-1.64zM625.77 539.70h1.64v3.10h-1.64zM627.42 540.86h1.64v1.94h-1.64zM629.06 539.70h1.64v3.10h-1.64zM630.71 540.48h1.64v2.32h-1.64zM632.35 540.86h1.64v1.94h-1.64zM634.00 541.64h1.64v1.16h-1.64zM635.64 540.86h1.64v1.94h-1.64zM637.29 539.70h1.64v3.10h-1.64zM638.93 539.31h1.64v3.49h-1.64zM640.58 540.09h1.64v2.71h-1.64zM642.22 539.31h1.64v3.49h-1.64zM643.87 540.48h1.64v2.32h-1.64zM645.51 539.70h1.64v3.10h-1.64zM647.16 538.93h1.64v3.87h-1.64zM648.80 539.70h1.64v3.10h-1.64zM650.45 538.93h1.64v3.87h-1.64zM652.09 538.15h1.64v4.65h-1.64zM653.73 538.54h1.64v4.26h-1.64zM655.38 539.31h1.64v3.49h-1.64zM657.02 539.70h1.64v3.10h-1.64zM658.67 536.21h1.64v6.59h-1.64zM660.31 538.93h1.64v3.87h-1.64zM661.96 537.38h1.64v5.42h-1.64zM663.60 538.54h1.64v4.26h-1.64zM665.25 538.93h1.64v3.87h-1.64zM666.89 537.76h1.64v5.04h-1.64zM668.54 536.60h1.64v6.20h-1.64zM670.18 536.60h1.64v6.20h-1.64zM671.83 533.50h1.64v9.30h-1.64zM673.47 536.99h1.64v5.81h-1.64zM675.12 533.89h1.64v8.91h-1.64zM676.76 533.89h1.64v8.91h-1.64zM678.41 537.38h1.64v5.42h-1.64zM680.05 534.28h1.64v8.52h-1.64zM681.70 535.44h1.64v7.36h-1.64zM683.34 536.99h1.64v5.81h-1.64zM684.99 533.89h1.64v8.91h-1.64zM686.63 535.44h1.64v7.36h-1.64zM688.27 534.66h1.64v8.14h-1.64zM689.92 534.66h1.64v8.14h-1.64zM691.56 530.40h1.64v12.40h-1.64zM693.21 533.50h1.64v9.30h-1.64zM694.85 536.21h1.64v6.59h-1.64zM696.50 533.89h1.64v8.91h-1.64zM698.14 535.05h1.64v7.75h-1.64zM699.79 533.89h1.64v8.91h-1.64zM701.43 537.38h1.64v5.42h-1.64zM703.08 538.54h1.64v4.26h-1.64zM704.72 535.44h1.64v7.36h-1.64zM706.37 538.54h1.64v4.26h-1.64zM708.01 538.15h1.64v4.65h-1.64zM709.66 536.99h1.64v5.81h-1.64zM711.30 538.15h1.64v4.65h-1.64zM712.95 539.70h1.64v3.10h-1.64zM714.59 539.70h1.64v3.10h-1.64zM716.24 538.93h1.64v3.87h-1.64zM717.88 539.70h1.64v3.10h-1.64zM719.53 538.93h1.64v3.87h-1.64zM721.17 538.93h1.64v3.87h-1.64zM722.82 539.31h1.64v3.49h-1.64zM724.46 539.70h1.64v3.10h-1.64zM726.10 540.48h1.64v2.32h-1.64zM727.75 540.48h1.64v2.32h-1.64zM729.39 541.25h1.64v1.55h-1.64zM731.04 540.86h1.64v1.94h-1.64zM732.68 541.64h1.64v1.16h-1.64zM734.33 541.25h1.64v1.55h-1.64zM735.97 541.25h1.64v1.55h-1.64zM737.62 541.25h1.64v1.55h-1.64zM739.26 541.25h1.64v1.55h-1.64zM740.91 540.48h1.64v2.32h-1.64zM742.55 540.86h1.64v1.94h-1.64zM744.20 541.25h1.64v1.55h-1.64zM745.84 541.25h1.64v1.55h-1.64zM747.49 541.64h1.64v1.16h-1.64zM749.13 541.25h1.64v1.55h-1.64zM750.78 541.25h1.64v1.55h-1.64zM752.42 542.03h1.64v0.77h-1.64zM754.07 540.86h1.64v1.94h-1.64zM755.71 540.09h1.64v2.71h-1.64z"/><path fill="#322f3e" d="M125.34 541h1.85v1h-1.85zM127.63 541h1.20v1h-1.20zM129.28 541h1.85v1h-1.85zM134.21 541h1.20v1h-1.20zM135.85 541h1.85v1h-1.85zM135.85 540h1.85v1h-1.85zM142.43 541h1.20v1h-1.20zM144.08 541h1.20v1h-1.20zM144.08 540h1.20v1h-1.20zM145.72 541h1.20v1h-1.20zM147.37 541h1.20v1h-1.20zM147.37 540h1.85v1h-1.85zM146.72 539h2.50v1h-2.50zM152.30 541h1.20v1h-1.20zM153.95 541h1.20v1h-1.20zM153.95 540h1.20v1h-1.20zM155.59 541h1.20v1h-1.20zM155.59 540h1.85v1h-1.85zM158.88 541h1.20v1h-1.20zM160.53 541h1.20v1h-1.20zM162.17 541h1.20v1h-1.20zM165.46 541h1.20v1h-1.20zM167.11 541h1.20v1h-1.20zM167.11 540h1.20v1h-1.20zM168.75 540h1.85v1h-1.85zM168.75 539h1.85v1h-1.85zM172.04 541h1.20v1h-1.20zM176.97 541h1.85v1h-1.85zM176.32 539h2.50v1h-2.50zM179.61 541h1.85v1h-1.85zM179.61 540h1.85v1h-1.85zM179.61 539h1.85v1h-1.85zM181.91 541h1.20v1h-1.20zM181.91 540h1.20v1h-1.20zM181.91 539h1.20v1h-1.20zM183.55 541h1.20v1h-1.20zM183.55 541h1.20v1h-1.20zM183.55 540h1.20v1h-1.20zM185.20 541h1.20v1h-1.20zM185.20 540h1.85v1h-1.85zM186.84 541h1.20v1h-1.20zM188.49 541h1.20v1h-1.20zM188.49 541h1.20v1h-1.20zM188.49 541h1.20v1h-1.20zM188.49 540h1.20v1h-1.20zM187.84 540h1.85v1h-1.85zM187.84 539h1.85v1h-1.85zM190.13 541h1.20v1h-1.20zM190.13 541h1.20v1h-1.20zM190.13 541h1.20v1h-1.20zM191.78 541h1.20v1h-1.20zM191.78 541h1.20v1h-1.20zM191.78 540h1.20v1h-1.20zM191.78 540h1.20v1h-1.20zM191.78 539h1.20v1h-1.20zM191.13 539h1.85v1h-1.85zM193.42 541h1.20v1h-1.20zM193.42 541h1.20v1h-1.20zM193.42 541h1.20v1h-1.20zM193.42 540h1.20v1h-1.20zM193.42 540h1.20v1h-1.20zM193.42 539h1.20v1h-1.20zM195.07 541h1.20v1h-1.20zM195.07 541h1.20v1h-1.20zM195.07 540h1.20v1h-1.20zM196.71 541h1.20v1h-1.20zM196.71 541h1.20v1h-1.20zM196.71 540h1.20v1h-1.20zM198.36 541h1.20v1h-1.20zM198.36 541h1.20v1h-1.20zM198.36 541h1.20v1h-1.20zM198.36 540h1.20v1h-1.20zM200.00 541h1.20v1h-1.20zM200.00 541h1.20v1h-1.20zM200.00 540h1.20v1h-1.20zM201.65 541h1.20v1h-1.20zM201.65 541h1.20v1h-1.20zM201.65 541h1.20v1h-1.20zM201.65 540h1.20v1h-1.20zM201.65 539h1.20v1h-1.20zM201.00 539h1.85v1h-1.85zM203.29 541h1.20v1h-1.20zM203.29 541h1.20v1h-1.20zM203.29 540h1.20v1h-1.20zM203.29 539h1.20v1h-1.20zM203.29 539h1.20v1h-1.20zM202.64 538h2.50v1h-2.50zM204.94 541h1.20v1h-1.20zM204.94 541h1.20v1h-1.20zM204.94 541h1.20v1h-1.20zM204.94 540h1.20v1h-1.20zM204.94 540h1.20v1h-1.20zM204.94 539h1.20v1h-1.20zM204.94 539h1.20v1h-1.20zM206.58 541h1.20v1h-1.20zM206.58 540h1.20v1h-1.20zM206.58 539h1.20v1h-1.20zM206.58 539h1.20v1h-1.20zM205.93 538h1.85v1h-1.85zM205.93 538h1.85v1h-1.85zM205.93 537h1.85v1h-1.85zM208.22 541h1.20v1h-1.20zM208.22 541h1.20v1h-1.20zM208.22 540h1.20v1h-1.20zM208.22 539h1.20v1h-1.20zM208.22 538h1.20v1h-1.20zM208.22 538h1.20v1h-1.20zM209.87 541h1.20v1h-1.20zM209.87 540h1.20v1h-1.20zM209.87 539h1.20v1h-1.20zM209.87 539h1.20v1h-1.20zM209.87 538h1.20v1h-1.20zM209.87 537h1.20v1h-1.20zM209.22 537h1.85v1h-1.85zM211.51 541h1.20v1h-1.20zM211.51 540h1.20v1h-1.20zM211.51 538h1.20v1h-1.20zM211.51 537h1.20v1h-1.20zM211.51 536h1.20v1h-1.20zM210.86 536h1.85v1h-1.85zM210.86 535h1.85v1h-1.85zM213.16 541h1.20v1h-1.20zM213.16 539h1.20v1h-1.20zM213.16 538h1.20v1h-1.20zM213.16 536h1.20v1h-1.20zM212.51 534h1.85v1h-1.85zM212.51 533h2.50v1h-2.50zM212.51 531h2.50v1h-2.50zM214.80 541h1.20v1h-1.20zM214.80 540h1.20v1h-1.20zM214.80 539h1.20v1h-1.20zM214.80 538h1.20v1h-1.20zM214.80 536h1.20v1h-1.20zM214.80 535h1.20v1h-1.20zM214.80 534h1.20v1h-1.20zM214.80 534h1.85v1h-1.85zM216.45 541h1.20v1h-1.20zM216.45 541h1.20v1h-1.20zM216.45 539h1.20v1h-1.20zM216.45 538h1.20v1h-1.20zM216.45 537h1.20v1h-1.20zM216.45 536h1.20v1h-1.20zM216.45 535h1.20v1h-1.20zM216.45 534h1.20v1h-1.20zM218.09 541h1.20v1h-1.20zM218.09 540h1.20v1h-1.20zM218.09 538h1.20v1h-1.20zM218.09 537h1.20v1h-1.20zM218.09 536h1.85v1h-1.85zM218.09 534h1.85v1h-1.85zM217.44 534h2.50v1h-2.50zM217.44 533h2.50v1h-2.50zM219.74 541h1.20v1h-1.20zM219.74 540h1.20v1h-1.20zM219.74 539h1.20v1h-1.20zM219.74 539h1.20v1h-1.20zM219.74 538h1.20v1h-1.20zM219.74 538h1.20v1h-1.20zM219.74 538h1.20v1h-1.20zM221.38 541h1.20v1h-1.20zM221.38 540h1.20v1h-1.20zM221.38 538h1.20v1h-1.20zM220.73 537h1.85v1h-1.85zM220.73 535h1.85v1h-1.85zM220.73 534h1.85v1h-1.85zM220.73 533h1.85v1h-1.85zM220.73 532h1.85v1h-1.85zM223.03 541h1.20v1h-1.20zM223.03 541h1.20v1h-1.20zM223.03 537h1.20v1h-1.20zM223.03 534h1.20v1h-1.20zM222.38 530h1.85v1h-1.85zM222.38 527h1.85v1h-1.85zM222.38 524h1.85v1h-1.85zM222.38 522h2.50v1h-2.50zM222.38 520h2.50v1h-2.50zM224.67 541h1.20v1h-1.20zM224.67 541h1.20v1h-1.20zM224.67 539h1.20v1h-1.20zM224.67 537h1.20v1h-1.20zM224.67 534h1.20v1h-1.20zM224.67 531h1.20v1h-1.20zM224.67 528h1.20v1h-1.20zM224.67 526h1.20v1h-1.20zM224.67 524h1.85v1h-1.85zM226.32 541h1.20v1h-1.20zM226.32 541h1.20v1h-1.20zM226.32 539h1.20v1h-1.20zM226.32 537h1.20v1h-1.20zM226.32 534h1.20v1h-1.20zM226.32 531h1.20v1h-1.20zM226.32 530h1.20v1h-1.20zM226.32 528h1.20v1h-1.20zM226.32 526h1.20v1h-1.20zM227.96 541h1.20v1h-1.20zM227.96 541h1.20v1h-1.20zM227.96 538h1.20v1h-1.20zM227.96 534h1.20v1h-1.20zM227.96 530h1.85v1h-1.85zM227.96 526h1.85v1h-1.85zM227.31 521h2.50v1h-2.50zM227.31 517h2.50v1h-2.50zM227.31 515h2.50v1h-2.50zM227.31 513h2.50v1h-2.50zM229.61 541h1.20v1h-1.20zM229.61 539h1.20v1h-1.20zM229.61 538h1.20v1h-1.20zM229.61 536h1.20v1h-1.20zM229.61 535h1.20v1h-1.20zM229.61 533h1.85v1h-1.85zM229.61 532h1.85v1h-1.85zM229.61 531h1.85v1h-1.85zM231.25 541h1.20v1h-1.20zM231.25 541h1.20v1h-1.20zM231.25 540h1.20v1h-1.20zM231.25 539h1.20v1h-1.20zM231.25 538h1.20v1h-1.20zM231.25 537h1.20v1h-1.20zM231.25 536h1.20v1h-1.20zM231.25 535h1.20v1h-1.20zM232.90 541h1.20v1h-1.20zM232.90 539h1.20v1h-1.20zM232.90 538h1.20v1h-1.20zM232.90 537h1.20v1h-1.20zM232.90 536h1.20v1h-1.20zM232.90 534h1.20v1h-1.20zM232.25 534h1.85v1h-1.85zM234.54 541h1.20v1h-1.20zM234.54 540h1.20v1h-1.20zM234.54 538h1.20v1h-1.20zM234.54 537h1.20v1h-1.20zM234.54 535h1.20v1h-1.20zM234.54 534h1.20v1h-1.20zM233.89 533h1.85v1h-1.85zM233.89 532h1.85v1h-1.85zM236.19 541h1.20v1h-1.20zM236.19 541h1.20v1h-1.20zM236.19 539h1.20v1h-1.20zM236.19 536h1.20v1h-1.20zM236.19 533h1.20v1h-1.20zM235.54 529h1.85v1h-1.85zM235.54 527h1.85v1h-1.85zM235.54 525h1.85v1h-1.85zM235.54 522h2.50v1h-2.50zM237.83 541h1.20v1h-1.20zM237.83 539h1.20v1h-1.20zM237.83 536h1.20v1h-1.20zM237.83 534h1.20v1h-1.20zM237.83 531h1.20v1h-1.20zM237.83 529h1.20v1h-1.20zM237.83 527h1.85v1h-1.85zM237.83 525h1.85v1h-1.85zM237.83 524h1.85v1h-1.85zM239.48 541h1.20v1h-1.20zM239.48 541h1.20v1h-1.20zM239.48 540h1.20v1h-1.20zM239.48 538h1.20v1h-1.20zM239.48 535h1.20v1h-1.20zM239.48 533h1.20v1h-1.20zM239.48 532h1.20v1h-1.20zM239.48 530h1.85v1h-1.85zM239.48 528h1.85v1h-1.85zM241.12 541h1.20v1h-1.20zM241.12 540h1.20v1h-1.20zM241.12 539h1.20v1h-1.20zM241.12 538h1.20v1h-1.20zM241.12 536h1.20v1h-1.20zM241.12 534h1.20v1h-1.20zM241.12 533h1.85v1h-1.85zM241.12 531h1.85v1h-1.85zM242.76 541h1.20v1h-1.20zM242.76 541h1.20v1h-1.20zM242.76 540h1.20v1h-1.20zM242.76 539h1.20v1h-1.20zM242.76 537h1.20v1h-1.20zM242.76 536h1.20v1h-1.20zM242.76 535h1.20v1h-1.20zM242.76 534h1.20v1h-1.20zM244.41 541h1.20v1h-1.20zM244.41 540h1.20v1h-1.20zM244.41 539h1.20v1h-1.20zM244.41 538h1.20v1h-1.20zM244.41 536h1.20v1h-1.20zM244.41 535h1.20v1h-1.20zM244.41 534h1.20v1h-1.20zM243.76 533h1.85v1h-1.85zM246.05 541h1.20v1h-1.20zM246.05 540h1.20v1h-1.20zM246.05 539h1.20v1h-1.20zM246.05 538h1.20v1h-1.20zM246.05 535h1.20v1h-1.20zM246.05 534h1.20v1h-1.20zM246.05 533h1.20v1h-1.20zM245.40 531h1.85v1h-1.85zM247.70 541h1.20v1h-1.20zM247.70 540h1.20v1h-1.20zM247.70 538h1.20v1h-1.20zM247.70 536h1.20v1h-1.20zM247.70 533h1.85v1h-1.85zM247.70 531h1.85v1h-1.85zM247.05 529h2.50v1h-2.50zM247.05 528h2.50v1h-2.50zM249.34 541h1.20v1h-1.20zM249.34 541h1.20v1h-1.20zM249.34 539h1.20v1h-1.20zM249.34 538h1.20v1h-1.20zM249.34 537h1.20v1h-1.20zM249.34 536h1.20v1h-1.20zM249.34 536h1.20v1h-1.20zM249.34 535h1.20v1h-1.20zM250.99 541h1.20v1h-1.20zM250.99 539h1.20v1h-1.20zM250.99 538h1.20v1h-1.20zM250.99 536h1.20v1h-1.20zM250.99 535h1.20v1h-1.20zM250.34 534h1.85v1h-1.85zM250.34 533h2.50v1h-2.50zM252.63 541h1.20v1h-1.20zM252.63 539h1.20v1h-1.20zM252.63 538h1.20v1h-1.20zM252.63 537h1.20v1h-1.20zM252.63 536h1.20v1h-1.20zM252.63 535h1.85v1h-1.85zM252.63 534h1.85v1h-1.85zM254.28 541h1.20v1h-1.20zM254.28 540h1.20v1h-1.20zM254.28 539h1.20v1h-1.20zM254.28 538h1.20v1h-1.20zM254.28 538h1.20v1h-1.20zM254.28 537h1.20v1h-1.20zM254.28 536h1.20v1h-1.20zM255.92 541h1.20v1h-1.20zM255.92 540h1.20v1h-1.20zM255.92 539h1.20v1h-1.20zM255.92 538h1.20v1h-1.20zM255.92 536h1.20v1h-1.20zM255.27 535h1.85v1h-1.85zM255.27 534h2.50v1h-2.50zM255.27 533h2.50v1h-2.50zM257.57 541h1.20v1h-1.20zM257.57 540h1.20v1h-1.20zM257.57 539h1.20v1h-1.20zM257.57 538h1.20v1h-1.20zM257.57 537h1.20v1h-1.20zM257.57 536h1.20v1h-1.20zM257.57 535h1.20v1h-1.20zM259.21 541h1.20v1h-1.20zM259.21 541h1.20v1h-1.20zM259.21 540h1.20v1h-1.20zM259.21 539h1.20v1h-1.20zM259.21 538h1.20v1h-1.20zM259.21 536h1.20v1h-1.20zM259.21 536h1.20v1h-1.20zM259.21 535h1.20v1h-1.20zM260.86 541h1.20v1h-1.20zM260.86 540h1.20v1h-1.20zM260.86 538h1.20v1h-1.20zM260.86 536h1.20v1h-1.20zM260.21 534h1.85v1h-1.85zM260.21 532h1.85v1h-1.85zM260.21 531h1.85v1h-1.85zM260.21 529h2.50v1h-2.50zM262.50 541h1.20v1h-1.20zM262.50 539h1.20v1h-1.20zM262.50 537h1.20v1h-1.20zM262.50 535h1.20v1h-1.20zM262.50 534h1.85v1h-1.85zM262.50 533h1.85v1h-1.85zM262.50 531h1.85v1h-1.85zM264.15 541h1.20v1h-1.20zM264.15 540h1.20v1h-1.20zM264.15 539h1.20v1h-1.20zM264.15 538h1.20v1h-1.20zM264.15 536h1.20v1h-1.20zM264.15 536h1.20v1h-1.20zM264.15 534h1.85v1h-1.85zM265.79 541h1.20v1h-1.20zM265.79 540h1.20v1h-1.20zM265.79 539h1.20v1h-1.20zM265.79 538h1.20v1h-1.20zM265.79 538h1.20v1h-1.20zM265.79 536h1.85v1h-1.85zM265.79 536h1.85v1h-1.85zM267.44 541h1.20v1h-1.20zM267.44 540h1.20v1h-1.20zM267.44 539h1.20v1h-1.20zM267.44 539h1.20v1h-1.20zM267.44 538h1.20v1h-1.20zM267.44 538h1.85v1h-1.85zM267.44 537h1.85v1h-1.85zM269.08 541h1.20v1h-1.20zM269.08 541h1.20v1h-1.20zM269.08 540h1.20v1h-1.20zM269.08 539h1.20v1h-1.20zM269.08 539h1.20v1h-1.20zM269.08 539h1.20v1h-1.20zM269.08 538h1.20v1h-1.20zM270.73 541h1.20v1h-1.20zM270.73 539h1.20v1h-1.20zM270.73 538h1.20v1h-1.20zM270.08 538h2.50v1h-2.50zM270.08 537h2.50v1h-2.50zM270.08 536h2.50v1h-2.50zM270.08 535h2.50v1h-2.50zM272.37 541h1.20v1h-1.20zM272.37 541h1.20v1h-1.20zM272.37 540h1.20v1h-1.20zM272.37 539h1.20v1h-1.20zM272.37 539h1.20v1h-1.20zM272.37 539h1.20v1h-1.20zM272.37 538h1.20v1h-1.20zM274.02 541h1.20v1h-1.20zM274.02 541h1.20v1h-1.20zM274.02 540h1.20v1h-1.20zM274.02 539h1.20v1h-1.20zM274.02 539h1.20v1h-1.20zM274.02 539h1.20v1h-1.20zM274.02 538h1.20v1h-1.20zM275.66 541h1.20v1h-1.20zM275.66 541h1.20v1h-1.20zM275.66 539h1.20v1h-1.20zM275.66 539h1.20v1h-1.20zM275.66 538h1.20v1h-1.20zM275.01 538h1.85v1h-1.85zM275.01 537h1.85v1h-1.85zM277.31 541h1.20v1h-1.20zM277.31 540h1.20v1h-1.20zM277.31 539h1.20v1h-1.20zM277.31 538h1.20v1h-1.20zM277.31 538h1.20v1h-1.20zM277.31 537h1.20v1h-1.20zM277.31 536h1.20v1h-1.20zM278.95 541h1.20v1h-1.20zM278.95 540h1.20v1h-1.20zM278.95 539h1.20v1h-1.20zM278.95 537h1.20v1h-1.20zM278.30 535h1.85v1h-1.85zM278.30 533h1.85v1h-1.85zM278.30 532h1.85v1h-1.85zM278.30 531h1.85v1h-1.85zM280.59 541h1.20v1h-1.20zM280.59 539h1.20v1h-1.20zM280.59 537h1.20v1h-1.20zM280.59 534h1.20v1h-1.20zM280.59 533h1.20v1h-1.20zM280.59 531h1.85v1h-1.85zM279.94 529h2.50v1h-2.50zM279.94 528h2.50v1h-2.50zM282.24 541h1.20v1h-1.20zM282.24 539h1.20v1h-1.20zM282.24 538h1.20v1h-1.20zM282.24 536h1.20v1h-1.20zM282.24 535h1.20v1h-1.20zM282.24 534h1.85v1h-1.85zM282.24 532h1.85v1h-1.85zM283.88 541h1.20v1h-1.20zM283.88 541h1.20v1h-1.20zM283.88 539h1.20v1h-1.20zM283.88 538h1.20v1h-1.20zM283.88 537h1.20v1h-1.20zM283.88 536h1.20v1h-1.20zM283.88 535h1.20v1h-1.20zM283.88 535h1.20v1h-1.20zM285.53 541h1.20v1h-1.20zM285.53 540h1.20v1h-1.20zM285.53 539h1.20v1h-1.20zM285.53 538h1.20v1h-1.20zM285.53 536h1.20v1h-1.20zM285.53 536h1.20v1h-1.20zM285.53 535h1.20v1h-1.20zM287.17 541h1.20v1h-1.20zM287.17 540h1.20v1h-1.20zM287.17 539h1.20v1h-1.20zM287.17 538h1.20v1h-1.20zM287.17 536h1.20v1h-1.20zM287.17 536h1.20v1h-1.20zM287.17 535h1.20v1h-1.20zM288.82 541h1.20v1h-1.20zM288.82 541h1.20v1h-1.20zM288.82 540h1.20v1h-1.20zM288.82 538h1.20v1h-1.20zM288.82 537h1.20v1h-1.20zM288.82 536h1.20v1h-1.20zM288.82 535h1.20v1h-1.20zM288.82 534h1.20v1h-1.20zM290.46 540h1.20v1h-1.20zM290.46 539h1.20v1h-1.20zM290.46 539h1.20v1h-1.20zM290.46 538h1.20v1h-1.20zM290.46 536h1.20v1h-1.20zM290.46 535h1.85v1h-1.85zM290.46 534h1.85v1h-1.85zM292.11 541h1.20v1h-1.20zM292.11 541h1.20v1h-1.20zM292.11 540h1.20v1h-1.20zM292.11 539h1.20v1h-1.20zM292.11 538h1.20v1h-1.20zM292.11 538h1.20v1h-1.20zM292.11 537h1.20v1h-1.20zM292.11 537h1.20v1h-1.20zM293.75 541h1.20v1h-1.20zM293.75 541h1.20v1h-1.20zM293.75 540h1.20v1h-1.20zM293.75 539h1.20v1h-1.20zM293.75 538h1.20v1h-1.20zM293.75 538h1.20v1h-1.20zM293.75 537h1.20v1h-1.20zM293.75 537h1.85v1h-1.85zM295.40 541h1.20v1h-1.20zM295.40 540h1.20v1h-1.20zM295.40 539h1.20v1h-1.20zM295.40 539h1.20v1h-1.20zM295.40 538h1.20v1h-1.20zM295.40 538h1.20v1h-1.20zM295.40 538h1.20v1h-1.20zM297.04 541h1.20v1h-1.20zM297.04 541h1.20v1h-1.20zM297.04 540h1.20v1h-1.20zM297.04 539h1.20v1h-1.20zM297.04 539h1.20v1h-1.20zM297.04 538h1.20v1h-1.20zM297.04 538h1.20v1h-1.20zM297.04 537h1.85v1h-1.85zM298.69 541h1.20v1h-1.20zM298.69 540h1.20v1h-1.20zM298.69 540h1.20v1h-1.20zM298.69 539h1.20v1h-1.20zM298.69 539h1.20v1h-1.20zM298.69 538h1.20v1h-1.20zM300.33 541h1.20v1h-1.20zM300.33 541h1.20v1h-1.20zM300.33 540h1.20v1h-1.20zM300.33 540h1.20v1h-1.20zM300.33 539h1.20v1h-1.20zM300.33 539h1.20v1h-1.20zM300.33 539h1.20v1h-1.20zM301.98 541h1.20v1h-1.20zM301.98 541h1.20v1h-1.20zM301.98 540h1.20v1h-1.20zM301.98 540h1.20v1h-1.20zM301.98 539h1.20v1h-1.20zM301.98 539h1.20v1h-1.20zM301.98 538h1.20v1h-1.20zM301.33 538h1.85v1h-1.85zM303.62 541h1.20v1h-1.20zM303.62 539h1.20v1h-1.20zM303.62 539h1.20v1h-1.20zM303.62 538h1.20v1h-1.20zM303.62 538h1.20v1h-1.20zM302.97 537h1.85v1h-1.85zM302.97 537h1.85v1h-1.85zM305.27 541h1.20v1h-1.20zM305.27 540h1.20v1h-1.20zM305.27 539h1.20v1h-1.20zM305.27 539h1.20v1h-1.20zM305.27 538h1.85v1h-1.85zM305.27 538h1.85v1h-1.85zM305.27 537h1.85v1h-1.85zM306.91 541h1.20v1h-1.20zM306.91 540h1.20v1h-1.20zM306.91 540h1.20v1h-1.20zM306.91 539h1.20v1h-1.20zM306.91 539h1.20v1h-1.20zM306.91 539h1.20v1h-1.20zM308.56 541h1.20v1h-1.20zM308.56 540h1.20v1h-1.20zM308.56 540h1.20v1h-1.20zM308.56 539h1.20v1h-1.20zM308.56 539h1.20v1h-1.20zM308.56 538h1.20v1h-1.20zM310.20 541h1.20v1h-1.20zM310.20 540h1.20v1h-1.20zM310.20 540h1.20v1h-1.20zM310.20 539h1.20v1h-1.20zM310.20 539h1.20v1h-1.20zM310.20 539h1.20v1h-1.20zM311.85 541h1.20v1h-1.20zM311.85 540h1.20v1h-1.20zM311.85 540h1.20v1h-1.20zM311.85 539h1.20v1h-1.20zM311.85 539h1.20v1h-1.20zM311.85 538h1.20v1h-1.20zM313.49 541h1.20v1h-1.20zM313.49 540h1.20v1h-1.20zM313.49 540h1.20v1h-1.20zM313.49 539h1.20v1h-1.20zM313.49 538h1.20v1h-1.20zM313.49 538h1.20v1h-1.20zM312.84 538h1.85v1h-1.85zM315.13 541h1.20v1h-1.20zM315.13 541h1.20v1h-1.20zM315.13 540h1.20v1h-1.20zM315.13 539h1.20v1h-1.20zM315.13 539h1.85v1h-1.85zM315.13 538h1.85v1h-1.85zM315.13 538h1.85v1h-1.85zM316.78 541h1.20v1h-1.20zM316.78 541h1.20v1h-1.20zM316.78 540h1.20v1h-1.20zM316.78 540h1.20v1h-1.20zM318.42 541h1.20v1h-1.20zM318.42 541h1.20v1h-1.20zM318.42 540h1.20v1h-1.20zM318.42 540h1.20v1h-1.20zM318.42 539h1.20v1h-1.20zM317.77 539h2.50v1h-2.50zM320.07 541h1.20v1h-1.20zM320.07 541h1.20v1h-1.20zM320.07 541h1.20v1h-1.20zM320.07 540h1.20v1h-1.20zM320.07 540h1.20v1h-1.20zM321.71 541h1.20v1h-1.20zM321.71 541h1.20v1h-1.20zM321.71 541h1.20v1h-1.20zM321.71 540h1.20v1h-1.20zM323.36 541h1.20v1h-1.20zM323.36 541h1.20v1h-1.20zM323.36 540h1.20v1h-1.20zM323.36 540h1.20v1h-1.20zM322.71 539h1.85v1h-1.85zM322.71 539h1.85v1h-1.85zM325.00 541h1.20v1h-1.20zM325.00 541h1.20v1h-1.20zM325.00 540h1.20v1h-1.20zM325.00 540h1.20v1h-1.20zM325.00 539h1.20v1h-1.20zM326.65 541h1.20v1h-1.20zM326.65 541h1.20v1h-1.20zM326.65 540h1.20v1h-1.20zM326.65 539h1.20v1h-1.20zM326.65 539h1.85v1h-1.85zM328.29 541h1.20v1h-1.20zM328.29 541h1.20v1h-1.20zM328.29 541h1.20v1h-1.20zM328.29 540h1.20v1h-1.20zM328.29 540h1.20v1h-1.20zM329.94 541h1.20v1h-1.20zM329.94 541h1.20v1h-1.20zM329.94 541h1.20v1h-1.20zM329.94 540h1.20v1h-1.20zM331.58 541h1.20v1h-1.20zM331.58 541h1.20v1h-1.20zM331.58 540h1.20v1h-1.20zM331.58 540h1.20v1h-1.20zM330.93 539h1.85v1h-1.85zM330.93 539h1.85v1h-1.85zM333.23 541h1.20v1h-1.20zM333.23 540h1.20v1h-1.20zM333.23 539h1.20v1h-1.20zM333.23 539h1.20v1h-1.20zM333.23 539h1.85v1h-1.85zM334.87 541h1.20v1h-1.20zM334.87 541h1.20v1h-1.20zM334.87 540h1.20v1h-1.20zM334.87 540h1.20v1h-1.20zM334.87 539h1.20v1h-1.20zM336.52 541h1.20v1h-1.20zM336.52 541h1.20v1h-1.20zM336.52 540h1.20v1h-1.20zM336.52 539h1.20v1h-1.20zM336.52 539h1.85v1h-1.85zM338.16 541h1.20v1h-1.20zM338.16 541h1.20v1h-1.20zM338.16 541h1.20v1h-1.20zM338.16 540h1.20v1h-1.20zM338.16 540h1.20v1h-1.20zM339.81 541h1.20v1h-1.20zM339.81 541h1.20v1h-1.20zM339.81 540h1.20v1h-1.20zM339.81 540h1.20v1h-1.20zM341.45 541h1.20v1h-1.20zM341.45 540h1.20v1h-1.20zM341.45 540h1.20v1h-1.20zM341.45 539h1.20v1h-1.20zM340.80 539h1.85v1h-1.85zM343.10 541h1.20v1h-1.20zM343.10 541h1.20v1h-1.20zM343.10 540h1.20v1h-1.20zM343.10 540h1.20v1h-1.20zM343.10 539h1.20v1h-1.20zM344.74 541h1.20v1h-1.20zM344.74 541h1.20v1h-1.20zM344.74 540h1.20v1h-1.20zM344.74 540h1.20v1h-1.20zM344.74 539h1.20v1h-1.20zM346.39 541h1.20v1h-1.20zM346.39 541h1.20v1h-1.20zM346.39 540h1.20v1h-1.20zM346.39 540h1.20v1h-1.20zM346.39 539h1.20v1h-1.20zM348.03 541h1.20v1h-1.20zM348.03 541h1.20v1h-1.20zM348.03 540h1.20v1h-1.20zM348.03 539h1.20v1h-1.20zM348.03 539h1.20v1h-1.20zM347.38 539h1.85v1h-1.85zM349.67 541h1.20v1h-1.20zM349.67 540h1.20v1h-1.20zM349.67 540h1.20v1h-1.20zM349.67 539h1.20v1h-1.20zM349.67 539h1.85v1h-1.85zM349.67 539h1.85v1h-1.85zM351.32 541h1.20v1h-1.20zM351.32 541h1.20v1h-1.20zM351.32 541h1.20v1h-1.20zM351.32 540h1.20v1h-1.20zM351.32 540h1.20v1h-1.20zM352.96 541h1.20v1h-1.20zM352.96 541h1.20v1h-1.20zM352.96 540h1.20v1h-1.20zM352.96 539h1.20v1h-1.20zM352.31 539h1.85v1h-1.85zM352.31 539h1.85v1h-1.85zM354.61 541h1.20v1h-1.20zM354.61 541h1.20v1h-1.20zM354.61 539h1.20v1h-1.20zM354.61 538h1.20v1h-1.20zM353.96 538h1.85v1h-1.85zM353.96 537h1.85v1h-1.85zM353.96 536h1.85v1h-1.85zM353.96 536h1.85v1h-1.85zM356.25 541h1.20v1h-1.20zM356.25 541h1.20v1h-1.20zM356.25 538h1.20v1h-1.20zM356.25 537h1.20v1h-1.20zM355.60 535h1.85v1h-1.85zM355.60 534h1.85v1h-1.85zM355.60 533h1.85v1h-1.85zM355.60 532h1.85v1h-1.85zM355.60 532h1.85v1h-1.85zM357.90 541h1.20v1h-1.20zM357.90 540h1.20v1h-1.20zM357.90 536h1.20v1h-1.20zM357.90 534h1.85v1h-1.85zM357.90 533h1.85v1h-1.85zM357.90 531h1.85v1h-1.85zM357.25 530h2.50v1h-2.50zM357.25 529h2.50v1h-2.50zM357.25 528h2.50v1h-2.50zM359.54 541h1.20v1h-1.20zM359.54 541h1.20v1h-1.20zM359.54 540h1.20v1h-1.20zM359.54 539h1.20v1h-1.20zM359.54 538h1.20v1h-1.20zM359.54 537h1.20v1h-1.20zM359.54 536h1.20v1h-1.20zM359.54 536h1.20v1h-1.20zM359.54 536h1.20v1h-1.20zM361.19 541h1.20v1h-1.20zM361.19 541h1.20v1h-1.20zM361.19 539h1.20v1h-1.20zM361.19 537h1.20v1h-1.20zM361.19 536h1.20v1h-1.20zM361.19 535h1.20v1h-1.20zM360.54 535h1.85v1h-1.85zM360.54 534h1.85v1h-1.85zM362.83 541h1.20v1h-1.20zM362.83 540h1.20v1h-1.20zM362.83 538h1.20v1h-1.20zM362.83 537h1.20v1h-1.20zM362.83 536h1.20v1h-1.20zM362.83 535h1.85v1h-1.85zM362.83 534h1.85v1h-1.85zM362.83 534h1.85v1h-1.85zM362.18 533h2.50v1h-2.50zM364.48 541h1.20v1h-1.20zM364.48 541h1.20v1h-1.20zM364.48 540h1.20v1h-1.20zM364.48 539h1.20v1h-1.20zM364.48 538h1.20v1h-1.20zM364.48 537h1.20v1h-1.20zM364.48 536h1.20v1h-1.20zM364.48 536h1.20v1h-1.20zM366.12 541h1.20v1h-1.20zM366.12 541h1.20v1h-1.20zM366.12 539h1.20v1h-1.20zM366.12 538h1.20v1h-1.20zM366.12 537h1.20v1h-1.20zM366.12 536h1.20v1h-1.20zM366.12 536h1.85v1h-1.85zM365.47 535h2.50v1h-2.50zM365.47 535h2.50v1h-2.50zM367.77 541h1.20v1h-1.20zM367.77 541h1.20v1h-1.20zM367.77 539h1.20v1h-1.20zM367.77 539h1.20v1h-1.20zM367.77 538h1.20v1h-1.20zM367.77 537h1.20v1h-1.20zM367.77 537h1.20v1h-1.20zM367.77 536h1.20v1h-1.20zM369.41 541h1.20v1h-1.20zM369.41 541h1.20v1h-1.20zM369.41 539h1.20v1h-1.20zM369.41 538h1.20v1h-1.20zM369.41 537h1.20v1h-1.20zM369.41 536h1.20v1h-1.20zM368.76 536h1.85v1h-1.85zM368.76 535h2.50v1h-2.50zM368.76 534h2.50v1h-2.50zM371.06 541h1.20v1h-1.20zM371.06 541h1.20v1h-1.20zM371.06 539h1.20v1h-1.20zM371.06 538h1.20v1h-1.20zM371.06 537h1.20v1h-1.20zM371.06 536h1.20v1h-1.20zM371.06 536h1.20v1h-1.20zM371.06 536h1.20v1h-1.20zM372.70 541h1.20v1h-1.20zM372.70 541h1.20v1h-1.20zM372.70 540h1.20v1h-1.20zM372.70 539h1.20v1h-1.20zM372.70 538h1.20v1h-1.20zM372.70 537h1.20v1h-1.20zM372.70 536h1.20v1h-1.20zM372.70 536h1.20v1h-1.20zM372.70 535h1.20v1h-1.20zM374.35 541h1.20v1h-1.20zM374.35 541h1.20v1h-1.20zM374.35 538h1.20v1h-1.20zM374.35 535h1.20v1h-1.20zM373.70 534h1.85v1h-1.85zM373.70 533h1.85v1h-1.85zM373.70 531h1.85v1h-1.85zM373.70 531h1.85v1h-1.85zM373.70 530h1.85v1h-1.85zM375.99 541h1.20v1h-1.20zM375.99 540h1.20v1h-1.20zM375.99 535h1.20v1h-1.20zM375.99 533h1.20v1h-1.20zM375.99 531h1.20v1h-1.20zM375.34 528h2.50v1h-2.50zM375.34 527h2.50v1h-2.50zM375.34 526h2.50v1h-2.50zM375.34 525h2.50v1h-2.50zM377.64 541h1.20v1h-1.20zM377.64 541h1.20v1h-1.20zM377.64 537h1.20v1h-1.20zM377.64 535h1.20v1h-1.20zM377.64 533h1.20v1h-1.20zM377.64 532h1.85v1h-1.85zM377.64 531h1.85v1h-1.85zM377.64 531h1.85v1h-1.85zM379.28 541h1.20v1h-1.20zM379.28 541h1.20v1h-1.20zM379.28 539h1.20v1h-1.20zM379.28 537h1.20v1h-1.20zM379.28 536h1.20v1h-1.20zM379.28 535h1.85v1h-1.85zM379.28 534h1.85v1h-1.85zM379.28 534h1.85v1h-1.85zM380.93 541h1.20v1h-1.20zM380.93 541h1.20v1h-1.20zM380.93 539h1.20v1h-1.20zM380.93 538h1.20v1h-1.20zM380.93 538h1.20v1h-1.20zM380.93 536h1.20v1h-1.20zM380.93 536h1.20v1h-1.20zM380.93 536h1.20v1h-1.20zM382.57 541h1.20v1h-1.20zM382.57 541h1.20v1h-1.20zM382.57 538h1.20v1h-1.20zM382.57 536h1.20v1h-1.20zM381.92 535h1.85v1h-1.85zM381.92 534h1.85v1h-1.85zM381.92 533h1.85v1h-1.85zM381.92 533h1.85v1h-1.85zM381.92 532h1.85v1h-1.85zM384.22 541h1.20v1h-1.20zM384.22 541h1.20v1h-1.20zM384.22 537h1.20v1h-1.20zM384.22 534h1.20v1h-1.20zM383.57 531h1.85v1h-1.85zM383.57 529h1.85v1h-1.85zM383.57 527h2.50v1h-2.50zM383.57 526h2.50v1h-2.50zM383.57 525h2.50v1h-2.50zM385.86 541h1.20v1h-1.20zM385.86 541h1.20v1h-1.20zM385.86 537h1.20v1h-1.20zM385.86 534h1.20v1h-1.20zM385.86 533h1.20v1h-1.20zM385.86 531h1.20v1h-1.20zM385.86 531h1.20v1h-1.20zM385.86 530h1.20v1h-1.20zM385.86 529h1.20v1h-1.20zM387.50 541h1.20v1h-1.20zM387.50 540h1.20v1h-1.20zM387.50 537h1.20v1h-1.20zM387.50 535h1.20v1h-1.20zM387.50 533h1.20v1h-1.20zM387.50 530h1.20v1h-1.20zM387.50 529h1.20v1h-1.20zM386.85 528h2.50v1h-2.50zM386.85 527h2.50v1h-2.50zM389.15 541h1.20v1h-1.20zM389.15 541h1.20v1h-1.20zM389.15 536h1.20v1h-1.20zM389.15 535h1.20v1h-1.20zM389.15 533h1.20v1h-1.20zM389.15 532h1.20v1h-1.20zM389.15 531h1.20v1h-1.20zM389.15 530h1.20v1h-1.20zM389.15 529h1.20v1h-1.20zM390.79 541h1.20v1h-1.20zM390.79 540h1.20v1h-1.20zM390.79 536h1.20v1h-1.20zM390.79 533h1.20v1h-1.20zM390.79 531h1.85v1h-1.85zM390.14 528h2.50v1h-2.50zM390.14 527h2.50v1h-2.50zM390.14 526h2.50v1h-2.50zM390.14 525h2.50v1h-2.50zM392.44 541h1.20v1h-1.20zM392.44 541h1.20v1h-1.20zM392.44 539h1.20v1h-1.20zM392.44 538h1.20v1h-1.20zM392.44 536h1.20v1h-1.20zM392.44 535h1.20v1h-1.20zM392.44 534h1.20v1h-1.20zM392.44 533h1.20v1h-1.20zM394.08 541h1.20v1h-1.20zM394.08 540h1.20v1h-1.20zM394.08 537h1.20v1h-1.20zM393.43 533h1.85v1h-1.85zM393.43 530h1.85v1h-1.85zM393.43 529h1.85v1h-1.85zM393.43 527h1.85v1h-1.85zM393.43 527h1.85v1h-1.85zM393.43 526h1.85v1h-1.85zM395.73 541h1.20v1h-1.20zM395.73 539h1.20v1h-1.20zM395.73 533h1.20v1h-1.20zM395.73 529h1.85v1h-1.85zM395.73 526h1.85v1h-1.85zM395.08 522h2.50v1h-2.50zM395.08 519h2.50v1h-2.50zM395.08 518h2.50v1h-2.50zM395.08 517h2.50v1h-2.50zM397.37 541h1.20v1h-1.20zM397.37 541h1.20v1h-1.20zM397.37 538h1.20v1h-1.20zM397.37 537h1.20v1h-1.20zM397.37 536h1.20v1h-1.20zM397.37 534h1.85v1h-1.85zM397.37 533h1.85v1h-1.85zM397.37 533h1.85v1h-1.85zM397.37 532h1.85v1h-1.85zM399.02 541h1.20v1h-1.20zM399.02 541h1.20v1h-1.20zM399.02 539h1.20v1h-1.20zM399.02 538h1.20v1h-1.20zM399.02 537h1.20v1h-1.20zM399.02 536h1.20v1h-1.20zM399.02 536h1.20v1h-1.20zM399.02 535h1.20v1h-1.20zM400.66 541h1.20v1h-1.20zM400.66 541h1.20v1h-1.20zM400.66 538h1.20v1h-1.20zM400.66 536h1.85v1h-1.85zM400.01 534h2.50v1h-2.50zM400.01 533h2.50v1h-2.50zM400.01 532h2.50v1h-2.50zM400.01 531h2.50v1h-2.50zM400.01 530h2.50v1h-2.50zM402.31 541h1.20v1h-1.20zM402.31 541h1.20v1h-1.20zM402.31 540h1.20v1h-1.20zM402.31 539h1.20v1h-1.20zM402.31 538h1.20v1h-1.20zM402.31 537h1.20v1h-1.20zM402.31 537h1.20v1h-1.20zM402.31 536h1.20v1h-1.20zM403.95 541h1.20v1h-1.20zM403.95 541h1.20v1h-1.20zM403.95 538h1.20v1h-1.20zM403.95 536h1.20v1h-1.20zM403.30 534h1.85v1h-1.85zM403.30 533h1.85v1h-1.85zM403.30 533h1.85v1h-1.85zM403.30 532h1.85v1h-1.85zM403.30 531h1.85v1h-1.85zM405.60 541h1.20v1h-1.20zM405.60 541h1.20v1h-1.20zM405.60 539h1.20v1h-1.20zM405.60 537h1.20v1h-1.20zM405.60 535h1.20v1h-1.20zM405.60 533h1.20v1h-1.20zM405.60 533h1.20v1h-1.20zM405.60 532h1.20v1h-1.20zM405.60 531h1.20v1h-1.20zM407.24 541h1.20v1h-1.20zM407.24 539h1.20v1h-1.20zM407.24 532h1.20v1h-1.20zM406.59 527h2.50v1h-2.50zM406.59 523h2.50v1h-2.50zM406.59 518h2.50v1h-2.50zM406.59 516h2.50v1h-2.50zM406.59 515h2.50v1h-2.50zM406.59 513h2.50v1h-2.50zM408.89 541h1.20v1h-1.20zM408.89 541h1.20v1h-1.20zM408.89 537h1.20v1h-1.20zM408.89 534h1.20v1h-1.20zM408.89 532h1.20v1h-1.20zM408.89 531h1.20v1h-1.20zM408.89 529h1.20v1h-1.20zM408.89 529h1.20v1h-1.20zM408.89 528h1.20v1h-1.20zM410.53 541h1.20v1h-1.20zM410.53 539h1.20v1h-1.20zM410.53 534h1.20v1h-1.20zM410.53 530h1.20v1h-1.20zM409.88 527h1.85v1h-1.85zM409.88 524h1.85v1h-1.85zM409.88 523h1.85v1h-1.85zM409.88 521h2.50v1h-2.50zM409.88 520h2.50v1h-2.50zM412.18 541h1.20v1h-1.20zM412.18 540h1.20v1h-1.20zM412.18 535h1.20v1h-1.20zM412.18 532h1.20v1h-1.20zM412.18 529h1.20v1h-1.20zM412.18 527h1.85v1h-1.85zM412.18 525h1.85v1h-1.85zM412.18 524h1.85v1h-1.85zM412.18 522h1.85v1h-1.85zM413.82 541h1.20v1h-1.20zM413.82 540h1.20v1h-1.20zM413.82 537h1.20v1h-1.20zM413.82 535h1.20v1h-1.20zM413.82 533h1.20v1h-1.20zM413.82 531h1.20v1h-1.20zM413.82 530h1.20v1h-1.20zM413.82 529h1.20v1h-1.20zM413.82 528h1.20v1h-1.20zM415.47 541h1.20v1h-1.20zM415.47 540h1.20v1h-1.20zM415.47 534h1.20v1h-1.20zM415.47 531h1.20v1h-1.20zM414.82 527h1.85v1h-1.85zM414.82 524h1.85v1h-1.85zM414.82 522h1.85v1h-1.85zM414.82 520h1.85v1h-1.85zM414.82 519h1.85v1h-1.85zM417.11 540h1.20v1h-1.20zM417.11 538h1.20v1h-1.20zM417.11 531h1.20v1h-1.20zM417.11 523h1.20v1h-1.20zM417.11 519h1.20v1h-1.20zM416.46 515h1.85v1h-1.85zM416.46 512h2.50v1h-2.50zM416.46 510h2.50v1h-2.50zM416.46 508h2.50v1h-2.50zM418.76 541h1.20v1h-1.20zM418.76 539h1.20v1h-1.20zM418.76 531h1.20v1h-1.20zM418.76 526h1.20v1h-1.20zM418.76 523h1.20v1h-1.20zM418.76 520h1.20v1h-1.20zM418.76 519h1.20v1h-1.20zM418.76 517h1.20v1h-1.20zM418.76 515h1.20v1h-1.20zM418.76 514h1.20v1h-1.20zM420.40 540h1.20v1h-1.20zM420.40 538h1.20v1h-1.20zM420.40 527h1.20v1h-1.20zM420.40 521h1.20v1h-1.20zM419.75 512h1.85v1h-1.85zM419.75 507h2.50v1h-2.50zM419.75 504h2.50v1h-2.50zM419.75 501h2.50v1h-2.50zM422.04 541h1.20v1h-1.20zM422.04 538h1.20v1h-1.20zM422.04 531h1.20v1h-1.20zM422.04 527h1.20v1h-1.20zM422.04 524h1.20v1h-1.20zM422.04 520h1.20v1h-1.20zM422.04 516h1.20v1h-1.20zM422.04 514h1.20v1h-1.20zM422.04 513h1.20v1h-1.20zM423.69 540h1.20v1h-1.20zM423.69 538h1.20v1h-1.20zM423.69 522h1.20v1h-1.20zM423.69 516h1.20v1h-1.20zM423.04 511h2.50v1h-2.50zM423.04 506h2.50v1h-2.50zM423.04 502h2.50v1h-2.50zM425.33 541h1.20v1h-1.20zM425.33 539h1.20v1h-1.20zM425.33 533h1.20v1h-1.20zM425.33 527h1.85v1h-1.85zM425.33 522h1.85v1h-1.85zM425.33 519h1.85v1h-1.85zM425.33 516h1.85v1h-1.85zM425.33 515h1.85v1h-1.85zM425.33 513h1.85v1h-1.85zM426.98 541h1.20v1h-1.20zM426.98 541h1.20v1h-1.20zM426.98 537h1.20v1h-1.20zM426.98 535h1.20v1h-1.20zM426.98 534h1.20v1h-1.20zM426.98 531h1.20v1h-1.20zM426.98 531h1.20v1h-1.20zM426.98 530h1.20v1h-1.20zM426.98 529h1.20v1h-1.20zM428.62 541h1.20v1h-1.20zM428.62 540h1.20v1h-1.20zM428.62 537h1.20v1h-1.20zM428.62 534h1.20v1h-1.20zM428.62 533h1.20v1h-1.20zM428.62 531h1.20v1h-1.20zM428.62 530h1.20v1h-1.20zM428.62 529h1.20v1h-1.20zM427.97 528h1.85v1h-1.85zM430.27 541h1.20v1h-1.20zM430.27 539h1.20v1h-1.20zM430.27 533h1.20v1h-1.20zM430.27 530h1.20v1h-1.20zM429.62 526h1.85v1h-1.85zM429.62 524h1.85v1h-1.85zM429.62 521h1.85v1h-1.85zM429.62 519h1.85v1h-1.85zM429.62 517h1.85v1h-1.85zM431.91 540h1.20v1h-1.20zM431.91 537h1.20v1h-1.20zM431.91 528h1.20v1h-1.20zM431.91 520h1.20v1h-1.20zM431.26 515h1.85v1h-1.85zM431.26 507h1.85v1h-1.85zM431.26 503h2.50v1h-2.50zM431.26 500h2.50v1h-2.50zM433.56 541h1.20v1h-1.20zM433.56 539h1.20v1h-1.20zM433.56 531h1.20v1h-1.20zM433.56 525h1.20v1h-1.20zM433.56 520h1.20v1h-1.20zM433.56 516h1.20v1h-1.20zM433.56 512h1.20v1h-1.20zM433.56 510h1.20v1h-1.20zM433.56 508h1.20v1h-1.20zM433.56 507h1.20v1h-1.20zM435.20 540h1.20v1h-1.20zM435.20 538h1.20v1h-1.20zM435.20 526h1.20v1h-1.20zM435.20 519h1.20v1h-1.20zM435.20 513h1.20v1h-1.20zM434.55 505h2.50v1h-2.50zM434.55 500h2.50v1h-2.50zM436.85 541h1.20v1h-1.20zM436.85 539h1.20v1h-1.20zM436.85 531h1.20v1h-1.20zM436.85 526h1.20v1h-1.20zM436.85 522h1.20v1h-1.20zM436.85 518h1.20v1h-1.20zM436.85 515h1.20v1h-1.20zM436.85 514h1.20v1h-1.20zM436.85 513h1.20v1h-1.20zM438.49 540h1.20v1h-1.20zM438.49 538h1.20v1h-1.20zM438.49 530h1.20v1h-1.20zM438.49 524h1.20v1h-1.20zM438.49 520h1.20v1h-1.20zM438.49 517h1.20v1h-1.20zM438.49 514h1.85v1h-1.85zM438.49 512h1.85v1h-1.85zM437.84 510h2.50v1h-2.50zM440.14 541h1.20v1h-1.20zM440.14 539h1.20v1h-1.20zM440.14 533h1.20v1h-1.20zM440.14 529h1.20v1h-1.20zM440.14 525h1.85v1h-1.85zM440.14 522h1.85v1h-1.85zM440.14 521h1.85v1h-1.85zM440.14 519h1.85v1h-1.85zM440.14 517h1.85v1h-1.85zM441.78 541h1.20v1h-1.20zM441.78 541h1.20v1h-1.20zM441.78 537h1.20v1h-1.20zM441.78 534h1.20v1h-1.20zM441.78 531h1.20v1h-1.20zM441.78 529h1.20v1h-1.20zM441.78 528h1.20v1h-1.20zM441.78 527h1.20v1h-1.20zM441.78 527h1.20v1h-1.20zM443.43 541h1.20v1h-1.20zM443.43 537h1.20v1h-1.20zM443.43 527h1.20v1h-1.20zM442.78 521h1.85v1h-1.85zM442.78 517h1.85v1h-1.85zM442.78 511h2.50v1h-2.50zM442.78 508h2.50v1h-2.50zM442.78 505h2.50v1h-2.50zM442.78 503h2.50v1h-2.50zM445.07 541h1.20v1h-1.20zM445.07 540h1.20v1h-1.20zM445.07 532h1.20v1h-1.20zM445.07 527h1.20v1h-1.20zM445.07 523h1.20v1h-1.20zM445.07 520h1.20v1h-1.20zM445.07 518h1.20v1h-1.20zM445.07 516h1.20v1h-1.20zM445.07 515h1.20v1h-1.20zM445.07 514h1.20v1h-1.20zM446.72 540h1.20v1h-1.20zM446.72 537h1.20v1h-1.20zM446.72 527h1.20v1h-1.20zM446.72 522h1.85v1h-1.85zM446.72 517h1.85v1h-1.85zM446.07 514h2.50v1h-2.50zM446.07 511h2.50v1h-2.50zM446.07 508h2.50v1h-2.50zM446.07 506h2.50v1h-2.50zM448.36 541h1.20v1h-1.20zM448.36 540h1.20v1h-1.20zM448.36 536h1.20v1h-1.20zM448.36 533h1.20v1h-1.20zM448.36 530h1.20v1h-1.20zM448.36 528h1.20v1h-1.20zM448.36 527h1.20v1h-1.20zM448.36 526h1.20v1h-1.20zM448.36 524h1.20v1h-1.20zM450.01 541h1.20v1h-1.20zM450.01 539h1.20v1h-1.20zM450.01 534h1.20v1h-1.20zM450.01 532h1.20v1h-1.20zM450.01 529h1.20v1h-1.20zM450.01 527h1.20v1h-1.20zM450.01 526h1.20v1h-1.20zM450.01 525h1.20v1h-1.20zM450.01 524h1.85v1h-1.85zM451.65 541h1.20v1h-1.20zM451.65 540h1.20v1h-1.20zM451.65 536h1.20v1h-1.20zM451.65 533h1.20v1h-1.20zM451.65 531h1.20v1h-1.20zM451.65 529h1.20v1h-1.20zM451.65 527h1.20v1h-1.20zM451.65 526h1.20v1h-1.20zM451.65 525h1.20v1h-1.20zM453.30 541h1.20v1h-1.20zM453.30 539h1.20v1h-1.20zM453.30 531h1.20v1h-1.20zM453.30 526h1.20v1h-1.20zM452.65 520h1.85v1h-1.85zM452.65 517h1.85v1h-1.85zM452.65 515h1.85v1h-1.85zM452.65 512h2.50v1h-2.50zM452.65 510h2.50v1h-2.50zM454.94 541h1.20v1h-1.20zM454.94 539h1.20v1h-1.20zM454.94 530h1.20v1h-1.20zM454.94 526h1.20v1h-1.20zM454.94 522h1.20v1h-1.20zM454.94 519h1.20v1h-1.20zM454.94 517h1.20v1h-1.20zM454.94 515h1.20v1h-1.20zM454.94 514h1.20v1h-1.20zM456.58 541h1.20v1h-1.20zM456.58 539h1.20v1h-1.20zM456.58 533h1.20v1h-1.20zM456.58 528h1.20v1h-1.20zM456.58 523h1.20v1h-1.20zM456.58 519h1.20v1h-1.20zM456.58 517h1.20v1h-1.20zM456.58 515h1.20v1h-1.20zM456.58 514h1.20v1h-1.20zM455.93 513h1.85v1h-1.85zM458.23 541h1.20v1h-1.20zM458.23 538h1.20v1h-1.20zM458.23 527h1.20v1h-1.20zM458.23 522h1.20v1h-1.20zM458.23 517h1.85v1h-1.85zM457.58 510h2.50v1h-2.50zM457.58 508h2.50v1h-2.50zM457.58 506h2.50v1h-2.50zM457.58 503h2.50v1h-2.50zM457.58 502h2.50v1h-2.50zM459.87 541h1.20v1h-1.20zM459.87 540h1.20v1h-1.20zM459.87 535h1.20v1h-1.20zM459.87 531h1.20v1h-1.20zM459.87 529h1.20v1h-1.20zM459.87 526h1.20v1h-1.20zM459.87 525h1.20v1h-1.20zM459.87 523h1.20v1h-1.20zM459.87 522h1.20v1h-1.20zM461.52 541h1.20v1h-1.20zM461.52 539h1.20v1h-1.20zM461.52 534h1.20v1h-1.20zM461.52 531h1.20v1h-1.20zM461.52 529h1.85v1h-1.85zM461.52 524h1.85v1h-1.85zM461.52 523h1.85v1h-1.85zM460.87 521h2.50v1h-2.50zM460.87 520h2.50v1h-2.50zM463.16 541h1.20v1h-1.20zM463.16 541h1.20v1h-1.20zM463.16 538h1.20v1h-1.20zM463.16 536h1.20v1h-1.20zM463.16 534h1.20v1h-1.20zM463.16 533h1.20v1h-1.20zM463.16 531h1.20v1h-1.20zM463.16 531h1.20v1h-1.20zM463.16 530h1.20v1h-1.20zM464.81 541h1.20v1h-1.20zM464.81 540h1.20v1h-1.20zM464.81 534h1.20v1h-1.20zM464.81 532h1.20v1h-1.20zM464.16 528h1.85v1h-1.85zM464.16 525h2.50v1h-2.50zM464.16 524h2.50v1h-2.50zM464.16 523h2.50v1h-2.50zM464.16 522h2.50v1h-2.50zM466.45 541h1.20v1h-1.20zM466.45 541h1.20v1h-1.20zM466.45 536h1.20v1h-1.20zM466.45 534h1.20v1h-1.20zM466.45 532h1.20v1h-1.20zM466.45 530h1.20v1h-1.20zM466.45 529h1.20v1h-1.20zM466.45 529h1.20v1h-1.20zM466.45 528h1.20v1h-1.20zM468.10 541h1.20v1h-1.20zM468.10 538h1.20v1h-1.20zM468.10 531h1.20v1h-1.20zM467.45 522h1.85v1h-1.85zM467.45 516h2.50v1h-2.50zM467.45 510h2.50v1h-2.50zM467.45 507h2.50v1h-2.50zM467.45 505h2.50v1h-2.50zM467.45 503h2.50v1h-2.50zM467.45 502h2.50v1h-2.50zM469.74 541h1.20v1h-1.20zM469.74 539h1.20v1h-1.20zM469.74 531h1.20v1h-1.20zM469.74 528h1.20v1h-1.20zM469.74 524h1.85v1h-1.85zM469.74 520h1.85v1h-1.85zM469.74 519h1.85v1h-1.85zM469.74 518h1.85v1h-1.85zM469.74 517h1.85v1h-1.85zM471.39 541h1.20v1h-1.20zM471.39 541h1.20v1h-1.20zM471.39 537h1.20v1h-1.20zM471.39 535h1.20v1h-1.20zM471.39 533h1.20v1h-1.20zM471.39 531h1.20v1h-1.20zM471.39 529h1.20v1h-1.20zM471.39 528h1.20v1h-1.20zM471.39 528h1.20v1h-1.20zM473.03 541h1.20v1h-1.20zM473.03 539h1.20v1h-1.20zM473.03 534h1.20v1h-1.20zM473.03 528h1.20v1h-1.20zM472.38 524h1.85v1h-1.85zM472.38 521h1.85v1h-1.85zM472.38 520h1.85v1h-1.85zM472.38 518h2.50v1h-2.50zM472.38 517h2.50v1h-2.50zM474.68 541h1.20v1h-1.20zM474.68 539h1.20v1h-1.20zM474.68 534h1.20v1h-1.20zM474.68 531h1.20v1h-1.20zM474.68 527h1.20v1h-1.20zM474.68 525h1.85v1h-1.85zM474.68 524h1.85v1h-1.85zM474.68 522h1.85v1h-1.85zM474.68 520h1.85v1h-1.85zM476.32 541h1.20v1h-1.20zM476.32 540h1.20v1h-1.20zM476.32 537h1.20v1h-1.20zM476.32 535h1.20v1h-1.20zM476.32 533h1.20v1h-1.20zM476.32 530h1.20v1h-1.20zM476.32 528h1.20v1h-1.20zM476.32 527h1.20v1h-1.20zM476.32 526h1.20v1h-1.20zM477.97 540h1.20v1h-1.20zM477.97 538h1.20v1h-1.20zM477.97 526h1.20v1h-1.20zM477.32 518h1.85v1h-1.85zM477.32 514h1.85v1h-1.85zM477.32 509h2.50v1h-2.50zM477.32 507h2.50v1h-2.50zM477.32 503h2.50v1h-2.50zM477.32 501h2.50v1h-2.50zM479.61 541h1.20v1h-1.20zM479.61 539h1.20v1h-1.20zM479.61 531h1.20v1h-1.20zM479.61 526h1.20v1h-1.20zM479.61 522h1.20v1h-1.20zM479.61 519h1.20v1h-1.20zM479.61 518h1.20v1h-1.20zM479.61 515h1.85v1h-1.85zM479.61 513h1.85v1h-1.85zM481.26 541h1.20v1h-1.20zM481.26 539h1.20v1h-1.20zM481.26 533h1.20v1h-1.20zM481.26 530h1.20v1h-1.20zM481.26 526h1.20v1h-1.20zM481.26 523h1.20v1h-1.20zM481.26 521h1.20v1h-1.20zM481.26 519h1.20v1h-1.20zM481.26 517h1.20v1h-1.20zM482.90 541h1.20v1h-1.20zM482.90 538h1.20v1h-1.20zM482.90 531h1.20v1h-1.20zM482.90 527h1.20v1h-1.20zM482.90 523h1.20v1h-1.20zM482.90 518h1.85v1h-1.85zM482.25 516h2.50v1h-2.50zM482.25 514h2.50v1h-2.50zM482.25 513h2.50v1h-2.50zM482.25 512h2.50v1h-2.50zM484.55 541h1.20v1h-1.20zM484.55 540h1.20v1h-1.20zM484.55 534h1.20v1h-1.20zM484.55 531h1.20v1h-1.20zM484.55 529h1.20v1h-1.20zM484.55 526h1.20v1h-1.20zM484.55 525h1.20v1h-1.20zM484.55 523h1.20v1h-1.20zM484.55 522h1.20v1h-1.20zM486.19 541h1.20v1h-1.20zM486.19 540h1.20v1h-1.20zM486.19 534h1.20v1h-1.20zM486.19 530h1.20v1h-1.20zM486.19 527h1.20v1h-1.20zM486.19 524h1.20v1h-1.20zM486.19 523h1.20v1h-1.20zM486.19 522h1.20v1h-1.20zM485.54 520h1.85v1h-1.85zM485.54 520h1.85v1h-1.85zM487.84 541h1.20v1h-1.20zM487.84 539h1.20v1h-1.20zM487.84 528h1.20v1h-1.20zM487.84 524h1.20v1h-1.20zM487.19 519h1.85v1h-1.85zM487.19 514h2.50v1h-2.50zM487.19 510h2.50v1h-2.50zM487.19 508h2.50v1h-2.50zM487.19 506h2.50v1h-2.50zM489.48 541h1.20v1h-1.20zM489.48 539h1.20v1h-1.20zM489.48 533h1.20v1h-1.20zM489.48 529h1.20v1h-1.20zM489.48 526h1.20v1h-1.20zM489.48 522h1.20v1h-1.20zM489.48 520h1.20v1h-1.20zM489.48 518h1.20v1h-1.20zM489.48 517h1.20v1h-1.20zM491.13 541h1.20v1h-1.20zM491.13 539h1.20v1h-1.20zM491.13 532h1.20v1h-1.20zM491.13 526h1.85v1h-1.85zM491.13 522h1.85v1h-1.85zM491.13 519h1.85v1h-1.85zM491.13 517h1.85v1h-1.85zM490.48 515h2.50v1h-2.50zM490.48 514h2.50v1h-2.50zM492.77 541h1.20v1h-1.20zM492.77 541h1.20v1h-1.20zM492.77 538h1.20v1h-1.20zM492.77 535h1.20v1h-1.20zM492.77 533h1.20v1h-1.20zM492.77 531h1.20v1h-1.20zM492.77 530h1.20v1h-1.20zM492.77 529h1.20v1h-1.20zM492.77 529h1.20v1h-1.20zM494.41 541h1.20v1h-1.20zM494.41 540h1.20v1h-1.20zM494.41 533h1.20v1h-1.20zM494.41 529h1.85v1h-1.85zM493.76 527h2.50v1h-2.50zM493.76 524h2.50v1h-2.50zM493.76 522h2.50v1h-2.50zM493.76 521h2.50v1h-2.50zM493.76 520h2.50v1h-2.50zM496.06 541h1.20v1h-1.20zM496.06 541h1.20v1h-1.20zM496.06 537h1.20v1h-1.20zM496.06 536h1.20v1h-1.20zM496.06 534h1.20v1h-1.20zM496.06 533h1.85v1h-1.85zM496.06 532h1.85v1h-1.85zM496.06 531h1.85v1h-1.85zM496.06 530h1.85v1h-1.85zM497.70 541h1.20v1h-1.20zM497.70 541h1.20v1h-1.20zM497.70 539h1.20v1h-1.20zM497.70 538h1.20v1h-1.20zM497.70 536h1.20v1h-1.20zM497.70 536h1.20v1h-1.20zM497.70 535h1.20v1h-1.20zM497.70 534h1.20v1h-1.20zM497.70 534h1.20v1h-1.20zM499.35 541h1.20v1h-1.20zM499.35 541h1.20v1h-1.20zM499.35 538h1.20v1h-1.20zM499.35 535h1.20v1h-1.20zM498.70 533h1.85v1h-1.85zM498.70 532h1.85v1h-1.85zM498.70 531h1.85v1h-1.85zM498.70 530h1.85v1h-1.85zM498.70 529h1.85v1h-1.85zM500.99 541h1.20v1h-1.20zM500.99 540h1.20v1h-1.20zM500.99 536h1.20v1h-1.20zM500.99 533h1.20v1h-1.20zM500.99 530h1.20v1h-1.20zM500.34 528h1.85v1h-1.85zM500.34 526h2.50v1h-2.50zM500.34 525h2.50v1h-2.50zM500.34 524h2.50v1h-2.50zM502.64 541h1.20v1h-1.20zM502.64 541h1.20v1h-1.20zM502.64 537h1.20v1h-1.20zM502.64 534h1.20v1h-1.20zM502.64 531h1.20v1h-1.20zM502.64 530h1.20v1h-1.20zM502.64 529h1.20v1h-1.20zM502.64 529h1.20v1h-1.20zM502.64 528h1.20v1h-1.20zM504.28 541h1.20v1h-1.20zM504.28 539h1.20v1h-1.20zM504.28 529h1.20v1h-1.20zM503.63 524h1.85v1h-1.85zM503.63 520h1.85v1h-1.85zM503.63 515h2.50v1h-2.50zM503.63 513h2.50v1h-2.50zM503.63 511h2.50v1h-2.50zM503.63 510h2.50v1h-2.50zM503.63 509h2.50v1h-2.50zM505.93 541h1.20v1h-1.20zM505.93 539h1.20v1h-1.20zM505.93 534h1.20v1h-1.20zM505.93 529h1.20v1h-1.20zM505.93 527h1.20v1h-1.20zM505.93 523h1.20v1h-1.20zM505.93 522h1.85v1h-1.85zM505.93 521h1.85v1h-1.85zM505.93 520h1.85v1h-1.85zM507.57 541h1.20v1h-1.20zM507.57 541h1.20v1h-1.20zM507.57 536h1.20v1h-1.20zM507.57 532h1.20v1h-1.20zM507.57 529h1.20v1h-1.20zM507.57 527h1.20v1h-1.20zM507.57 526h1.20v1h-1.20zM507.57 524h1.20v1h-1.20zM507.57 523h1.20v1h-1.20zM509.22 541h1.20v1h-1.20zM509.22 539h1.20v1h-1.20zM509.22 534h1.20v1h-1.20zM509.22 531h1.20v1h-1.20zM509.22 527h1.20v1h-1.20zM509.22 524h1.20v1h-1.20zM509.22 523h1.20v1h-1.20zM508.57 521h1.85v1h-1.85zM508.57 520h1.85v1h-1.85zM510.86 540h1.20v1h-1.20zM510.86 539h1.20v1h-1.20zM510.86 531h1.20v1h-1.20zM510.86 526h1.20v1h-1.20zM510.86 522h1.20v1h-1.20zM510.21 518h2.50v1h-2.50zM510.21 516h2.50v1h-2.50zM510.21 514h2.50v1h-2.50zM510.21 513h2.50v1h-2.50zM512.51 541h1.20v1h-1.20zM512.51 539h1.20v1h-1.20zM512.51 535h1.20v1h-1.20zM512.51 531h1.20v1h-1.20zM512.51 528h1.20v1h-1.20zM512.51 525h1.20v1h-1.20zM512.51 524h1.20v1h-1.20zM512.51 522h1.20v1h-1.20zM512.51 520h1.20v1h-1.20zM514.15 541h1.20v1h-1.20zM514.15 540h1.20v1h-1.20zM514.15 535h1.20v1h-1.20zM514.15 531h1.20v1h-1.20zM514.15 527h1.20v1h-1.20zM514.15 524h1.20v1h-1.20zM514.15 522h1.20v1h-1.20zM514.15 521h1.20v1h-1.20zM514.15 520h1.20v1h-1.20zM515.80 541h1.20v1h-1.20zM515.80 540h1.20v1h-1.20zM515.80 534h1.85v1h-1.85zM515.80 531h1.85v1h-1.85zM515.80 528h1.85v1h-1.85zM515.80 525h1.85v1h-1.85zM515.80 523h1.85v1h-1.85zM515.80 521h1.85v1h-1.85zM515.80 520h1.85v1h-1.85zM517.44 541h1.20v1h-1.20zM517.44 541h1.20v1h-1.20zM517.44 540h1.20v1h-1.20zM517.44 539h1.20v1h-1.20zM517.44 539h1.20v1h-1.20zM517.44 539h1.20v1h-1.20zM517.44 538h1.20v1h-1.20zM519.09 541h1.20v1h-1.20zM519.09 541h1.20v1h-1.20zM518.44 538h1.85v1h-1.85zM518.44 535h1.85v1h-1.85zM518.44 533h1.85v1h-1.85zM518.44 532h1.85v1h-1.85zM518.44 531h1.85v1h-1.85zM518.44 531h1.85v1h-1.85zM520.73 541h1.20v1h-1.20zM520.73 539h1.20v1h-1.20zM520.73 531h1.20v1h-1.20zM520.08 528h1.85v1h-1.85zM520.08 524h1.85v1h-1.85zM520.08 522h1.85v1h-1.85zM520.08 520h2.50v1h-2.50zM520.08 518h2.50v1h-2.50zM520.08 517h2.50v1h-2.50zM522.38 541h1.20v1h-1.20zM522.38 539h1.20v1h-1.20zM522.38 534h1.20v1h-1.20zM522.38 531h1.20v1h-1.20zM522.38 529h1.20v1h-1.20zM522.38 526h1.20v1h-1.20zM522.38 525h1.20v1h-1.20zM522.38 524h1.20v1h-1.20zM522.38 522h1.85v1h-1.85zM524.02 541h1.20v1h-1.20zM524.02 540h1.20v1h-1.20zM524.02 535h1.20v1h-1.20zM524.02 533h1.20v1h-1.20zM524.02 529h1.20v1h-1.20zM524.02 528h1.20v1h-1.20zM524.02 526h1.20v1h-1.20zM524.02 525h1.20v1h-1.20zM524.02 524h1.20v1h-1.20zM525.67 541h1.20v1h-1.20zM525.67 539h1.20v1h-1.20zM525.67 531h1.20v1h-1.20zM525.67 527h1.20v1h-1.20zM525.02 523h1.85v1h-1.85zM525.02 518h2.50v1h-2.50zM525.02 517h2.50v1h-2.50zM525.02 515h2.50v1h-2.50zM525.02 514h2.50v1h-2.50zM525.02 513h2.50v1h-2.50zM527.31 541h1.20v1h-1.20zM527.31 539h1.20v1h-1.20zM527.31 534h1.20v1h-1.20zM527.31 531h1.20v1h-1.20zM527.31 528h1.20v1h-1.20zM527.31 524h1.85v1h-1.85zM527.31 522h1.85v1h-1.85zM527.31 521h1.85v1h-1.85zM527.31 520h1.85v1h-1.85zM528.95 541h1.20v1h-1.20zM528.95 541h1.20v1h-1.20zM528.95 536h1.20v1h-1.20zM528.95 533h1.20v1h-1.20zM528.95 531h1.20v1h-1.20zM528.95 529h1.20v1h-1.20zM528.95 527h1.20v1h-1.20zM528.95 526h1.85v1h-1.85zM528.95 526h1.85v1h-1.85zM530.60 541h1.20v1h-1.20zM530.60 541h1.20v1h-1.20zM530.60 537h1.20v1h-1.20zM530.60 535h1.20v1h-1.20zM530.60 533h1.20v1h-1.20zM530.60 530h1.20v1h-1.20zM530.60 529h1.20v1h-1.20zM530.60 528h1.20v1h-1.20zM530.60 527h1.20v1h-1.20zM532.24 541h1.20v1h-1.20zM532.24 539h1.20v1h-1.20zM532.24 533h1.20v1h-1.20zM532.24 528h1.85v1h-1.85zM531.59 522h2.50v1h-2.50zM531.59 517h2.50v1h-2.50zM531.59 514h2.50v1h-2.50zM531.59 512h2.50v1h-2.50zM531.59 510h2.50v1h-2.50zM533.89 541h1.20v1h-1.20zM533.89 541h1.20v1h-1.20zM533.89 537h1.20v1h-1.20zM533.89 535h1.20v1h-1.20zM533.89 533h1.20v1h-1.20zM533.89 532h1.20v1h-1.20zM533.89 530h1.20v1h-1.20zM533.89 529h1.20v1h-1.20zM533.89 529h1.20v1h-1.20zM535.53 541h1.20v1h-1.20zM535.53 539h1.20v1h-1.20zM535.53 534h1.20v1h-1.20zM535.53 529h1.20v1h-1.20zM534.88 526h1.85v1h-1.85zM534.88 522h1.85v1h-1.85zM534.88 520h1.85v1h-1.85zM534.88 519h1.85v1h-1.85zM534.88 517h1.85v1h-1.85zM537.18 541h1.20v1h-1.20zM537.18 539h1.20v1h-1.20zM537.18 529h1.20v1h-1.20zM537.18 526h1.20v1h-1.20zM537.18 522h1.20v1h-1.20zM537.18 517h1.85v1h-1.85zM536.53 515h2.50v1h-2.50zM536.53 512h2.50v1h-2.50zM536.53 510h2.50v1h-2.50zM538.82 541h1.20v1h-1.20zM538.82 539h1.20v1h-1.20zM538.82 535h1.20v1h-1.20zM538.82 531h1.20v1h-1.20zM538.82 528h1.20v1h-1.20zM538.82 525h1.20v1h-1.20zM538.82 522h1.85v1h-1.85zM538.82 521h1.85v1h-1.85zM538.82 520h1.85v1h-1.85zM538.82 519h1.85v1h-1.85zM540.47 541h1.20v1h-1.20zM540.47 540h1.20v1h-1.20zM540.47 536h1.20v1h-1.20zM540.47 534h1.20v1h-1.20zM540.47 531h1.20v1h-1.20zM540.47 529h1.20v1h-1.20zM540.47 527h1.20v1h-1.20zM540.47 526h1.20v1h-1.20zM540.47 525h1.20v1h-1.20zM542.11 541h1.20v1h-1.20zM542.11 540h1.20v1h-1.20zM542.11 537h1.20v1h-1.20zM542.11 534h1.20v1h-1.20zM542.11 531h1.20v1h-1.20zM542.11 527h1.20v1h-1.20zM542.11 526h1.20v1h-1.20zM542.11 525h1.20v1h-1.20zM541.46 524h1.85v1h-1.85zM543.76 541h1.20v1h-1.20zM543.76 539h1.20v1h-1.20zM543.76 532h1.20v1h-1.20zM543.76 524h1.20v1h-1.20zM543.11 520h1.85v1h-1.85zM543.11 517h2.50v1h-2.50zM543.11 515h2.50v1h-2.50zM543.11 510h2.50v1h-2.50zM543.11 508h2.50v1h-2.50zM545.40 541h1.20v1h-1.20zM545.40 539h1.20v1h-1.20zM545.40 534h1.20v1h-1.20zM545.40 529h1.20v1h-1.20zM545.40 526h1.20v1h-1.20zM545.40 523h1.20v1h-1.20zM545.40 522h1.20v1h-1.20zM545.40 520h1.20v1h-1.20zM545.40 519h1.20v1h-1.20zM547.05 541h1.20v1h-1.20zM547.05 539h1.20v1h-1.20zM547.05 531h1.20v1h-1.20zM547.05 527h1.20v1h-1.20zM547.05 524h1.20v1h-1.20zM547.05 520h1.20v1h-1.20zM546.40 518h1.85v1h-1.85zM546.40 515h1.85v1h-1.85zM546.40 513h1.85v1h-1.85zM546.40 512h1.85v1h-1.85zM548.69 541h1.20v1h-1.20zM548.69 539h1.20v1h-1.20zM548.69 529h1.20v1h-1.20zM548.69 524h1.20v1h-1.20zM548.69 520h1.20v1h-1.20zM548.69 517h1.85v1h-1.85zM548.69 514h1.85v1h-1.85zM548.04 511h2.50v1h-2.50zM548.04 509h2.50v1h-2.50zM550.34 541h1.20v1h-1.20zM550.34 540h1.20v1h-1.20zM550.34 535h1.20v1h-1.20zM550.34 532h1.20v1h-1.20zM550.34 528h1.85v1h-1.85zM550.34 524h1.85v1h-1.85zM550.34 522h1.85v1h-1.85zM550.34 521h1.85v1h-1.85zM550.34 520h1.85v1h-1.85zM551.98 541h1.20v1h-1.20zM551.98 541h1.20v1h-1.20zM551.98 538h1.20v1h-1.20zM551.98 535h1.20v1h-1.20zM551.98 533h1.20v1h-1.20zM551.98 531h1.20v1h-1.20zM551.98 531h1.20v1h-1.20zM551.98 530h1.20v1h-1.20zM551.98 529h1.20v1h-1.20zM553.63 541h1.20v1h-1.20zM553.63 540h1.20v1h-1.20zM553.63 535h1.20v1h-1.20zM553.63 531h1.20v1h-1.20zM552.98 527h1.85v1h-1.85zM552.98 525h1.85v1h-1.85zM552.98 523h1.85v1h-1.85zM552.98 522h1.85v1h-1.85zM552.98 520h1.85v1h-1.85zM555.27 541h1.20v1h-1.20zM555.27 539h1.20v1h-1.20zM555.27 534h1.20v1h-1.20zM555.27 530h1.20v1h-1.20zM555.27 526h1.20v1h-1.20zM555.27 524h1.20v1h-1.20zM555.27 521h1.85v1h-1.85zM554.62 519h2.50v1h-2.50zM554.62 518h2.50v1h-2.50zM556.92 541h1.20v1h-1.20zM556.92 540h1.20v1h-1.20zM556.92 535h1.20v1h-1.20zM556.92 531h1.20v1h-1.20zM556.92 529h1.20v1h-1.20zM556.92 527h1.20v1h-1.20zM556.92 526h1.20v1h-1.20zM556.92 524h1.20v1h-1.20zM556.92 523h1.20v1h-1.20zM558.56 541h1.20v1h-1.20zM558.56 540h1.20v1h-1.20zM558.56 535h1.20v1h-1.20zM558.56 532h1.20v1h-1.20zM558.56 530h1.20v1h-1.20zM558.56 526h1.20v1h-1.20zM558.56 525h1.20v1h-1.20zM558.56 523h1.85v1h-1.85zM557.91 522h2.50v1h-2.50zM560.21 541h1.20v1h-1.20zM560.21 540h1.20v1h-1.20zM560.21 536h1.20v1h-1.20zM560.21 534h1.20v1h-1.20zM560.21 532h1.20v1h-1.20zM560.21 530h1.20v1h-1.20zM560.21 529h1.20v1h-1.20zM560.21 527h1.20v1h-1.20zM560.21 526h1.20v1h-1.20zM561.85 541h1.20v1h-1.20zM561.85 541h1.20v1h-1.20zM561.85 534h1.20v1h-1.20zM561.85 530h1.20v1h-1.20zM561.85 527h1.20v1h-1.20zM561.20 523h1.85v1h-1.85zM561.20 521h1.85v1h-1.85zM561.20 520h2.50v1h-2.50zM561.20 518h2.50v1h-2.50zM563.49 541h1.20v1h-1.20zM563.49 539h1.20v1h-1.20zM563.49 534h1.20v1h-1.20zM563.49 531h1.20v1h-1.20zM563.49 527h1.20v1h-1.20zM563.49 524h1.20v1h-1.20zM563.49 523h1.20v1h-1.20zM563.49 522h1.20v1h-1.20zM563.49 520h1.20v1h-1.20zM565.14 541h1.20v1h-1.20zM565.14 540h1.20v1h-1.20zM565.14 536h1.20v1h-1.20zM565.14 531h1.85v1h-1.85zM565.14 528h1.85v1h-1.85zM565.14 525h1.85v1h-1.85zM565.14 523h1.85v1h-1.85zM565.14 521h1.85v1h-1.85zM565.14 520h1.85v1h-1.85zM566.78 541h1.20v1h-1.20zM566.78 541h1.20v1h-1.20zM566.78 538h1.20v1h-1.20zM566.78 537h1.20v1h-1.20zM566.78 535h1.20v1h-1.20zM566.78 534h1.20v1h-1.20zM566.78 533h1.20v1h-1.20zM566.78 532h1.20v1h-1.20zM566.78 532h1.20v1h-1.20zM568.43 541h1.20v1h-1.20zM568.43 540h1.20v1h-1.20zM568.43 536h1.20v1h-1.20zM568.43 532h1.20v1h-1.20zM567.78 530h1.85v1h-1.85zM567.78 527h1.85v1h-1.85zM567.78 524h1.85v1h-1.85zM567.78 523h1.85v1h-1.85zM567.78 522h1.85v1h-1.85zM570.07 541h1.20v1h-1.20zM570.07 538h1.20v1h-1.20zM570.07 530h1.20v1h-1.20zM570.07 522h1.20v1h-1.20zM569.42 517h1.85v1h-1.85zM569.42 510h2.50v1h-2.50zM569.42 507h2.50v1h-2.50zM569.42 504h2.50v1h-2.50zM569.42 502h2.50v1h-2.50zM569.42 501h2.50v1h-2.50zM571.72 541h1.20v1h-1.20zM571.72 540h1.20v1h-1.20zM571.72 533h1.20v1h-1.20zM571.72 527h1.20v1h-1.20zM571.72 523h1.20v1h-1.20zM571.72 519h1.20v1h-1.20zM571.72 517h1.20v1h-1.20zM571.72 514h1.20v1h-1.20zM571.72 512h1.20v1h-1.20zM573.36 540h1.20v1h-1.20zM573.36 537h1.20v1h-1.20zM573.36 527h1.20v1h-1.20zM573.36 517h1.20v1h-1.20zM572.71 508h2.50v1h-2.50zM572.71 503h2.50v1h-2.50zM575.01 541h1.20v1h-1.20zM575.01 539h1.20v1h-1.20zM575.01 532h1.20v1h-1.20zM575.01 528h1.20v1h-1.20zM575.01 524h1.20v1h-1.20zM575.01 519h1.20v1h-1.20zM575.01 517h1.20v1h-1.20zM575.01 515h1.20v1h-1.20zM575.01 513h1.20v1h-1.20zM576.65 541h1.20v1h-1.20zM576.65 538h1.20v1h-1.20zM576.65 530h1.20v1h-1.20zM576.65 525h1.20v1h-1.20zM576.65 519h1.20v1h-1.20zM576.65 515h1.20v1h-1.20zM576.00 512h1.85v1h-1.85zM576.00 508h1.85v1h-1.85zM576.00 505h1.85v1h-1.85zM576.00 504h1.85v1h-1.85zM578.30 540h1.20v1h-1.20zM578.30 536h1.20v1h-1.20zM578.30 526h1.20v1h-1.20zM578.30 518h1.20v1h-1.20zM578.30 510h1.20v1h-1.20zM577.65 502h1.85v1h-1.85zM579.94 541h1.20v1h-1.20zM579.94 538h1.20v1h-1.20zM579.94 527h1.20v1h-1.20zM579.94 520h1.20v1h-1.20zM579.94 511h1.20v1h-1.20zM579.94 505h1.20v1h-1.20zM579.94 500h1.20v1h-1.20zM581.59 540h1.20v1h-1.20zM581.59 538h1.20v1h-1.20zM581.59 526h1.20v1h-1.20zM581.59 517h1.20v1h-1.20zM581.59 508h1.20v1h-1.20zM583.23 541h1.20v1h-1.20zM583.23 538h1.20v1h-1.20zM583.23 526h1.20v1h-1.20zM583.23 517h1.20v1h-1.20zM583.23 509h1.85v1h-1.85zM583.23 500h1.85v1h-1.85zM584.88 541h1.20v1h-1.20zM584.88 539h1.20v1h-1.20zM584.88 534h1.20v1h-1.20zM584.88 530h1.20v1h-1.20zM584.88 526h1.20v1h-1.20zM584.88 523h1.85v1h-1.85zM584.88 519h1.85v1h-1.85zM584.88 517h1.85v1h-1.85zM584.88 515h1.85v1h-1.85zM586.52 541h1.20v1h-1.20zM586.52 540h1.20v1h-1.20zM586.52 538h1.20v1h-1.20zM586.52 534h1.20v1h-1.20zM586.52 531h1.20v1h-1.20zM586.52 530h1.20v1h-1.20zM586.52 528h1.20v1h-1.20zM586.52 527h1.20v1h-1.20zM586.52 526h1.20v1h-1.20zM588.17 540h1.20v1h-1.20zM588.17 538h1.20v1h-1.20zM588.17 528h1.20v1h-1.20zM587.52 521h1.85v1h-1.85zM587.52 514h1.85v1h-1.85zM587.52 507h1.85v1h-1.85zM587.52 503h1.85v1h-1.85zM587.52 500h1.85v1h-1.85zM589.81 540h1.20v1h-1.20zM589.81 537h1.20v1h-1.20zM589.81 523h1.20v1h-1.20zM589.81 505h1.20v1h-1.20zM591.46 539h1.20v1h-1.20zM591.46 536h1.20v1h-1.20zM591.46 519h1.20v1h-1.20zM591.46 507h1.20v1h-1.20zM593.10 540h1.20v1h-1.20zM593.10 536h1.20v1h-1.20zM593.10 524h1.20v1h-1.20zM593.10 512h1.20v1h-1.20zM593.10 500h1.20v1h-1.20zM594.75 540h1.20v1h-1.20zM594.75 538h1.20v1h-1.20zM594.75 527h1.20v1h-1.20zM594.75 517h1.20v1h-1.20zM594.75 506h1.20v1h-1.20zM596.39 541h1.20v1h-1.20zM596.39 537h1.20v1h-1.20zM596.39 527h1.20v1h-1.20zM596.39 516h1.85v1h-1.85zM596.39 510h1.85v1h-1.85zM596.39 503h1.85v1h-1.85zM598.04 541h1.20v1h-1.20zM598.04 539h1.20v1h-1.20zM598.04 536h1.20v1h-1.20zM598.04 531h1.20v1h-1.20zM598.04 527h1.20v1h-1.20zM598.04 523h1.20v1h-1.20zM598.04 521h1.20v1h-1.20zM598.04 519h1.20v1h-1.20zM598.04 517h1.85v1h-1.85zM599.68 541h1.20v1h-1.20zM599.68 539h1.20v1h-1.20zM599.68 535h1.20v1h-1.20zM599.68 533h1.20v1h-1.20zM599.68 528h1.20v1h-1.20zM599.68 525h1.20v1h-1.20zM599.68 522h1.20v1h-1.20zM599.68 520h1.20v1h-1.20zM599.68 519h1.20v1h-1.20zM601.32 540h1.20v1h-1.20zM601.32 538h1.20v1h-1.20zM601.32 527h1.20v1h-1.20zM601.32 523h1.20v1h-1.20zM600.67 515h1.85v1h-1.85zM600.67 508h1.85v1h-1.85zM600.67 503h1.85v1h-1.85zM602.97 539h1.20v1h-1.20zM602.97 534h1.20v1h-1.20zM602.97 515h1.20v1h-1.20zM602.97 500h1.20v1h-1.20zM604.61 539h1.20v1h-1.20zM604.61 534h1.20v1h-1.20zM604.61 522h1.20v1h-1.20zM604.61 506h1.20v1h-1.20zM606.26 539h1.20v1h-1.20zM606.26 532h1.20v1h-1.20zM606.26 521h1.20v1h-1.20zM606.26 508h1.20v1h-1.20zM607.90 541h1.20v1h-1.20zM607.90 536h1.20v1h-1.20zM607.90 526h1.20v1h-1.20zM607.90 517h1.85v1h-1.85zM607.90 509h1.85v1h-1.85zM607.90 501h1.85v1h-1.85zM609.55 541h1.20v1h-1.20zM609.55 539h1.20v1h-1.20zM609.55 534h1.20v1h-1.20zM609.55 531h1.20v1h-1.20zM609.55 529h1.20v1h-1.20zM609.55 525h1.20v1h-1.20zM609.55 522h1.20v1h-1.20zM609.55 521h1.20v1h-1.20zM609.55 519h1.20v1h-1.20zM611.19 541h1.20v1h-1.20zM611.19 538h1.20v1h-1.20zM611.19 532h1.20v1h-1.20zM611.19 526h1.20v1h-1.20zM610.54 518h1.85v1h-1.85zM610.54 512h1.85v1h-1.85zM610.54 507h1.85v1h-1.85zM610.54 503h1.85v1h-1.85zM610.54 500h1.85v1h-1.85zM612.84 539h1.20v1h-1.20zM612.84 535h1.20v1h-1.20zM612.84 522h1.20v1h-1.20zM612.84 508h1.20v1h-1.20zM614.48 539h1.20v1h-1.20zM614.48 534h1.20v1h-1.20zM614.48 526h1.20v1h-1.20zM614.48 510h1.20v1h-1.20zM616.13 539h1.20v1h-1.20zM616.13 534h1.20v1h-1.20zM616.13 523h1.20v1h-1.20zM616.13 513h1.20v1h-1.20zM616.13 500h1.20v1h-1.20zM617.77 540h1.20v1h-1.20zM617.77 535h1.20v1h-1.20zM617.77 527h1.20v1h-1.20zM617.77 514h1.20v1h-1.20zM617.77 506h1.20v1h-1.20zM619.42 541h1.20v1h-1.20zM619.42 538h1.20v1h-1.20zM619.42 529h1.20v1h-1.20zM619.42 524h1.20v1h-1.20zM619.42 520h1.20v1h-1.20zM619.42 514h1.85v1h-1.85zM619.42 510h1.85v1h-1.85zM619.42 507h1.85v1h-1.85zM619.42 504h1.85v1h-1.85zM621.06 541h1.20v1h-1.20zM621.06 540h1.20v1h-1.20zM621.06 535h1.20v1h-1.20zM621.06 531h1.20v1h-1.20zM621.06 528h1.20v1h-1.20zM621.06 524h1.20v1h-1.20zM621.06 522h1.20v1h-1.20zM621.06 520h1.20v1h-1.20zM621.06 518h1.20v1h-1.20zM622.71 540h1.20v1h-1.20zM622.71 537h1.20v1h-1.20zM622.71 529h1.20v1h-1.20zM622.71 523h1.20v1h-1.20zM622.06 516h1.85v1h-1.85zM622.06 510h1.85v1h-1.85zM622.06 504h1.85v1h-1.85zM624.35 540h1.20v1h-1.20zM624.35 536h1.20v1h-1.20zM624.35 522h1.20v1h-1.20zM624.35 512h1.20v1h-1.20zM626.00 539h1.20v1h-1.20zM626.00 534h1.20v1h-1.20zM626.00 520h1.20v1h-1.20zM626.00 505h1.20v1h-1.20zM627.64 540h1.20v1h-1.20zM627.64 534h1.20v1h-1.20zM627.64 515h1.20v1h-1.20zM629.29 539h1.20v1h-1.20zM629.29 533h1.20v1h-1.20zM629.29 516h1.20v1h-1.20zM629.29 505h1.20v1h-1.20zM630.93 539h1.20v1h-1.20zM630.93 533h1.20v1h-1.20zM630.93 517h1.20v1h-1.20zM630.93 504h1.20v1h-1.20zM632.58 540h1.20v1h-1.20zM632.58 537h1.20v1h-1.20zM632.58 529h1.20v1h-1.20zM632.58 519h1.20v1h-1.20zM632.58 509h1.20v1h-1.20zM634.22 541h1.20v1h-1.20zM634.22 538h1.20v1h-1.20zM634.22 533h1.20v1h-1.20zM634.22 526h1.20v1h-1.20zM634.22 520h1.20v1h-1.20zM634.22 513h1.20v1h-1.20zM634.22 509h1.20v1h-1.20zM634.22 505h1.20v1h-1.20zM634.22 503h1.20v1h-1.20zM635.86 540h1.20v1h-1.20zM635.86 536h1.20v1h-1.20zM635.86 524h1.20v1h-1.20zM635.86 515h1.20v1h-1.20zM635.86 504h1.20v1h-1.20zM637.51 539h1.20v1h-1.20zM637.51 533h1.20v1h-1.20zM637.51 515h1.20v1h-1.20zM637.51 502h1.20v1h-1.20zM639.15 538h1.20v1h-1.20zM639.15 530h1.20v1h-1.20zM639.15 510h1.20v1h-1.20zM640.80 539h1.20v1h-1.20zM640.80 535h1.20v1h-1.20zM640.80 518h1.20v1h-1.20zM640.80 504h1.20v1h-1.20zM642.44 538h1.20v1h-1.20zM642.44 530h1.20v1h-1.20zM642.44 508h1.20v1h-1.20zM644.09 539h1.20v1h-1.20zM644.09 533h1.20v1h-1.20zM644.09 514h1.20v1h-1.20zM645.73 539h1.20v1h-1.20zM645.73 531h1.20v1h-1.20zM645.73 512h1.20v1h-1.20zM647.38 538h1.20v1h-1.20zM647.38 530h1.20v1h-1.20zM647.38 507h1.20v1h-1.20zM649.02 539h1.20v1h-1.20zM649.02 531h1.20v1h-1.20zM649.02 512h1.20v1h-1.20zM650.67 538h1.20v1h-1.20zM650.67 528h1.20v1h-1.20zM652.31 537h1.20v1h-1.20zM652.31 528h1.20v1h-1.20zM653.96 538h1.20v1h-1.20zM653.96 527h1.20v1h-1.20zM655.60 538h1.20v1h-1.20zM655.60 530h1.20v1h-1.20zM655.60 500h1.20v1h-1.20zM657.25 539h1.20v1h-1.20zM657.25 528h1.20v1h-1.20zM658.89 535h1.20v1h-1.20zM658.89 526h1.20v1h-1.20zM660.54 538h1.20v1h-1.20zM660.54 530h1.20v1h-1.20zM662.18 536h1.20v1h-1.20zM662.18 519h1.20v1h-1.20zM663.83 538h1.20v1h-1.20zM663.83 527h1.20v1h-1.20zM665.47 538h1.20v1h-1.20zM665.47 524h1.20v1h-1.20zM667.12 537h1.20v1h-1.20zM667.12 522h1.20v1h-1.20zM668.76 536h1.20v1h-1.20zM668.76 520h1.20v1h-1.20zM670.40 536h1.20v1h-1.20zM670.40 520h1.20v1h-1.20zM672.05 533h1.20v1h-1.20zM672.05 517h1.20v1h-1.20zM673.69 536h1.20v1h-1.20zM673.69 512h1.20v1h-1.20zM675.34 533h1.20v1h-1.20zM675.34 510h1.20v1h-1.20zM676.98 533h1.20v1h-1.20zM676.98 508h1.20v1h-1.20zM678.63 536h1.20v1h-1.20zM678.63 518h1.20v1h-1.20zM680.27 533h1.20v1h-1.20zM680.27 513h1.20v1h-1.20zM681.92 534h1.20v1h-1.20zM681.92 516h1.20v1h-1.20zM683.56 536h1.20v1h-1.20zM683.56 520h1.20v1h-1.20zM685.21 533h1.20v1h-1.20zM685.21 514h1.20v1h-1.20zM686.85 534h1.20v1h-1.20zM686.85 509h1.20v1h-1.20zM688.50 534h1.20v1h-1.20zM688.50 506h1.20v1h-1.20zM690.14 534h1.20v1h-1.20zM690.14 508h1.20v1h-1.20zM691.79 529h1.20v1h-1.20zM691.79 511h1.20v1h-1.20zM693.43 533h1.20v1h-1.20zM693.43 515h1.20v1h-1.20zM695.08 535h1.20v1h-1.20zM695.08 514h1.20v1h-1.20zM696.72 533h1.20v1h-1.20zM696.72 517h1.20v1h-1.20zM698.37 534h1.20v1h-1.20zM698.37 520h1.20v1h-1.20zM700.01 533h1.20v1h-1.20zM700.01 516h1.20v1h-1.20zM701.66 536h1.20v1h-1.20zM701.66 526h1.20v1h-1.20zM701.66 504h1.20v1h-1.20zM703.30 538h1.20v1h-1.20zM703.30 529h1.20v1h-1.20zM703.30 508h1.20v1h-1.20zM704.95 534h1.20v1h-1.20zM704.95 524h1.20v1h-1.20zM706.59 538h1.20v1h-1.20zM706.59 531h1.20v1h-1.20zM708.23 537h1.20v1h-1.20zM708.23 529h1.20v1h-1.20zM708.23 506h1.20v1h-1.20zM709.88 536h1.20v1h-1.20zM709.88 526h1.20v1h-1.20zM711.52 537h1.20v1h-1.20zM711.52 528h1.20v1h-1.20zM711.52 507h1.20v1h-1.20zM713.17 539h1.20v1h-1.20zM713.17 533h1.20v1h-1.20zM713.17 521h1.20v1h-1.20zM713.17 509h1.20v1h-1.20zM714.81 539h1.20v1h-1.20zM714.81 532h1.20v1h-1.20zM714.81 519h1.20v1h-1.20zM714.81 508h1.20v1h-1.20zM716.46 538h1.20v1h-1.20zM716.46 533h1.20v1h-1.20zM716.46 521h1.20v1h-1.20zM716.46 508h1.20v1h-1.20zM718.10 539h1.20v1h-1.20zM718.10 533h1.20v1h-1.20zM718.10 522h1.20v1h-1.20zM718.10 509h1.20v1h-1.20zM719.75 538h1.20v1h-1.20zM719.75 534h1.20v1h-1.20zM719.75 525h1.20v1h-1.20zM719.75 518h1.20v1h-1.20zM719.75 506h1.20v1h-1.20zM721.39 538h1.20v1h-1.20zM721.39 532h1.20v1h-1.20zM721.39 518h1.20v1h-1.20zM721.39 506h1.20v1h-1.20zM723.04 538h1.20v1h-1.20zM723.04 533h1.20v1h-1.20zM723.04 522h1.20v1h-1.20zM723.04 510h1.20v1h-1.20zM723.04 502h1.20v1h-1.20zM724.68 539h1.20v1h-1.20zM724.68 536h1.20v1h-1.20zM724.68 528h1.20v1h-1.20zM724.68 522h1.20v1h-1.20zM724.68 512h1.20v1h-1.20zM724.68 503h1.20v1h-1.20zM726.33 539h1.20v1h-1.20zM726.33 537h1.20v1h-1.20zM726.33 528h1.20v1h-1.20zM726.33 520h1.20v1h-1.20zM726.33 513h1.20v1h-1.20zM726.33 504h1.20v1h-1.20zM727.97 539h1.20v1h-1.20zM727.97 536h1.20v1h-1.20zM727.97 529h1.20v1h-1.20zM727.97 522h1.20v1h-1.20zM727.97 513h1.20v1h-1.20zM727.97 507h1.20v1h-1.20zM727.97 501h1.20v1h-1.20zM729.62 540h1.20v1h-1.20zM729.62 538h1.20v1h-1.20zM729.62 525h1.20v1h-1.20zM729.62 517h1.20v1h-1.20zM729.62 509h1.20v1h-1.20zM729.62 500h1.20v1h-1.20zM731.26 540h1.20v1h-1.20zM731.26 536h1.20v1h-1.20zM731.26 527h1.20v1h-1.20zM731.26 519h1.20v1h-1.20zM731.26 513h1.20v1h-1.20zM731.26 504h1.20v1h-1.20zM732.91 541h1.20v1h-1.20zM732.91 539h1.20v1h-1.20zM732.91 533h1.20v1h-1.20zM732.91 527h1.20v1h-1.20zM732.91 522h1.20v1h-1.20zM732.91 516h1.20v1h-1.20zM732.91 512h1.20v1h-1.20zM732.91 508h1.20v1h-1.20zM732.91 505h1.85v1h-1.85zM734.55 540h1.20v1h-1.20zM734.55 537h1.20v1h-1.20zM734.55 533h1.20v1h-1.20zM734.55 529h1.20v1h-1.20zM734.55 524h1.20v1h-1.20zM734.55 518h1.20v1h-1.20zM734.55 514h1.20v1h-1.20zM734.55 510h1.20v1h-1.20zM734.55 508h1.85v1h-1.85zM736.20 540h1.20v1h-1.20zM736.20 538h1.20v1h-1.20zM736.20 534h1.20v1h-1.20zM736.20 529h1.20v1h-1.20zM736.20 525h1.20v1h-1.20zM736.20 522h1.20v1h-1.20zM736.20 517h1.20v1h-1.20zM736.20 513h1.20v1h-1.20zM736.20 511h1.20v1h-1.20zM736.20 510h1.20v1h-1.20zM737.84 540h1.20v1h-1.20zM737.84 536h1.20v1h-1.20zM737.84 530h1.20v1h-1.20zM737.84 526h1.20v1h-1.20zM737.84 517h1.20v1h-1.20zM737.19 509h1.85v1h-1.85zM737.19 503h1.85v1h-1.85zM739.49 540h1.20v1h-1.20zM739.49 538h1.20v1h-1.20zM739.49 531h1.20v1h-1.20zM739.49 526h1.20v1h-1.20zM739.49 519h1.20v1h-1.20zM739.49 513h1.20v1h-1.20zM739.49 507h1.20v1h-1.20zM739.49 502h1.20v1h-1.20zM741.13 539h1.20v1h-1.20zM741.13 536h1.20v1h-1.20zM741.13 526h1.20v1h-1.20zM741.13 519h1.20v1h-1.20zM741.13 513h1.20v1h-1.20zM741.13 505h1.20v1h-1.20zM741.13 500h1.20v1h-1.20zM742.77 540h1.20v1h-1.20zM742.77 536h1.20v1h-1.20zM742.77 527h1.20v1h-1.20zM742.77 520h1.20v1h-1.20zM742.77 513h1.20v1h-1.20zM742.77 508h1.20v1h-1.20zM742.77 503h1.20v1h-1.20zM744.42 540h1.20v1h-1.20zM744.42 537h1.20v1h-1.20zM744.42 531h1.20v1h-1.20zM744.42 525h1.20v1h-1.20zM744.42 519h1.20v1h-1.20zM744.42 513h1.20v1h-1.20zM744.42 508h1.20v1h-1.20zM744.42 503h1.85v1h-1.85zM744.42 500h1.85v1h-1.85zM744.42 500h1.85v1h-1.85zM746.06 540h1.20v1h-1.20zM746.06 538h1.20v1h-1.20zM746.06 534h1.20v1h-1.20zM746.06 529h1.20v1h-1.20zM746.06 524h1.20v1h-1.20zM746.06 519h1.20v1h-1.20zM746.06 514h1.20v1h-1.20zM746.06 509h1.20v1h-1.20zM746.06 506h1.85v1h-1.85zM747.71 541h1.20v1h-1.20zM747.71 538h1.20v1h-1.20zM747.71 532h1.20v1h-1.20zM747.71 527h1.20v1h-1.20zM747.71 522h1.20v1h-1.20zM747.71 519h1.20v1h-1.20zM747.71 515h1.20v1h-1.20zM747.71 510h1.20v1h-1.20zM747.71 507h1.20v1h-1.20zM749.35 540h1.20v1h-1.20zM749.35 538h1.20v1h-1.20zM749.35 532h1.20v1h-1.20zM749.35 526h1.20v1h-1.20zM749.35 522h1.20v1h-1.20zM749.35 517h1.20v1h-1.20zM749.35 513h1.20v1h-1.20zM749.35 510h1.20v1h-1.20zM748.70 506h1.85v1h-1.85zM751.00 540h1.20v1h-1.20zM751.00 539h1.20v1h-1.20zM751.00 530h1.20v1h-1.20zM751.00 525h1.20v1h-1.20zM751.00 520h1.20v1h-1.20zM751.00 513h1.20v1h-1.20zM751.00 508h1.20v1h-1.20zM750.35 504h1.85v1h-1.85zM750.35 501h2.50v1h-2.50zM750.35 500h2.50v1h-2.50zM752.64 541h1.20v1h-1.20zM752.64 539h1.20v1h-1.20zM752.64 533h1.20v1h-1.20zM752.64 528h1.20v1h-1.20zM752.64 522h1.20v1h-1.20zM752.64 514h1.20v1h-1.20zM752.64 511h1.20v1h-1.20zM752.64 508h1.20v1h-1.20zM752.64 504h1.20v1h-1.20zM752.64 503h1.20v1h-1.20zM754.29 540h1.20v1h-1.20zM754.29 537h1.20v1h-1.20zM754.29 531h1.20v1h-1.20zM754.29 524h1.20v1h-1.20zM754.29 518h1.20v1h-1.20zM754.29 512h1.20v1h-1.20zM754.29 507h1.20v1h-1.20zM753.64 503h1.85v1h-1.85zM755.93 539h1.85v1h-1.85zM755.93 534h1.85v1h-1.85zM755.93 524h1.85v1h-1.85zM755.93 517h1.85v1h-1.85zM755.93 509h1.85v1h-1.85zM755.93 502h1.85v1h-1.85z"/><path fill="#2d2b38" d="M419.75 498h2.50v1h-2.50zM419.75 497h2.50v1h-2.50zM423.04 498h2.50v1h-2.50zM423.04 495h2.50v1h-2.50zM431.26 497h2.50v1h-2.50zM431.26 496h2.50v1h-2.50zM434.55 495h2.50v1h-2.50zM434.55 492h2.50v1h-2.50zM434.55 491h2.50v1h-2.50zM572.71 497h2.50v1h-2.50zM572.71 493h2.50v1h-2.50zM572.71 490h2.50v1h-2.50zM577.65 496h1.85v1h-1.85zM577.65 493h1.85v1h-1.85zM577.65 490h2.50v1h-2.50zM577.65 489h2.50v1h-2.50zM579.94 496h1.20v1h-1.20zM579.94 493h1.20v1h-1.20zM579.94 492h1.20v1h-1.20zM581.59 499h1.20v1h-1.20zM581.59 492h1.20v1h-1.20zM580.94 489h1.85v1h-1.85zM580.94 487h1.85v1h-1.85zM580.94 486h1.85v1h-1.85zM583.23 494h1.85v1h-1.85zM583.23 490h1.85v1h-1.85zM583.23 487h1.85v1h-1.85zM583.23 486h1.85v1h-1.85zM587.52 497h1.85v1h-1.85zM589.16 492h1.85v1h-1.85zM589.16 478h1.85v1h-1.85zM589.16 468h1.85v1h-1.85zM589.16 462h1.85v1h-1.85zM589.16 458h2.50v1h-2.50zM589.16 456h2.50v1h-2.50zM591.46 495h1.20v1h-1.20zM591.46 482h1.20v1h-1.20zM591.46 474h1.20v1h-1.20zM591.46 469h1.20v1h-1.20zM591.46 465h1.85v1h-1.85zM591.46 462h1.85v1h-1.85zM593.10 486h1.20v1h-1.20zM593.10 479h1.85v1h-1.85zM593.10 474h1.85v1h-1.85zM593.10 470h1.85v1h-1.85zM593.10 469h1.85v1h-1.85zM594.75 496h1.20v1h-1.20zM594.75 491h1.20v1h-1.20zM594.75 487h1.20v1h-1.20zM594.75 483h1.85v1h-1.85zM594.75 482h1.85v1h-1.85zM596.39 496h1.85v1h-1.85zM596.39 489h1.85v1h-1.85zM596.39 486h1.85v1h-1.85zM596.39 484h1.85v1h-1.85zM600.67 499h1.85v1h-1.85zM600.67 497h1.85v1h-1.85zM600.67 496h1.85v1h-1.85zM602.32 479h1.85v1h-1.85zM602.32 469h1.85v1h-1.85zM602.32 462h1.85v1h-1.85zM602.32 455h2.50v1h-2.50zM604.61 498h1.20v1h-1.20zM604.61 484h1.20v1h-1.20zM604.61 476h1.20v1h-1.20zM604.61 469h1.20v1h-1.20zM604.61 462h1.85v1h-1.85zM604.61 460h1.85v1h-1.85zM606.26 496h1.20v1h-1.20zM606.26 484h1.85v1h-1.85zM606.26 476h1.85v1h-1.85zM606.26 472h1.85v1h-1.85zM606.26 467h1.85v1h-1.85zM606.26 465h1.85v1h-1.85zM607.90 496h1.85v1h-1.85zM607.90 493h1.85v1h-1.85zM607.90 489h1.85v1h-1.85zM607.90 487h1.85v1h-1.85zM612.19 496h1.85v1h-1.85zM612.19 484h1.85v1h-1.85zM612.19 477h1.85v1h-1.85zM612.19 471h1.85v1h-1.85zM612.19 464h2.50v1h-2.50zM612.19 462h2.50v1h-2.50zM614.48 499h1.20v1h-1.20zM614.48 488h1.20v1h-1.20zM614.48 481h1.20v1h-1.20zM614.48 475h1.20v1h-1.20zM614.48 470h1.20v1h-1.20zM614.48 469h1.85v1h-1.85zM616.13 488h1.20v1h-1.20zM616.13 482h1.20v1h-1.20zM616.13 476h1.20v1h-1.20zM616.13 472h1.85v1h-1.85zM616.13 470h1.85v1h-1.85zM617.77 493h1.85v1h-1.85zM617.77 485h1.85v1h-1.85zM617.77 482h1.85v1h-1.85zM617.77 478h1.85v1h-1.85zM617.77 476h1.85v1h-1.85zM622.06 499h1.85v1h-1.85zM622.06 496h1.85v1h-1.85zM623.70 492h1.85v1h-1.85zM623.70 472h1.85v1h-1.85zM623.70 466h1.85v1h-1.85zM623.70 460h2.50v1h-2.50zM623.70 453h2.50v1h-2.50zM623.70 450h2.50v1h-2.50zM626.00 496h1.20v1h-1.20zM626.00 483h1.20v1h-1.20zM626.00 477h1.20v1h-1.20zM626.00 471h1.20v1h-1.20zM626.00 467h1.20v1h-1.20zM626.00 465h1.20v1h-1.20zM627.64 497h1.20v1h-1.20zM627.64 480h1.20v1h-1.20zM626.99 462h1.85v1h-1.85zM626.99 451h2.50v1h-2.50zM629.29 491h1.20v1h-1.20zM629.29 480h1.20v1h-1.20zM629.29 470h1.20v1h-1.20zM629.29 464h1.20v1h-1.20zM629.29 458h1.85v1h-1.85zM629.29 456h1.85v1h-1.85zM630.93 491h1.20v1h-1.20zM630.93 481h1.85v1h-1.85zM630.93 473h1.85v1h-1.85zM630.93 467h1.85v1h-1.85zM630.93 463h1.85v1h-1.85zM630.93 461h1.85v1h-1.85zM632.58 499h1.85v1h-1.85zM632.58 493h1.85v1h-1.85zM632.58 489h1.85v1h-1.85zM632.58 486h1.85v1h-1.85zM632.58 484h1.85v1h-1.85zM635.21 493h1.85v1h-1.85zM635.21 486h1.85v1h-1.85zM635.21 481h1.85v1h-1.85zM635.21 474h1.85v1h-1.85zM635.21 472h1.85v1h-1.85zM637.51 489h1.20v1h-1.20zM636.86 471h1.85v1h-1.85zM636.86 458h1.85v1h-1.85zM636.86 452h1.85v1h-1.85zM639.15 488h1.20v1h-1.20zM639.15 466h1.20v1h-1.20zM640.80 490h1.20v1h-1.20zM640.80 478h1.20v1h-1.20zM640.80 468h1.20v1h-1.20zM640.80 459h1.20v1h-1.20zM640.80 452h1.20v1h-1.20zM642.44 490h1.20v1h-1.20zM642.44 473h1.20v1h-1.20zM642.44 455h1.20v1h-1.20zM644.09 499h1.20v1h-1.20zM644.09 488h1.20v1h-1.20zM644.09 476h1.20v1h-1.20zM644.09 469h1.20v1h-1.20zM644.09 462h1.20v1h-1.20zM644.09 456h1.20v1h-1.20zM644.09 454h1.20v1h-1.20zM645.73 496h1.20v1h-1.20zM645.73 484h1.20v1h-1.20zM645.73 468h1.20v1h-1.20zM645.73 459h1.20v1h-1.20zM645.08 452h1.85v1h-1.85zM647.38 486h1.20v1h-1.20zM647.38 464h1.20v1h-1.20zM649.02 486h1.20v1h-1.20zM649.02 466h1.20v1h-1.20zM650.67 488h1.20v1h-1.20zM650.67 452h1.20v1h-1.20zM652.31 492h1.20v1h-1.20zM652.31 464h1.20v1h-1.20zM653.96 483h1.20v1h-1.20zM653.96 461h1.20v1h-1.20zM655.60 477h1.20v1h-1.20zM655.60 451h1.20v1h-1.20zM657.25 498h1.20v1h-1.20zM657.25 472h1.20v1h-1.20zM657.25 454h1.20v1h-1.20zM658.89 486h1.20v1h-1.20zM658.89 457h1.20v1h-1.20zM660.54 474h1.20v1h-1.20zM660.54 457h1.20v1h-1.20zM662.18 471h1.20v1h-1.20zM663.83 478h1.20v1h-1.20zM663.83 451h1.20v1h-1.20zM665.47 496h1.20v1h-1.20zM665.47 472h1.20v1h-1.20zM667.12 488h1.20v1h-1.20zM667.12 468h1.20v1h-1.20zM668.76 470h1.20v1h-1.20zM670.40 475h1.20v1h-1.20zM675.34 453h1.20v1h-1.20zM678.63 457h1.20v1h-1.20zM695.08 455h1.20v1h-1.20zM696.72 475h1.20v1h-1.20zM698.37 490h1.20v1h-1.20zM698.37 459h1.20v1h-1.20zM700.01 479h1.20v1h-1.20zM701.66 485h1.20v1h-1.20zM701.66 463h1.20v1h-1.20zM703.30 492h1.20v1h-1.20zM703.30 463h1.20v1h-1.20zM704.95 488h1.20v1h-1.20zM704.95 475h1.20v1h-1.20zM704.95 457h1.20v1h-1.20zM706.59 499h1.20v1h-1.20zM706.59 479h1.20v1h-1.20zM706.59 458h1.20v1h-1.20zM708.23 486h1.20v1h-1.20zM708.23 472h1.20v1h-1.20zM709.88 496h1.20v1h-1.20zM709.88 479h1.20v1h-1.20zM709.88 455h1.20v1h-1.20zM711.52 490h1.20v1h-1.20zM711.52 471h1.20v1h-1.20zM713.17 495h1.20v1h-1.20zM713.17 483h1.20v1h-1.20zM713.17 471h1.20v1h-1.20zM713.17 462h1.20v1h-1.20zM713.17 457h1.20v1h-1.20zM713.17 455h1.20v1h-1.20zM714.81 498h1.20v1h-1.20zM714.81 486h1.20v1h-1.20zM714.81 471h1.20v1h-1.20zM714.81 464h1.20v1h-1.20zM714.81 457h1.20v1h-1.20zM714.16 454h1.85v1h-1.85zM716.46 492h1.20v1h-1.20zM716.46 479h1.20v1h-1.20zM716.46 471h1.20v1h-1.20zM716.46 464h1.20v1h-1.20zM716.46 456h1.85v1h-1.85zM715.81 453h2.50v1h-2.50zM718.10 498h1.20v1h-1.20zM718.10 484h1.20v1h-1.20zM718.10 473h1.20v1h-1.20zM718.10 466h1.85v1h-1.85zM718.10 460h1.85v1h-1.85zM718.10 458h1.85v1h-1.85zM719.75 495h1.20v1h-1.20zM719.75 487h1.20v1h-1.20zM719.75 481h1.20v1h-1.20zM719.75 475h1.20v1h-1.20zM719.75 472h1.20v1h-1.20zM721.39 488h1.20v1h-1.20zM721.39 474h1.20v1h-1.20zM720.74 453h2.50v1h-2.50zM723.04 492h1.20v1h-1.20zM723.04 483h1.20v1h-1.20zM723.04 475h1.85v1h-1.85zM723.04 469h1.85v1h-1.85zM723.04 466h1.85v1h-1.85zM724.68 496h1.20v1h-1.20zM724.68 489h1.20v1h-1.20zM724.68 483h1.85v1h-1.85zM724.68 480h1.85v1h-1.85zM726.33 498h1.20v1h-1.20zM726.33 489h1.20v1h-1.20zM726.33 485h1.85v1h-1.85zM726.33 484h1.85v1h-1.85zM727.97 495h1.20v1h-1.20zM727.97 489h1.20v1h-1.20zM729.62 492h1.20v1h-1.20zM728.97 482h2.50v1h-2.50zM728.97 477h2.50v1h-2.50zM728.97 476h2.50v1h-2.50zM731.26 498h1.85v1h-1.85zM731.26 491h1.85v1h-1.85zM731.26 487h1.85v1h-1.85zM731.26 486h1.85v1h-1.85zM737.19 498h1.85v1h-1.85zM737.19 494h2.50v1h-2.50zM737.19 493h2.50v1h-2.50zM739.49 496h1.20v1h-1.20zM740.48 494h1.85v1h-1.85zM740.48 489h2.50v1h-2.50zM740.48 488h2.50v1h-2.50zM742.77 498h1.85v1h-1.85zM742.77 494h1.85v1h-1.85zM742.77 493h1.85v1h-1.85zM753.64 499h1.85v1h-1.85zM755.28 494h2.50v1h-2.50zM755.28 488h2.50v1h-2.50zM755.28 481h2.50v1h-2.50zM755.28 480h2.50v1h-2.50z"/><path fill="#282632" d="M602.32 448h2.50v1h-2.50zM602.32 446h2.50v1h-2.50zM626.99 443h2.50v1h-2.50zM626.99 436h2.50v1h-2.50zM626.99 434h2.50v1h-2.50zM636.86 447h1.85v1h-1.85zM636.86 445h1.85v1h-1.85zM639.15 449h1.20v1h-1.20zM638.50 439h2.50v1h-2.50zM638.50 428h2.50v1h-2.50zM638.50 422h2.50v1h-2.50zM638.50 419h2.50v1h-2.50zM640.80 449h1.20v1h-1.20zM641.79 443h2.50v1h-2.50zM641.79 432h2.50v1h-2.50zM641.79 424h2.50v1h-2.50zM641.79 422h2.50v1h-2.50zM645.08 448h1.85v1h-1.85zM645.08 445h1.85v1h-1.85zM646.73 443h1.85v1h-1.85zM646.73 428h1.85v1h-1.85zM646.73 418h1.85v1h-1.85zM646.73 412h2.50v1h-2.50zM646.73 409h2.50v1h-2.50zM649.02 444h1.20v1h-1.20zM649.02 434h1.20v1h-1.20zM649.02 428h1.20v1h-1.20zM649.02 418h1.20v1h-1.20zM649.02 415h1.20v1h-1.20zM650.67 423h1.20v1h-1.20zM652.31 441h1.20v1h-1.20zM652.31 415h1.20v1h-1.20zM652.31 403h1.20v1h-1.20zM653.96 425h1.20v1h-1.20zM655.60 431h1.20v1h-1.20zM655.60 421h1.20v1h-1.20zM655.60 412h1.20v1h-1.20zM655.60 405h1.85v1h-1.85zM655.60 403h1.85v1h-1.85zM657.25 436h1.20v1h-1.20zM657.25 428h1.20v1h-1.20zM657.25 419h1.20v1h-1.20zM657.25 413h1.20v1h-1.20zM657.25 410h1.20v1h-1.20zM658.89 427h1.20v1h-1.20zM658.89 410h1.20v1h-1.20zM660.54 433h1.20v1h-1.20zM660.54 413h1.20v1h-1.20zM660.54 402h1.20v1h-1.20zM662.18 445h1.20v1h-1.20zM662.18 400h1.20v1h-1.20zM663.83 415h1.20v1h-1.20zM665.47 449h1.20v1h-1.20zM665.47 424h1.20v1h-1.20zM665.47 413h1.20v1h-1.20zM665.47 401h1.20v1h-1.20zM667.12 437h1.20v1h-1.20zM667.12 414h1.20v1h-1.20zM667.12 403h1.20v1h-1.20zM668.76 434h1.20v1h-1.20zM668.76 400h1.20v1h-1.20zM670.40 436h1.20v1h-1.20zM670.40 401h1.20v1h-1.20zM672.05 448h1.20v1h-1.20zM672.05 410h1.20v1h-1.20zM673.69 443h1.20v1h-1.20zM673.69 407h1.20v1h-1.20zM675.34 411h1.20v1h-1.20zM676.98 438h1.20v1h-1.20zM678.63 410h1.20v1h-1.20zM680.27 447h1.20v1h-1.20zM681.92 419h1.20v1h-1.20zM683.56 431h1.20v1h-1.20zM685.21 427h1.20v1h-1.20zM686.85 428h1.20v1h-1.20zM688.50 427h1.20v1h-1.20zM690.14 435h1.20v1h-1.20zM691.79 425h1.20v1h-1.20zM693.43 442h1.20v1h-1.20zM693.43 402h1.20v1h-1.20zM695.08 415h1.20v1h-1.20zM696.72 436h1.20v1h-1.20zM696.72 402h1.20v1h-1.20zM698.37 427h1.20v1h-1.20zM700.01 446h1.20v1h-1.20zM700.01 417h1.20v1h-1.20zM701.66 440h1.20v1h-1.20zM701.66 419h1.20v1h-1.20zM701.66 402h1.20v1h-1.20zM703.30 445h1.20v1h-1.20zM703.30 424h1.20v1h-1.20zM703.30 411h1.20v1h-1.20zM704.95 436h1.20v1h-1.20zM704.95 423h1.20v1h-1.20zM704.95 410h1.20v1h-1.20zM706.59 436h1.20v1h-1.20zM706.59 413h1.20v1h-1.20zM706.59 400h1.20v1h-1.20zM708.23 442h1.20v1h-1.20zM708.23 425h1.20v1h-1.20zM708.23 409h1.20v1h-1.20zM709.88 440h1.20v1h-1.20zM709.88 426h1.20v1h-1.20zM709.88 412h1.20v1h-1.20zM709.88 400h1.20v1h-1.20zM711.52 449h1.85v1h-1.85zM711.52 431h1.85v1h-1.85zM711.52 412h1.85v1h-1.85zM711.52 403h1.85v1h-1.85zM720.74 443h2.50v1h-2.50zM720.74 435h2.50v1h-2.50zM720.74 432h2.50v1h-2.50z"/><path fill="#24222c" d="M650.02 398h1.85v1h-1.85zM650.02 381h1.85v1h-1.85zM650.02 368h2.50v1h-2.50zM650.02 355h2.50v1h-2.50zM650.02 352h2.50v1h-2.50zM650.02 352h2.50v1h-2.50zM652.31 393h1.20v1h-1.20zM652.31 383h1.20v1h-1.20zM652.31 379h1.20v1h-1.20zM653.96 399h1.85v1h-1.85zM653.96 382h1.85v1h-1.85zM653.31 369h2.50v1h-2.50zM653.31 362h2.50v1h-2.50zM653.31 358h2.50v1h-2.50zM653.31 358h2.50v1h-2.50zM658.24 395h1.85v1h-1.85zM658.24 386h2.50v1h-2.50zM658.24 379h2.50v1h-2.50zM658.24 376h2.50v1h-2.50zM660.54 395h1.20v1h-1.20zM660.54 390h1.20v1h-1.20zM660.54 388h1.20v1h-1.20zM661.53 359h2.50v1h-2.50zM663.83 392h1.20v1h-1.20zM663.83 382h1.85v1h-1.85zM663.83 371h1.85v1h-1.85zM663.83 365h1.85v1h-1.85zM663.83 363h1.85v1h-1.85zM663.83 362h1.85v1h-1.85zM665.47 395h1.20v1h-1.20zM665.47 392h1.20v1h-1.20zM667.12 392h1.20v1h-1.20zM666.47 385h1.85v1h-1.85zM666.47 383h1.85v1h-1.85zM668.11 357h1.85v1h-1.85zM670.40 356h1.20v1h-1.20zM672.05 367h1.20v1h-1.20zM673.69 367h1.20v1h-1.20zM675.34 362h1.20v1h-1.20zM676.98 379h1.20v1h-1.20zM678.63 357h1.20v1h-1.20zM680.27 392h1.20v1h-1.20zM680.27 364h1.20v1h-1.20zM681.92 357h1.20v1h-1.20zM683.56 378h1.20v1h-1.20zM685.21 370h1.20v1h-1.20zM686.85 375h1.20v1h-1.20zM688.50 374h1.20v1h-1.20zM690.14 379h1.20v1h-1.20zM691.79 360h1.20v1h-1.20zM693.43 355h1.20v1h-1.20zM695.08 367h1.20v1h-1.20zM696.72 368h1.20v1h-1.20zM698.37 395h1.20v1h-1.20zM698.37 371h1.20v1h-1.20zM698.37 352h1.20v1h-1.20zM700.01 397h1.20v1h-1.20zM700.01 375h1.85v1h-1.85zM700.01 355h1.85v1h-1.85zM701.66 385h1.85v1h-1.85zM701.66 380h1.85v1h-1.85zM703.30 396h1.20v1h-1.20zM703.30 391h1.85v1h-1.85zM703.30 391h1.85v1h-1.85zM704.95 398h1.20v1h-1.20zM704.95 393h1.20v1h-1.20zM705.94 380h2.50v1h-2.50zM705.94 376h2.50v1h-2.50zM705.94 376h2.50v1h-2.50zM708.23 397h1.20v1h-1.20zM708.23 393h1.85v1h-1.85zM709.88 395h1.85v1h-1.85zM711.52 399h1.85v1h-1.85z"/><path fill="#1f1d26" d="M661.53 341h2.50v1h-2.50zM661.53 331h2.50v1h-2.50zM661.53 321h2.50v1h-2.50zM661.53 318h2.50v1h-2.50zM661.53 317h2.50v1h-2.50zM668.11 341h1.85v1h-1.85zM668.11 329h1.85v1h-1.85zM668.11 323h1.85v1h-1.85zM668.11 320h1.85v1h-1.85zM668.11 320h1.85v1h-1.85zM670.40 336h1.20v1h-1.20zM669.75 319h1.85v1h-1.85zM669.75 307h1.85v1h-1.85zM669.75 303h1.85v1h-1.85zM669.75 303h1.85v1h-1.85zM669.75 302h1.85v1h-1.85zM672.05 337h1.20v1h-1.20zM672.05 318h1.20v1h-1.20zM671.40 301h1.85v1h-1.85zM673.69 323h1.20v1h-1.20zM673.69 308h1.20v1h-1.20zM675.34 304h1.20v1h-1.20zM676.98 300h1.20v1h-1.20zM678.63 310h1.20v1h-1.20zM680.27 325h1.20v1h-1.20zM680.27 302h1.20v1h-1.20zM681.92 309h1.20v1h-1.20zM683.56 333h1.20v1h-1.20zM685.21 305h1.20v1h-1.20zM686.85 309h1.20v1h-1.20zM688.50 329h1.20v1h-1.20zM690.14 335h1.20v1h-1.20zM690.14 302h1.20v1h-1.20zM691.79 305h1.20v1h-1.20zM693.43 316h1.20v1h-1.20zM695.08 331h1.20v1h-1.20zM696.72 340h1.20v1h-1.20zM696.72 319h1.85v1h-1.85zM696.72 306h1.85v1h-1.85zM696.72 300h1.85v1h-1.85zM696.72 300h1.85v1h-1.85zM698.37 338h1.20v1h-1.20zM698.37 334h1.20v1h-1.20zM698.37 333h1.20v1h-1.20zM700.01 340h1.85v1h-1.85zM699.36 331h2.50v1h-2.50zM699.36 331h2.50v1h-2.50z"/><path fill="#1a1920" d="M671.40 289h1.85v1h-1.85zM671.40 283h1.85v1h-1.85zM671.40 283h1.85v1h-1.85zM673.69 298h1.20v1h-1.20zM673.69 285h1.20v1h-1.20zM673.04 281h1.85v1h-1.85zM673.04 281h1.85v1h-1.85zM674.69 264h1.85v1h-1.85zM676.98 252h1.85v1h-1.85zM678.63 292h1.20v1h-1.20zM678.63 279h1.20v1h-1.20zM678.63 269h1.85v1h-1.85zM678.63 263h1.85v1h-1.85zM678.63 263h1.85v1h-1.85zM680.27 286h1.20v1h-1.20zM680.27 278h1.20v1h-1.20zM680.27 273h1.20v1h-1.20zM680.27 273h1.20v1h-1.20zM681.27 260h1.85v1h-1.85zM683.56 297h1.20v1h-1.20zM683.56 276h1.20v1h-1.20zM683.56 261h1.20v1h-1.20zM686.85 262h1.20v1h-1.20zM688.50 283h1.20v1h-1.20zM688.50 254h1.20v1h-1.20zM690.14 282h1.20v1h-1.20zM690.14 271h1.20v1h-1.20zM690.14 259h1.20v1h-1.20zM690.14 253h1.20v1h-1.20zM690.14 253h1.20v1h-1.20zM690.14 252h1.20v1h-1.20zM691.14 251h2.50v1h-2.50zM693.43 295h1.20v1h-1.20zM693.43 279h1.20v1h-1.20zM693.43 266h1.20v1h-1.20zM693.43 261h1.20v1h-1.20zM693.43 260h1.85v1h-1.85zM695.08 298h1.85v1h-1.85zM695.08 278h1.85v1h-1.85zM695.08 266h1.85v1h-1.85zM695.08 262h1.85v1h-1.85zM695.08 262h1.85v1h-1.85z"/><path fill="#15141a" d="M674.69 242h1.85v1h-1.85zM674.69 226h1.85v1h-1.85zM674.69 221h1.85v1h-1.85zM674.69 220h1.85v1h-1.85zM676.33 211h2.50v1h-2.50zM681.27 236h2.50v1h-2.50zM681.27 215h2.50v1h-2.50zM683.56 249h1.20v1h-1.20zM683.56 246h1.20v1h-1.20zM683.56 246h1.20v1h-1.20zM684.56 237h1.85v1h-1.85zM686.85 243h1.20v1h-1.20zM686.85 224h1.20v1h-1.20zM686.85 211h1.85v1h-1.85zM686.85 207h1.85v1h-1.85zM686.85 207h1.85v1h-1.85zM686.85 206h1.85v1h-1.85zM688.50 239h1.85v1h-1.85zM688.50 228h1.85v1h-1.85zM688.50 222h1.85v1h-1.85zM688.50 222h1.85v1h-1.85zM691.14 224h2.50v1h-2.50z"/><path fill="#100f14" d="M676.33 181h2.50v1h-2.50zM676.33 164h2.50v1h-2.50zM676.33 158h2.50v1h-2.50zM676.33 158h2.50v1h-2.50zM681.27 199h2.50v1h-2.50zM681.27 195h2.50v1h-2.50zM681.27 194h2.50v1h-2.50zM681.27 193h2.50v1h-2.50zM684.56 198h2.50v1h-2.50zM684.56 180h2.50v1h-2.50zM684.56 170h2.50v1h-2.50zM684.56 164h2.50v1h-2.50zM684.56 164h2.50v1h-2.50zM684.56 162h2.50v1h-2.50zM691.14 197h2.50v1h-2.50zM691.14 181h2.50v1h-2.50zM691.14 175h2.50v1h-2.50zM691.14 174h2.50v1h-2.50z"/></svg>
<div class="yl" style="top:162.9px">950</div>
<div class="yl" style="top:236.6px">760</div>
<div class="yl" style="top:310.1px">570</div>
<div class="yl" style="top:383.8px">380</div>
<div class="yl" style="top:457.4px">190</div>
<div class="yl" style="top:531.0px">0</div>
<div class="xl" style="left:116.06px">3/5</div>
<div class="xl" style="left:157.18px">3/30</div>
<div class="xl" style="left:198.30px">4/24</div>
<div class="xl" style="left:239.42px">5/19</div>
<div class="xl" style="left:280.54px">6/13</div>
<div class="xl" style="left:321.66px">7/8</div>
<div class="xl" style="left:362.78px">8/2</div>
<div class="xl" style="left:403.90px">8/27</div>
<div class="xl" style="left:445.01px">9/21</div>
<div class="xl" style="left:486.13px">10/16</div>
<div class="xl" style="left:527.25px">11/10</div>
<div class="xl" style="left:568.37px">12/5</div>
<div class="xl" style="left:609.49px">12/30</div>
<div class="xl" style="left:650.61px">1/24</div>
<div class="xl" style="left:706.53px">2/27</div>
</body></html>
